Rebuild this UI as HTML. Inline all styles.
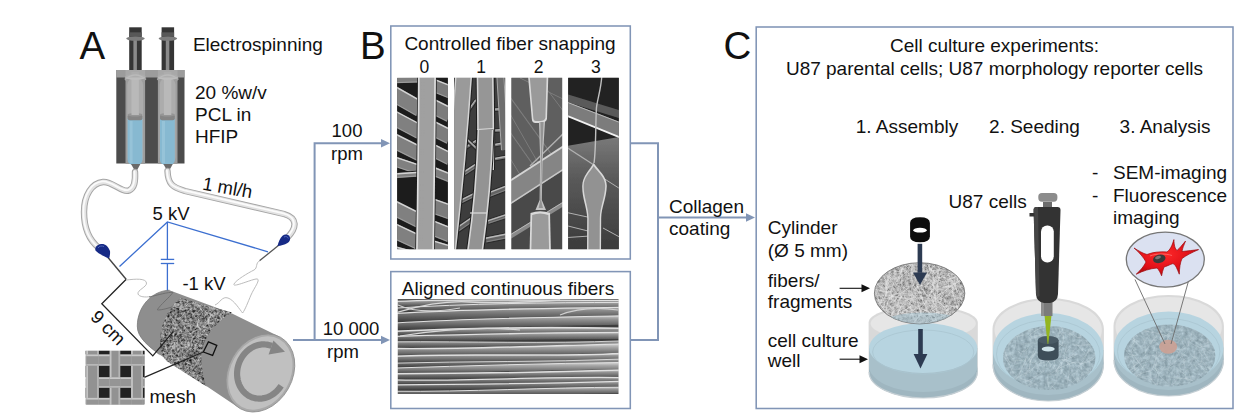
<!DOCTYPE html>
<html><head><meta charset="utf-8"><style>
html,body{margin:0;padding:0;background:#fff;overflow:hidden}
svg{display:block}
text{font-family:"Liberation Sans",sans-serif}
</style></head><body>
<svg width="1252" height="415" viewBox="0 0 1252 415">
<defs></defs>
<rect x="116.3" y="70" width="68.2" height="93.5" fill="#4c4c4c"/>
<rect x="125.5" y="70" width="19.6" height="94" fill="#9d9d9d"/>
<rect x="127.2" y="78" width="16" height="86" rx="7" fill="#acacac"/>
<path d="M127.6,118 L142.4,118 L142.4,160 Q142.4,165 135,165 Q127.6,165 127.6,160 Z" fill="#87b9d1"/>
<rect x="129.6" y="121" width="3" height="42" fill="#9cc7dc" opacity="0.7"/>
<rect x="127.6" y="114.3" width="14.8" height="6" rx="2" fill="#858585"/>
<ellipse cx="135" cy="114.8" rx="7.4" ry="1.8" fill="#959595"/>
<rect x="131.5" y="72" width="7.4" height="43" fill="#b9b9b9"/>
<path d="M131,164 L140.4,164 L135.8,172.5 Z" fill="#6a6a6a"/>
<ellipse cx="135.4" cy="77" rx="10.5" ry="3" fill="#bdbdbd"/>
<rect x="129.2" y="27.3" width="12.5" height="42.7" fill="#353535"/>
<rect x="133.4" y="40" width="3.5" height="30" fill="#8a8a8a"/>
<rect x="129.2" y="32.3" width="12.5" height="4.4" fill="#585858"/>
<ellipse cx="135.5" cy="38.6" rx="9.3" ry="2.2" fill="#7c7c7c"/>
<rect x="157.9" y="70" width="19.6" height="94" fill="#9d9d9d"/>
<rect x="159.6" y="78" width="16" height="86" rx="7" fill="#acacac"/>
<path d="M160.0,118 L174.8,118 L174.8,160 Q174.8,165 167.4,165 Q160.0,165 160.0,160 Z" fill="#87b9d1"/>
<rect x="162.0" y="121" width="3" height="42" fill="#9cc7dc" opacity="0.7"/>
<rect x="160.0" y="114.3" width="14.8" height="6" rx="2" fill="#858585"/>
<ellipse cx="167.4" cy="114.8" rx="7.4" ry="1.8" fill="#959595"/>
<rect x="163.9" y="72" width="7.4" height="43" fill="#b9b9b9"/>
<path d="M163.4,164 L172.8,164 L168.20000000000002,172.5 Z" fill="#6a6a6a"/>
<ellipse cx="167.8" cy="77" rx="10.5" ry="3" fill="#bdbdbd"/>
<rect x="161.6" y="27.3" width="12.5" height="42.7" fill="#353535"/>
<rect x="165.8" y="40" width="3.5" height="30" fill="#8a8a8a"/>
<rect x="161.6" y="32.3" width="12.5" height="4.4" fill="#585858"/>
<ellipse cx="167.9" cy="38.6" rx="9.3" ry="2.2" fill="#7c7c7c"/>
<rect x="116.3" y="70" width="68.2" height="7.5" fill="#aaaaaa" opacity="0.85"/>
<path d="M124.8,79.5 Q135.4,70.5 146,79.5" fill="none" stroke="#bababa" stroke-width="1.6"/>
<path d="M125.5,78 L128.5,81 L125.5,81 Z" fill="#a0a0a0"/>
<path d="M145.1,78 L142.1,81 L145.1,81 Z" fill="#a0a0a0"/>
<path d="M157.2,79.5 Q167.8,70.5 178.4,79.5" fill="none" stroke="#bababa" stroke-width="1.6"/>
<path d="M157.9,78 L160.9,81 L157.9,81 Z" fill="#a0a0a0"/>
<path d="M177.5,78 L174.5,81 L177.5,81 Z" fill="#a0a0a0"/>
<path d="M135,172 C135.5,182 134.5,188 129,190.5 C122,193 112,181 103,182 C92,183 84,195 84,212 C84,228 89,240 99,248" fill="none" stroke="#a5a5a5" stroke-width="6.4" stroke-linecap="round"/>
<path d="M135,172 C135.5,182 134.5,188 129,190.5 C122,193 112,181 103,182 C92,183 84,195 84,212 C84,228 89,240 99,248" fill="none" stroke="#e2e2e2" stroke-width="4.4" stroke-linecap="round"/>
<path d="M135,172 C135.5,182 134.5,188 129,190.5 C122,193 112,181 103,182 C92,183 84,195 84,212 C84,228 89,240 99,248" fill="none" stroke="#fbfbfb" stroke-width="1.8" stroke-linecap="round" transform="translate(-0.6,-0.6)"/>
<path d="M167.5,171 C168,184 172,187 185,191 L284,214 C298,218 297,228 287,238" fill="none" stroke="#a5a5a5" stroke-width="6.4" stroke-linecap="round"/>
<path d="M167.5,171 C168,184 172,187 185,191 L284,214 C298,218 297,228 287,238" fill="none" stroke="#e2e2e2" stroke-width="4.4" stroke-linecap="round"/>
<path d="M167.5,171 C168,184 172,187 185,191 L284,214 C298,218 297,228 287,238" fill="none" stroke="#fbfbfb" stroke-width="1.8" stroke-linecap="round" transform="translate(-0.6,-0.6)"/>
<line x1="108" y1="257.5" x2="126.3" y2="279.5" stroke="#444" stroke-width="1.4"/>
<line x1="279" y1="245" x2="259.5" y2="260.8" stroke="#555" stroke-width="1.3"/>
<path d="M109,258.5 C103,256 97.5,253 95.5,250.5 C94.5,247.5 97,244.5 101,244 C105,243.5 108,246 110,251 C110.3,253.5 109.8,256.5 109,258.5 Z" fill="#162a86"/>
<path d="M98,248 C99,246 102,245.5 104,246.5" fill="none" stroke="#4f66b8" stroke-width="1"/>
<path d="M277.5,246 C278.5,242 280,238 282.5,235.8 C285,233.8 288.5,234.3 289.8,237 C290.8,239.5 289.5,242 287.5,243 C284.5,244.8 281,245.8 277.5,246 Z" fill="#162a86"/>
<path d="M284,237 C286,236 288,236.8 288.3,238.5" fill="none" stroke="#4f66b8" stroke-width="1"/>
<polyline points="119.5,266.5 167.4,222 268,251.8" fill="none" stroke="#3c6fd0" stroke-width="1.3"/>
<line x1="167.4" y1="222" x2="167.4" y2="259.3" stroke="#3c6fd0" stroke-width="1.3"/>
<line x1="167.4" y1="263.6" x2="167.4" y2="291" stroke="#3c6fd0" stroke-width="1.3"/>
<line x1="160.8" y1="259.4" x2="174.2" y2="259.4" stroke="#3c6fd0" stroke-width="1.3"/>
<line x1="160.8" y1="263.5" x2="174.2" y2="263.5" stroke="#3c6fd0" stroke-width="1.3"/>
<path d="M126.5,280 C135,279 146,278 146.5,283 C147,287 137,290 138,294 C139,297 146,297.5 150,296.5" fill="none" stroke="#b4b4b4" stroke-width="0.9"/>
<path d="M260,260.5 C255,263 258,268 254,270 C248,273 236,280 234,284 C232,288 250,280 256,279 C262,278 254,288 251,295 C248,302 245,310 242.6,313 C240,310 234,300 228,298 C222,296 220,303 215,305" fill="none" stroke="#b4b4b4" stroke-width="0.9"/>
<path d="M169.4,290.2 L232,313.4 L279.2,336.6 L260.4,373 L238.7,407.7 L159.5,354.6 C150,347 137,338 137.3,326 C137.5,306 152,291 169.4,290.2 Z" fill="#8e8e8e"/>
<path d="M159.5,354.6 C150,347 137,338 137.3,326 C137.5,306 152,291 169.4,290.2" fill="none" stroke="#7a7a7a" stroke-width="0.8"/>
<clipPath id="bandclip"><path d="M180.4,298 L232,312.6 C212,325 192,345 206.5,386.5 L166.5,361 C152,345 164,310 180.4,298 Z"/></clipPath>
<filter id="bandtex" color-interpolation-filters="sRGB" x="150" y="285" width="95" height="110" filterUnits="userSpaceOnUse"><feTurbulence type="fractalNoise" baseFrequency="0.4" numOctaves="3" seed="4"/><feColorMatrix type="matrix" values="1.0 0 0 0 -0.1  1.0 0 0 0 -0.1  1.0 0 0 0 -0.1  0 0 0 0 1"/></filter>
<g clip-path="url(#bandclip)"><rect x="150" y="285" width="95" height="110" filter="url(#bandtex)"/>
<g fill="none">
<path d="M178.9,307.1 Q183.7,307.0 187.8,309.2" stroke="#d8d8d8" stroke-width="0.58" opacity="0.85"/>
<path d="M169.8,300.6 Q172.9,299.6 175.2,305.6" stroke="#d8d8d8" stroke-width="0.59" opacity="0.85"/>
<path d="M204.3,350.3 Q200.1,350.2 203.1,354.6" stroke="#c0c0c0" stroke-width="0.42" opacity="0.85"/>
<path d="M164.0,303.8 Q158.7,306.2 158.6,307.3" stroke="#c0c0c0" stroke-width="0.44" opacity="0.85"/>
<path d="M197.5,298.3 Q200.7,299.0 201.0,301.0" stroke="#e8e8e8" stroke-width="0.47" opacity="0.85"/>
<path d="M228.6,328.2 Q233.4,326.4 233.7,331.4" stroke="#e8e8e8" stroke-width="0.48" opacity="0.85"/>
<path d="M224.6,364.9 Q218.4,364.5 218.3,365.3" stroke="#e8e8e8" stroke-width="0.39" opacity="0.85"/>
<path d="M192.6,295.9 Q189.7,302.1 185.7,302.2" stroke="#e8e8e8" stroke-width="0.44" opacity="0.85"/>
<path d="M181.1,341.7 Q182.9,340.9 191.2,343.9" stroke="#d8d8d8" stroke-width="0.37" opacity="0.85"/>
<path d="M210.2,356.7 Q203.4,359.0 200.1,363.1" stroke="#e8e8e8" stroke-width="0.36" opacity="0.85"/>
<path d="M190.3,308.8 Q194.9,306.3 195.2,309.7" stroke="#c0c0c0" stroke-width="0.45" opacity="0.85"/>
<path d="M228.1,341.7 Q227.1,341.3 229.7,346.7" stroke="#b0b0b0" stroke-width="0.57" opacity="0.85"/>
<path d="M175.1,333.5 Q175.6,332.0 168.7,336.0" stroke="#c0c0c0" stroke-width="0.39" opacity="0.85"/>
<path d="M206.7,293.2 Q209.4,293.3 215.6,299.0" stroke="#e8e8e8" stroke-width="0.50" opacity="0.85"/>
<path d="M178.4,304.5 Q174.3,307.3 167.7,306.2" stroke="#b0b0b0" stroke-width="0.57" opacity="0.85"/>
<path d="M216.7,379.5 Q217.7,381.2 220.2,389.2" stroke="#b0b0b0" stroke-width="0.37" opacity="0.85"/>
<path d="M157.6,312.9 Q155.3,311.2 160.1,317.5" stroke="#c0c0c0" stroke-width="0.48" opacity="0.85"/>
<path d="M230.8,353.4 Q231.6,355.8 234.4,356.1" stroke="#e8e8e8" stroke-width="0.50" opacity="0.85"/>
<path d="M191.4,303.5 Q187.3,302.3 183.5,304.1" stroke="#c0c0c0" stroke-width="0.38" opacity="0.85"/>
<path d="M180.4,318.5 Q181.3,324.7 189.7,323.6" stroke="#e8e8e8" stroke-width="0.39" opacity="0.85"/>
<path d="M197.1,294.7 Q195.9,296.6 188.9,295.3" stroke="#e8e8e8" stroke-width="0.48" opacity="0.85"/>
<path d="M227.4,327.6 Q227.0,331.5 226.6,333.3" stroke="#c0c0c0" stroke-width="0.55" opacity="0.85"/>
<path d="M219.9,366.0 Q218.6,365.1 219.6,371.8" stroke="#d8d8d8" stroke-width="0.55" opacity="0.85"/>
<path d="M191.2,311.4 Q195.7,317.1 195.4,319.2" stroke="#e8e8e8" stroke-width="0.59" opacity="0.85"/>
<path d="M182.3,314.0 Q182.3,316.7 187.0,317.4" stroke="#d8d8d8" stroke-width="0.47" opacity="0.85"/>
<path d="M206.2,372.0 Q208.3,376.3 203.9,376.1" stroke="#c0c0c0" stroke-width="0.47" opacity="0.85"/>
<path d="M166.8,370.9 Q167.9,372.0 161.4,374.8" stroke="#b0b0b0" stroke-width="0.54" opacity="0.85"/>
<path d="M159.0,307.9 Q165.7,308.1 170.9,308.9" stroke="#c0c0c0" stroke-width="0.50" opacity="0.85"/>
<path d="M201.5,339.4 Q206.9,338.3 211.6,344.8" stroke="#d8d8d8" stroke-width="0.48" opacity="0.85"/>
<path d="M229.5,335.4 Q222.5,336.2 220.1,341.1" stroke="#e8e8e8" stroke-width="0.48" opacity="0.85"/>
<path d="M215.4,324.6 Q208.2,328.6 208.1,328.8" stroke="#b0b0b0" stroke-width="0.52" opacity="0.85"/>
<path d="M219.6,343.7 Q211.8,342.9 209.8,347.6" stroke="#d8d8d8" stroke-width="0.57" opacity="0.85"/>
<path d="M216.5,352.9 Q218.1,356.1 225.5,357.5" stroke="#d8d8d8" stroke-width="0.49" opacity="0.85"/>
<path d="M179.1,343.8 Q172.6,347.0 172.5,349.1" stroke="#c0c0c0" stroke-width="0.40" opacity="0.85"/>
<path d="M155.5,301.8 Q162.4,298.6 163.1,302.4" stroke="#e8e8e8" stroke-width="0.50" opacity="0.85"/>
<path d="M194.0,343.2 Q194.9,347.8 195.4,352.7" stroke="#c0c0c0" stroke-width="0.52" opacity="0.85"/>
<path d="M224.8,386.2 Q227.7,391.9 223.6,392.2" stroke="#c0c0c0" stroke-width="0.45" opacity="0.85"/>
<path d="M184.6,323.6 Q183.3,326.6 186.7,332.7" stroke="#d8d8d8" stroke-width="0.57" opacity="0.85"/>
<path d="M164.8,363.6 Q172.1,369.4 173.2,367.6" stroke="#c0c0c0" stroke-width="0.54" opacity="0.85"/>
<path d="M159.8,380.5 Q156.3,384.4 157.1,385.1" stroke="#b0b0b0" stroke-width="0.43" opacity="0.85"/>
<path d="M168.2,323.9 Q173.6,323.7 178.0,324.5" stroke="#d8d8d8" stroke-width="0.45" opacity="0.85"/>
<path d="M194.9,321.5 Q203.8,321.4 205.9,325.6" stroke="#d8d8d8" stroke-width="0.37" opacity="0.85"/>
<path d="M174.6,382.6 Q175.2,387.3 170.6,386.4" stroke="#e8e8e8" stroke-width="0.45" opacity="0.85"/>
<path d="M196.5,343.5 Q196.8,349.3 200.7,350.3" stroke="#c0c0c0" stroke-width="0.46" opacity="0.85"/>
<path d="M158.0,385.8 Q151.0,391.3 150.6,391.1" stroke="#d8d8d8" stroke-width="0.42" opacity="0.85"/>
<path d="M162.1,293.2 Q166.9,299.9 165.2,304.7" stroke="#d8d8d8" stroke-width="0.48" opacity="0.85"/>
<path d="M171.8,302.9 Q172.0,301.9 177.0,303.8" stroke="#e8e8e8" stroke-width="0.48" opacity="0.85"/>
<path d="M169.1,336.6 Q174.6,344.0 175.3,343.6" stroke="#d8d8d8" stroke-width="0.35" opacity="0.85"/>
<path d="M212.8,347.1 Q216.5,346.7 213.3,352.6" stroke="#b0b0b0" stroke-width="0.51" opacity="0.85"/>
<path d="M197.3,380.9 Q198.4,383.6 204.0,390.6" stroke="#c0c0c0" stroke-width="0.56" opacity="0.85"/>
<path d="M210.7,355.6 Q208.8,355.8 214.0,362.0" stroke="#d8d8d8" stroke-width="0.51" opacity="0.85"/>
<path d="M225.0,335.1 Q223.0,337.1 222.8,338.9" stroke="#e8e8e8" stroke-width="0.50" opacity="0.85"/>
<path d="M209.5,296.5 Q207.3,297.5 213.1,300.6" stroke="#e8e8e8" stroke-width="0.59" opacity="0.85"/>
<path d="M197.4,316.4 Q199.6,317.3 204.0,326.1" stroke="#b0b0b0" stroke-width="0.37" opacity="0.85"/>
<path d="M175.2,357.6 Q169.6,362.1 170.6,361.5" stroke="#c0c0c0" stroke-width="0.45" opacity="0.85"/>
<path d="M155.5,294.2 Q158.5,296.6 160.2,298.5" stroke="#c0c0c0" stroke-width="0.51" opacity="0.85"/>
<path d="M211.4,379.9 Q217.2,380.1 215.1,386.0" stroke="#c0c0c0" stroke-width="0.36" opacity="0.85"/>
<path d="M221.3,381.2 Q220.8,381.7 215.3,387.9" stroke="#d8d8d8" stroke-width="0.56" opacity="0.85"/>
<path d="M200.5,381.3 Q195.6,381.4 195.1,389.1" stroke="#c0c0c0" stroke-width="0.51" opacity="0.85"/>
<path d="M231.6,329.7 Q231.5,330.5 239.2,330.9" stroke="#c0c0c0" stroke-width="0.47" opacity="0.85"/>
<path d="M152.3,371.8 Q152.5,378.0 152.2,381.8" stroke="#d8d8d8" stroke-width="0.54" opacity="0.85"/>
<path d="M191.3,372.9 Q197.4,374.4 199.3,380.2" stroke="#b0b0b0" stroke-width="0.47" opacity="0.85"/>
<path d="M183.8,339.9 Q181.2,344.2 176.7,346.2" stroke="#d8d8d8" stroke-width="0.50" opacity="0.85"/>
<path d="M179.5,357.2 Q174.8,361.4 176.0,366.0" stroke="#b0b0b0" stroke-width="0.42" opacity="0.85"/>
<path d="M207.8,361.2 Q210.8,364.7 213.5,368.7" stroke="#b0b0b0" stroke-width="0.54" opacity="0.85"/>
<path d="M234.4,346.9 Q237.4,346.1 240.7,348.6" stroke="#d8d8d8" stroke-width="0.55" opacity="0.85"/>
<path d="M232.4,336.9 Q238.3,336.5 237.2,340.7" stroke="#d8d8d8" stroke-width="0.39" opacity="0.85"/>
<path d="M195.5,387.3 Q193.4,391.7 191.2,390.0" stroke="#e8e8e8" stroke-width="0.41" opacity="0.85"/>
<path d="M226.5,340.6 Q228.5,340.2 230.7,340.7" stroke="#e8e8e8" stroke-width="0.53" opacity="0.85"/>
<path d="M186.5,329.6 Q186.4,330.5 189.1,333.9" stroke="#b0b0b0" stroke-width="0.38" opacity="0.85"/>
<path d="M228.9,363.3 Q231.3,366.9 235.8,372.2" stroke="#d8d8d8" stroke-width="0.44" opacity="0.85"/>
<path d="M187.5,319.5 Q192.3,318.5 191.7,320.9" stroke="#c0c0c0" stroke-width="0.41" opacity="0.85"/>
<path d="M174.1,343.1 Q178.8,348.7 176.2,348.2" stroke="#b0b0b0" stroke-width="0.58" opacity="0.85"/>
<path d="M230.1,346.9 Q236.8,347.3 239.7,348.4" stroke="#c0c0c0" stroke-width="0.51" opacity="0.85"/>
<path d="M175.8,296.9 Q180.8,297.9 186.3,301.3" stroke="#e8e8e8" stroke-width="0.41" opacity="0.85"/>
<path d="M213.3,357.3 Q215.8,361.1 218.6,362.2" stroke="#d8d8d8" stroke-width="0.39" opacity="0.85"/>
<path d="M165.4,312.8 Q163.2,321.7 165.5,324.0" stroke="#b0b0b0" stroke-width="0.46" opacity="0.85"/>
<path d="M197.5,316.4 Q195.5,318.0 196.5,321.7" stroke="#c0c0c0" stroke-width="0.57" opacity="0.85"/>
<path d="M214.2,333.3 Q213.0,335.6 213.7,340.6" stroke="#d8d8d8" stroke-width="0.47" opacity="0.85"/>
<path d="M199.7,328.0 Q201.6,335.5 198.8,337.5" stroke="#d8d8d8" stroke-width="0.42" opacity="0.85"/>
<path d="M172.6,332.0 Q171.7,335.5 165.1,333.1" stroke="#d8d8d8" stroke-width="0.38" opacity="0.85"/>
<path d="M187.3,368.4 Q182.0,365.5 176.9,369.4" stroke="#b0b0b0" stroke-width="0.59" opacity="0.85"/>
<path d="M172.6,302.9 Q173.9,309.0 172.3,308.1" stroke="#b0b0b0" stroke-width="0.37" opacity="0.85"/>
<path d="M216.5,292.1 Q212.2,296.3 215.4,297.0" stroke="#c0c0c0" stroke-width="0.51" opacity="0.85"/>
<path d="M195.8,335.7 Q199.1,340.8 205.5,338.9" stroke="#c0c0c0" stroke-width="0.45" opacity="0.85"/>
<path d="M170.6,352.1 Q171.4,357.4 172.9,355.4" stroke="#c0c0c0" stroke-width="0.47" opacity="0.85"/>
<path d="M171.5,316.7 Q166.4,317.6 164.5,326.1" stroke="#b0b0b0" stroke-width="0.57" opacity="0.85"/>
<path d="M205.7,300.1 Q205.4,302.9 207.1,305.8" stroke="#e8e8e8" stroke-width="0.53" opacity="0.85"/>
<path d="M182.1,331.6 Q186.1,329.8 184.5,334.9" stroke="#b0b0b0" stroke-width="0.59" opacity="0.85"/>
<path d="M177.9,374.0 Q182.2,374.2 182.4,377.7" stroke="#b0b0b0" stroke-width="0.50" opacity="0.85"/>
<path d="M226.4,340.5 Q232.7,344.9 237.5,342.5" stroke="#d8d8d8" stroke-width="0.40" opacity="0.85"/>
<path d="M232.9,306.2 Q234.2,309.8 237.2,307.0" stroke="#e8e8e8" stroke-width="0.53" opacity="0.85"/>
<path d="M234.8,385.2 Q241.1,389.0 240.3,388.8" stroke="#d8d8d8" stroke-width="0.43" opacity="0.85"/>
<path d="M212.2,375.9 Q210.1,378.4 214.3,387.6" stroke="#d8d8d8" stroke-width="0.44" opacity="0.85"/>
<path d="M231.3,304.4 Q234.8,310.5 240.6,311.5" stroke="#b0b0b0" stroke-width="0.37" opacity="0.85"/>
<path d="M210.5,311.6 Q209.8,317.6 211.9,319.8" stroke="#b0b0b0" stroke-width="0.36" opacity="0.85"/>
<path d="M186.1,373.2 Q187.4,370.3 196.1,374.5" stroke="#d8d8d8" stroke-width="0.41" opacity="0.85"/>
<path d="M214.0,381.9 Q219.9,385.3 218.4,386.9" stroke="#e8e8e8" stroke-width="0.54" opacity="0.85"/>
<path d="M209.2,384.4 Q208.0,389.3 205.1,389.3" stroke="#d8d8d8" stroke-width="0.36" opacity="0.85"/>
<path d="M171.4,339.5 Q164.7,338.4 159.9,341.2" stroke="#b0b0b0" stroke-width="0.55" opacity="0.85"/>
<path d="M163.0,341.7 Q159.5,343.6 159.0,342.5" stroke="#c0c0c0" stroke-width="0.50" opacity="0.85"/>
<path d="M179.2,324.0 Q173.2,323.7 173.9,328.3" stroke="#c0c0c0" stroke-width="0.41" opacity="0.85"/>
<path d="M157.4,295.4 Q163.4,302.0 161.8,302.6" stroke="#d8d8d8" stroke-width="0.42" opacity="0.85"/>
<path d="M159.0,301.6 Q156.1,302.7 154.1,308.0" stroke="#b0b0b0" stroke-width="0.47" opacity="0.85"/>
<path d="M226.0,315.5 Q224.9,320.4 219.7,320.9" stroke="#e8e8e8" stroke-width="0.42" opacity="0.85"/>
<path d="M199.1,329.3 Q201.0,330.2 207.1,335.1" stroke="#c0c0c0" stroke-width="0.42" opacity="0.85"/>
<path d="M227.3,310.8 Q226.9,312.6 230.5,314.0" stroke="#d8d8d8" stroke-width="0.51" opacity="0.85"/>
<path d="M234.2,302.2 Q233.7,307.6 227.7,306.4" stroke="#d8d8d8" stroke-width="0.57" opacity="0.85"/>
<path d="M171.3,297.0 Q165.1,295.9 163.8,301.6" stroke="#c0c0c0" stroke-width="0.46" opacity="0.85"/>
<path d="M173.6,369.8 Q179.8,372.6 184.5,373.6" stroke="#c0c0c0" stroke-width="0.36" opacity="0.85"/>
<path d="M180.2,296.4 Q188.0,300.4 192.1,297.9" stroke="#d8d8d8" stroke-width="0.55" opacity="0.85"/>
<path d="M185.9,329.2 Q186.5,330.2 194.6,331.4" stroke="#b0b0b0" stroke-width="0.37" opacity="0.85"/>
<path d="M160.4,331.5 Q155.4,332.6 156.9,339.1" stroke="#e8e8e8" stroke-width="0.45" opacity="0.85"/>
<path d="M175.5,322.8 Q179.3,326.4 182.0,332.4" stroke="#b0b0b0" stroke-width="0.35" opacity="0.85"/>
<path d="M215.6,372.2 Q216.4,380.1 218.7,380.8" stroke="#b0b0b0" stroke-width="0.58" opacity="0.85"/>
<path d="M187.2,374.0 Q183.5,372.6 180.4,376.6" stroke="#d8d8d8" stroke-width="0.36" opacity="0.85"/>
<path d="M163.8,372.6 Q166.4,378.0 162.2,379.6" stroke="#c0c0c0" stroke-width="0.39" opacity="0.85"/>
<path d="M175.5,344.1 Q180.8,348.5 186.3,347.9" stroke="#c0c0c0" stroke-width="0.43" opacity="0.85"/>
<path d="M221.5,296.3 Q225.5,302.2 227.7,305.8" stroke="#d8d8d8" stroke-width="0.58" opacity="0.85"/>
<path d="M203.5,374.5 Q199.2,375.3 199.4,377.7" stroke="#c0c0c0" stroke-width="0.56" opacity="0.85"/>
<path d="M167.2,313.8 Q166.1,314.4 166.8,321.0" stroke="#c0c0c0" stroke-width="0.59" opacity="0.85"/>
<path d="M219.7,311.3 Q216.2,315.2 210.0,316.5" stroke="#e8e8e8" stroke-width="0.38" opacity="0.85"/>
<path d="M201.8,347.0 Q203.7,351.4 206.9,354.4" stroke="#b0b0b0" stroke-width="0.45" opacity="0.85"/>
<path d="M182.5,342.4 Q189.1,342.1 187.9,342.4" stroke="#b0b0b0" stroke-width="0.54" opacity="0.85"/>
<path d="M216.7,337.8 Q213.8,337.6 217.2,343.2" stroke="#b0b0b0" stroke-width="0.44" opacity="0.85"/>
<path d="M218.6,342.4 Q220.2,346.4 227.8,343.6" stroke="#e8e8e8" stroke-width="0.54" opacity="0.85"/>
<path d="M194.5,297.4 Q199.6,298.2 197.5,304.9" stroke="#d8d8d8" stroke-width="0.60" opacity="0.85"/>
<path d="M212.8,373.5 Q209.9,377.3 207.2,373.8" stroke="#c0c0c0" stroke-width="0.52" opacity="0.85"/>
<path d="M211.8,314.1 Q208.1,317.7 208.2,324.1" stroke="#e8e8e8" stroke-width="0.58" opacity="0.85"/>
<path d="M189.9,317.4 Q191.0,324.2 190.6,329.1" stroke="#c0c0c0" stroke-width="0.43" opacity="0.85"/>
<path d="M155.1,310.2 Q153.9,313.9 149.9,311.3" stroke="#c0c0c0" stroke-width="0.55" opacity="0.85"/>
<path d="M173.9,368.8 Q175.7,369.4 170.0,370.7" stroke="#d8d8d8" stroke-width="0.41" opacity="0.85"/>
<path d="M196.5,377.7 Q197.4,381.2 200.4,386.8" stroke="#c0c0c0" stroke-width="0.44" opacity="0.85"/>
<path d="M215.5,336.2 Q210.0,340.7 211.7,340.1" stroke="#e8e8e8" stroke-width="0.43" opacity="0.85"/>
<path d="M232.2,379.0 Q228.6,382.8 221.4,382.7" stroke="#c0c0c0" stroke-width="0.39" opacity="0.85"/>
<path d="M203.1,335.2 Q196.4,334.3 195.5,337.8" stroke="#d8d8d8" stroke-width="0.36" opacity="0.85"/>
<path d="M152.2,327.5 Q151.1,330.4 154.3,331.9" stroke="#c0c0c0" stroke-width="0.40" opacity="0.85"/>
<path d="M203.8,339.5 Q199.2,337.2 198.8,340.5" stroke="#d8d8d8" stroke-width="0.37" opacity="0.85"/>
<path d="M164.0,358.5 Q165.2,356.7 158.9,362.0" stroke="#e8e8e8" stroke-width="0.50" opacity="0.85"/>
<path d="M200.0,352.2 Q197.4,352.3 200.2,360.3" stroke="#d8d8d8" stroke-width="0.48" opacity="0.85"/>
<path d="M185.7,315.8 Q180.1,317.6 182.3,318.6" stroke="#c0c0c0" stroke-width="0.39" opacity="0.85"/>
<path d="M168.6,352.8 Q169.3,353.8 165.1,360.1" stroke="#e8e8e8" stroke-width="0.37" opacity="0.85"/>
<path d="M204.0,391.4 Q204.6,395.3 204.6,401.2" stroke="#b0b0b0" stroke-width="0.54" opacity="0.85"/>
<path d="M190.6,366.2 Q190.3,366.5 196.4,371.1" stroke="#d8d8d8" stroke-width="0.38" opacity="0.85"/>
<path d="M226.0,384.5 Q226.3,389.9 233.8,393.0" stroke="#b0b0b0" stroke-width="0.52" opacity="0.85"/>
<path d="M228.1,389.2 Q228.2,386.6 221.9,390.6" stroke="#d8d8d8" stroke-width="0.39" opacity="0.85"/>
<path d="M227.1,376.2 Q232.9,375.1 232.0,378.9" stroke="#b0b0b0" stroke-width="0.43" opacity="0.85"/>
<path d="M171.9,382.8 Q170.6,390.3 166.7,390.2" stroke="#b0b0b0" stroke-width="0.47" opacity="0.85"/>
<path d="M196.0,292.6 Q191.8,296.0 191.9,293.2" stroke="#c0c0c0" stroke-width="0.45" opacity="0.85"/>
<path d="M200.6,348.5 Q200.1,349.8 205.9,349.1" stroke="#c0c0c0" stroke-width="0.44" opacity="0.85"/>
<path d="M163.8,294.9 Q163.6,298.2 161.3,298.4" stroke="#d8d8d8" stroke-width="0.37" opacity="0.85"/>
<path d="M201.0,328.3 Q199.7,327.7 192.1,334.0" stroke="#b0b0b0" stroke-width="0.38" opacity="0.85"/>
<path d="M169.1,303.2 Q169.7,305.3 165.3,305.2" stroke="#e8e8e8" stroke-width="0.47" opacity="0.85"/>
<path d="M163.0,371.2 Q164.5,372.9 168.5,378.5" stroke="#e8e8e8" stroke-width="0.41" opacity="0.85"/>
<path d="M175.5,363.6 Q181.0,366.5 179.2,369.4" stroke="#e8e8e8" stroke-width="0.50" opacity="0.85"/>
<path d="M154.6,333.3 Q150.5,337.4 148.9,338.2" stroke="#c0c0c0" stroke-width="0.53" opacity="0.85"/>
<path d="M220.7,349.5 Q221.5,350.8 222.0,355.6" stroke="#d8d8d8" stroke-width="0.35" opacity="0.85"/>
<path d="M192.7,341.1 Q197.0,342.8 201.4,346.8" stroke="#e8e8e8" stroke-width="0.49" opacity="0.85"/>
<path d="M165.2,373.5 Q166.8,380.9 173.8,381.2" stroke="#d8d8d8" stroke-width="0.47" opacity="0.85"/>
<path d="M234.3,348.1 Q232.3,353.6 236.8,352.3" stroke="#d8d8d8" stroke-width="0.46" opacity="0.85"/>
<path d="M205.6,329.2 Q206.7,329.7 207.0,335.5" stroke="#c0c0c0" stroke-width="0.59" opacity="0.85"/>
<path d="M162.5,351.4 Q157.3,356.6 159.4,360.4" stroke="#c0c0c0" stroke-width="0.57" opacity="0.85"/>
<path d="M189.4,347.4 Q191.3,348.7 190.1,353.9" stroke="#c0c0c0" stroke-width="0.38" opacity="0.85"/>
<path d="M190.3,380.5 Q191.2,383.8 195.2,383.9" stroke="#c0c0c0" stroke-width="0.53" opacity="0.85"/>
<path d="M232.9,364.3 Q232.8,371.9 236.9,372.2" stroke="#e8e8e8" stroke-width="0.59" opacity="0.85"/>
<path d="M212.5,302.2 Q217.1,307.9 223.6,305.9" stroke="#e8e8e8" stroke-width="0.53" opacity="0.85"/>
<path d="M188.1,311.6 Q190.0,312.2 196.7,314.6" stroke="#d8d8d8" stroke-width="0.35" opacity="0.85"/>
<path d="M222.9,335.7 Q218.4,332.0 217.1,336.0" stroke="#e8e8e8" stroke-width="0.50" opacity="0.85"/>
<path d="M185.6,366.1 Q187.4,373.6 188.0,377.1" stroke="#b0b0b0" stroke-width="0.56" opacity="0.85"/>
<path d="M207.4,357.2 Q205.7,360.1 202.7,367.2" stroke="#c0c0c0" stroke-width="0.51" opacity="0.85"/>
<path d="M189.7,323.3 Q193.3,326.9 198.3,326.0" stroke="#c0c0c0" stroke-width="0.41" opacity="0.85"/>
<path d="M187.2,337.5 Q189.8,345.3 189.7,346.1" stroke="#c0c0c0" stroke-width="0.57" opacity="0.85"/>
<path d="M179.2,293.1 Q171.0,292.6 169.0,296.1" stroke="#c0c0c0" stroke-width="0.39" opacity="0.85"/>
<path d="M216.9,386.1 Q221.4,387.7 224.6,388.6" stroke="#b0b0b0" stroke-width="0.48" opacity="0.85"/>
<path d="M205.1,374.9 Q209.8,376.5 207.3,382.7" stroke="#c0c0c0" stroke-width="0.45" opacity="0.85"/>
<path d="M215.3,304.2 Q214.4,307.8 220.5,314.9" stroke="#b0b0b0" stroke-width="0.37" opacity="0.85"/>
<path d="M158.2,383.5 Q156.5,384.3 153.5,391.2" stroke="#e8e8e8" stroke-width="0.54" opacity="0.85"/>
<path d="M230.0,344.7 Q226.8,344.1 225.3,348.1" stroke="#c0c0c0" stroke-width="0.58" opacity="0.85"/>
<path d="M157.7,371.8 Q158.3,376.9 155.3,376.8" stroke="#c0c0c0" stroke-width="0.44" opacity="0.85"/>
<path d="M205.0,373.9 Q203.9,379.5 206.1,384.4" stroke="#c0c0c0" stroke-width="0.54" opacity="0.85"/>
<path d="M191.0,370.4 Q190.7,376.6 187.5,375.0" stroke="#c0c0c0" stroke-width="0.47" opacity="0.85"/>
<path d="M218.9,371.9 Q215.8,374.8 215.7,378.0" stroke="#d8d8d8" stroke-width="0.51" opacity="0.85"/>
<path d="M182.1,384.9 Q190.0,389.1 192.7,386.8" stroke="#c0c0c0" stroke-width="0.48" opacity="0.85"/>
<path d="M180.6,350.2 Q180.9,351.4 188.0,355.9" stroke="#d8d8d8" stroke-width="0.49" opacity="0.85"/>
<path d="M222.9,310.6 Q217.6,312.2 217.0,315.3" stroke="#c0c0c0" stroke-width="0.50" opacity="0.85"/>
<path d="M209.1,389.7 Q207.2,391.5 204.6,391.2" stroke="#e8e8e8" stroke-width="0.40" opacity="0.85"/>
<path d="M209.5,345.1 Q213.5,350.4 211.4,354.8" stroke="#e8e8e8" stroke-width="0.45" opacity="0.85"/>
<path d="M220.6,339.3 Q224.1,345.2 221.1,347.8" stroke="#c0c0c0" stroke-width="0.47" opacity="0.85"/>
<path d="M196.8,378.3 Q194.7,379.8 193.2,380.2" stroke="#e8e8e8" stroke-width="0.56" opacity="0.85"/>
<path d="M183.1,333.9 Q189.9,336.3 194.5,336.6" stroke="#d8d8d8" stroke-width="0.36" opacity="0.85"/>
<path d="M155.8,365.7 Q147.6,368.9 145.9,372.4" stroke="#c0c0c0" stroke-width="0.36" opacity="0.85"/>
<path d="M211.6,354.5 Q207.5,355.7 205.5,357.4" stroke="#c0c0c0" stroke-width="0.42" opacity="0.85"/>
<path d="M180.4,317.2 Q180.6,318.9 183.1,320.6" stroke="#e8e8e8" stroke-width="0.48" opacity="0.85"/>
<path d="M174.6,342.6 Q174.1,346.5 169.0,353.1" stroke="#e8e8e8" stroke-width="0.53" opacity="0.85"/>
<path d="M162.6,389.3 Q159.4,389.7 157.9,389.3" stroke="#b0b0b0" stroke-width="0.49" opacity="0.85"/>
<path d="M156.1,322.0 Q161.2,324.0 159.5,324.3" stroke="#d8d8d8" stroke-width="0.55" opacity="0.85"/>
<path d="M227.5,353.2 Q227.4,358.1 224.0,361.4" stroke="#d8d8d8" stroke-width="0.40" opacity="0.85"/>
<path d="M207.4,337.8 Q209.6,335.7 217.0,341.0" stroke="#d8d8d8" stroke-width="0.58" opacity="0.85"/>
<path d="M206.4,328.9 Q202.8,330.2 198.1,335.5" stroke="#e8e8e8" stroke-width="0.40" opacity="0.85"/>
<path d="M154.8,294.0 Q157.1,298.2 152.8,302.3" stroke="#d8d8d8" stroke-width="0.56" opacity="0.85"/>
<path d="M216.2,334.1 Q214.2,340.1 219.0,343.2" stroke="#c0c0c0" stroke-width="0.47" opacity="0.85"/>
<path d="M186.2,302.2 Q187.0,301.2 193.4,307.9" stroke="#d8d8d8" stroke-width="0.35" opacity="0.85"/>
<path d="M207.6,390.7 Q208.7,393.9 216.0,397.5" stroke="#e8e8e8" stroke-width="0.53" opacity="0.85"/>
<path d="M172.1,365.4 Q177.0,367.5 177.5,366.2" stroke="#c0c0c0" stroke-width="0.53" opacity="0.85"/>
<path d="M159.0,354.9 Q163.1,357.7 160.2,364.5" stroke="#d8d8d8" stroke-width="0.53" opacity="0.85"/>
<path d="M152.9,293.5 Q145.7,294.5 145.2,298.5" stroke="#c0c0c0" stroke-width="0.59" opacity="0.85"/>
<path d="M221.3,352.9 Q219.9,353.2 214.9,353.9" stroke="#c0c0c0" stroke-width="0.39" opacity="0.85"/>
<path d="M218.2,328.3 Q215.7,331.6 214.6,336.7" stroke="#b0b0b0" stroke-width="0.59" opacity="0.85"/>
<path d="M217.1,348.7 Q224.0,350.9 223.3,349.9" stroke="#e8e8e8" stroke-width="0.57" opacity="0.85"/>
<path d="M212.2,293.6 Q210.7,298.7 207.7,296.2" stroke="#c0c0c0" stroke-width="0.44" opacity="0.85"/>
<path d="M208.8,352.2 Q202.5,351.4 199.7,358.5" stroke="#e8e8e8" stroke-width="0.42" opacity="0.85"/>
<path d="M165.1,384.1 Q159.4,384.4 157.2,390.4" stroke="#c0c0c0" stroke-width="0.42" opacity="0.85"/>
<path d="M222.6,372.7 Q216.9,370.7 213.5,375.2" stroke="#b0b0b0" stroke-width="0.55" opacity="0.85"/>
<path d="M168.6,367.0 Q173.7,372.3 177.1,374.7" stroke="#b0b0b0" stroke-width="0.53" opacity="0.85"/>
<path d="M228.9,350.6 Q229.9,352.8 230.3,354.5" stroke="#e8e8e8" stroke-width="0.54" opacity="0.85"/>
<path d="M171.3,350.0 Q166.3,351.7 160.9,353.9" stroke="#c0c0c0" stroke-width="0.40" opacity="0.85"/>
<path d="M168.0,310.1 Q170.5,313.7 172.0,318.8" stroke="#c0c0c0" stroke-width="0.41" opacity="0.85"/>
<path d="M228.6,341.3 Q230.4,343.0 232.9,351.4" stroke="#e8e8e8" stroke-width="0.50" opacity="0.85"/>
<path d="M180.6,343.9 Q186.6,347.1 184.8,344.4" stroke="#b0b0b0" stroke-width="0.50" opacity="0.85"/>
<path d="M169.7,384.5 Q172.3,386.2 175.7,386.4" stroke="#c0c0c0" stroke-width="0.41" opacity="0.85"/>
<path d="M155.1,312.1 Q154.2,313.3 160.4,313.5" stroke="#b0b0b0" stroke-width="0.47" opacity="0.85"/>
<path d="M222.2,381.5 Q223.2,388.1 217.5,391.3" stroke="#d8d8d8" stroke-width="0.41" opacity="0.85"/>
<path d="M198.9,356.1 Q195.0,360.7 192.9,366.1" stroke="#c0c0c0" stroke-width="0.44" opacity="0.85"/>
<path d="M171.5,364.1 Q172.4,361.0 166.2,365.1" stroke="#d8d8d8" stroke-width="0.56" opacity="0.85"/>
<path d="M155.9,370.6 Q157.6,371.4 151.6,379.3" stroke="#c0c0c0" stroke-width="0.43" opacity="0.85"/>
<path d="M152.5,311.9 Q150.6,317.9 149.7,321.5" stroke="#b0b0b0" stroke-width="0.43" opacity="0.85"/>
<path d="M173.3,304.4 Q174.6,303.5 180.1,308.4" stroke="#d8d8d8" stroke-width="0.47" opacity="0.85"/>
<path d="M227.7,371.9 Q222.1,374.2 223.2,374.5" stroke="#e8e8e8" stroke-width="0.57" opacity="0.85"/>
<path d="M163.6,336.7 Q164.0,338.3 158.9,337.8" stroke="#b0b0b0" stroke-width="0.59" opacity="0.85"/>
<path d="M178.8,315.4 Q178.4,319.5 180.8,319.9" stroke="#c0c0c0" stroke-width="0.53" opacity="0.85"/>
<path d="M197.9,306.5 Q200.9,307.8 205.3,314.6" stroke="#e8e8e8" stroke-width="0.49" opacity="0.85"/>
<path d="M176.6,372.4 Q179.1,373.3 182.3,374.5" stroke="#c0c0c0" stroke-width="0.59" opacity="0.85"/>
<path d="M156.7,381.5 Q160.2,382.7 164.1,387.3" stroke="#e8e8e8" stroke-width="0.54" opacity="0.85"/>
<path d="M232.6,335.2 Q232.7,336.4 237.0,339.4" stroke="#b0b0b0" stroke-width="0.57" opacity="0.85"/>
<path d="M156.8,364.6 Q149.7,367.3 150.4,365.1" stroke="#e8e8e8" stroke-width="0.48" opacity="0.85"/>
<path d="M188.8,371.0 Q191.2,371.8 196.0,380.0" stroke="#b0b0b0" stroke-width="0.40" opacity="0.85"/>
<path d="M199.4,305.8 Q199.1,305.2 195.3,309.4" stroke="#d8d8d8" stroke-width="0.56" opacity="0.85"/>
<path d="M225.8,365.1 Q227.2,369.1 234.4,370.4" stroke="#c0c0c0" stroke-width="0.50" opacity="0.85"/>
<path d="M168.8,298.6 Q172.0,299.7 171.6,308.0" stroke="#e8e8e8" stroke-width="0.43" opacity="0.85"/>
<path d="M221.9,378.5 Q229.1,378.5 229.8,378.8" stroke="#e8e8e8" stroke-width="0.41" opacity="0.85"/>
<path d="M198.7,390.6 Q198.1,395.2 196.2,394.0" stroke="#e8e8e8" stroke-width="0.48" opacity="0.85"/>
<path d="M189.0,343.6 Q190.0,348.4 185.9,347.4" stroke="#e8e8e8" stroke-width="0.54" opacity="0.85"/>
<path d="M224.1,349.6 Q224.3,355.9 230.9,358.5" stroke="#b0b0b0" stroke-width="0.48" opacity="0.85"/>
<path d="M196.0,345.7 Q191.8,343.4 191.9,346.2" stroke="#d8d8d8" stroke-width="0.43" opacity="0.85"/>
<path d="M198.1,387.5 Q198.0,386.1 194.1,388.5" stroke="#b0b0b0" stroke-width="0.48" opacity="0.85"/>
<path d="M210.3,302.3 Q203.2,303.5 203.4,310.8" stroke="#b0b0b0" stroke-width="0.50" opacity="0.85"/>
<path d="M215.2,303.0 Q213.2,301.7 210.6,304.8" stroke="#c0c0c0" stroke-width="0.39" opacity="0.85"/>
<path d="M199.5,366.7 Q200.8,367.1 195.0,369.4" stroke="#b0b0b0" stroke-width="0.50" opacity="0.85"/>
<path d="M202.0,295.6 Q206.7,295.8 213.6,297.5" stroke="#e8e8e8" stroke-width="0.53" opacity="0.85"/>
<path d="M222.0,348.4 Q224.4,354.0 228.3,358.5" stroke="#e8e8e8" stroke-width="0.48" opacity="0.85"/>
<path d="M231.5,385.4 Q233.3,387.3 233.0,391.2" stroke="#c0c0c0" stroke-width="0.37" opacity="0.85"/>
<path d="M187.9,342.5 Q193.6,345.6 191.7,344.2" stroke="#b0b0b0" stroke-width="0.51" opacity="0.85"/>
<path d="M219.2,380.4 Q225.8,379.2 230.2,381.6" stroke="#e8e8e8" stroke-width="0.51" opacity="0.85"/>
<path d="M218.9,295.6 Q217.3,294.4 223.4,297.4" stroke="#d8d8d8" stroke-width="0.42" opacity="0.85"/>
<path d="M177.3,356.8 Q180.3,359.2 175.9,361.5" stroke="#e8e8e8" stroke-width="0.37" opacity="0.85"/>
<path d="M201.0,385.2 Q203.9,392.3 200.7,392.7" stroke="#e8e8e8" stroke-width="0.42" opacity="0.85"/>
<path d="M213.1,366.0 Q215.1,366.9 214.0,372.3" stroke="#b0b0b0" stroke-width="0.40" opacity="0.85"/>
<path d="M211.0,338.1 Q209.3,340.5 208.1,346.0" stroke="#c0c0c0" stroke-width="0.43" opacity="0.85"/>
<path d="M167.7,346.6 Q172.9,349.5 171.4,357.7" stroke="#c0c0c0" stroke-width="0.43" opacity="0.85"/>
<path d="M179.0,319.0 Q179.8,318.6 187.6,325.9" stroke="#d8d8d8" stroke-width="0.50" opacity="0.85"/>
<path d="M180.9,357.8 Q176.2,361.9 173.8,361.8" stroke="#c0c0c0" stroke-width="0.60" opacity="0.85"/>
<path d="M208.2,385.4 Q203.5,386.2 204.5,391.7" stroke="#e8e8e8" stroke-width="0.56" opacity="0.85"/>
<path d="M195.0,365.9 Q191.2,371.6 187.7,372.7" stroke="#c0c0c0" stroke-width="0.45" opacity="0.85"/>
<path d="M160.6,333.0 Q163.7,338.5 168.4,336.1" stroke="#c0c0c0" stroke-width="0.45" opacity="0.85"/>
<path d="M217.0,379.3 Q218.3,383.1 220.3,387.5" stroke="#e8e8e8" stroke-width="0.42" opacity="0.85"/>
<path d="M184.4,347.5 Q188.6,353.3 188.2,353.5" stroke="#b0b0b0" stroke-width="0.45" opacity="0.85"/>
<path d="M176.9,345.7 Q177.0,348.6 179.0,355.9" stroke="#e8e8e8" stroke-width="0.43" opacity="0.85"/>
<path d="M222.0,375.8 Q226.1,382.6 231.3,382.8" stroke="#d8d8d8" stroke-width="0.36" opacity="0.85"/>
<path d="M173.3,381.6 Q171.4,385.7 172.6,387.9" stroke="#b0b0b0" stroke-width="0.48" opacity="0.85"/>
<path d="M194.9,360.5 Q197.2,362.5 198.0,366.9" stroke="#d8d8d8" stroke-width="0.52" opacity="0.85"/>
<path d="M195.6,301.9 Q197.2,305.8 197.7,308.6" stroke="#c0c0c0" stroke-width="0.59" opacity="0.85"/>
<path d="M192.4,336.0 Q186.6,336.3 183.4,336.1" stroke="#d8d8d8" stroke-width="0.39" opacity="0.85"/>
<path d="M178.4,389.8 Q175.1,398.3 178.0,400.4" stroke="#e8e8e8" stroke-width="0.56" opacity="0.85"/>
<path d="M234.2,380.8 Q235.8,382.6 240.7,384.3" stroke="#c0c0c0" stroke-width="0.45" opacity="0.85"/>
<path d="M157.0,348.5 Q157.5,352.6 155.9,353.2" stroke="#b0b0b0" stroke-width="0.35" opacity="0.85"/>
<path d="M152.2,363.1 Q147.3,360.9 144.1,365.2" stroke="#d8d8d8" stroke-width="0.52" opacity="0.85"/>
<path d="M168.3,341.8 Q172.3,345.2 174.0,348.0" stroke="#c0c0c0" stroke-width="0.49" opacity="0.85"/>
<path d="M186.1,304.2 Q181.1,302.8 182.3,307.8" stroke="#c0c0c0" stroke-width="0.59" opacity="0.85"/>
<path d="M192.7,338.8 Q190.9,342.4 186.7,343.1" stroke="#e8e8e8" stroke-width="0.39" opacity="0.85"/>
<path d="M171.8,319.5 Q173.8,325.1 170.1,323.5" stroke="#d8d8d8" stroke-width="0.44" opacity="0.85"/>
<path d="M189.3,330.6 Q187.9,335.0 185.2,332.1" stroke="#b0b0b0" stroke-width="0.36" opacity="0.85"/>
<path d="M171.8,314.3 Q168.5,312.9 170.4,319.4" stroke="#b0b0b0" stroke-width="0.43" opacity="0.85"/>
<path d="M202.0,388.0 Q196.0,387.7 194.1,389.3" stroke="#c0c0c0" stroke-width="0.45" opacity="0.85"/>
<path d="M185.1,363.2 Q179.9,361.4 181.3,364.9" stroke="#b0b0b0" stroke-width="0.40" opacity="0.85"/>
<path d="M232.6,321.1 Q236.9,321.7 240.6,324.1" stroke="#b0b0b0" stroke-width="0.51" opacity="0.85"/>
<path d="M231.8,334.2 Q229.9,339.5 229.9,345.4" stroke="#e8e8e8" stroke-width="0.41" opacity="0.85"/>
<path d="M154.9,358.4 Q159.5,356.8 160.8,361.6" stroke="#e8e8e8" stroke-width="0.49" opacity="0.85"/>
<path d="M217.4,347.5 Q212.2,348.8 211.2,352.1" stroke="#c0c0c0" stroke-width="0.53" opacity="0.85"/>
<path d="M183.3,387.8 Q180.5,386.1 177.7,388.7" stroke="#b0b0b0" stroke-width="0.52" opacity="0.85"/>
<path d="M230.2,391.8 Q234.9,396.4 231.8,400.4" stroke="#b0b0b0" stroke-width="0.50" opacity="0.85"/>
<path d="M169.6,379.2 Q169.9,379.9 169.4,384.2" stroke="#b0b0b0" stroke-width="0.36" opacity="0.85"/>
<path d="M211.6,306.5 Q211.9,310.3 209.1,309.8" stroke="#c0c0c0" stroke-width="0.43" opacity="0.85"/>
<path d="M207.0,302.9 Q208.8,305.1 210.6,310.6" stroke="#d8d8d8" stroke-width="0.53" opacity="0.85"/>
<path d="M159.3,320.9 Q159.8,328.6 162.6,330.9" stroke="#b0b0b0" stroke-width="0.54" opacity="0.85"/>
<path d="M225.3,378.1 Q223.1,381.5 228.5,382.0" stroke="#e8e8e8" stroke-width="0.57" opacity="0.85"/>
<path d="M154.1,362.4 Q149.5,365.6 146.4,362.4" stroke="#d8d8d8" stroke-width="0.40" opacity="0.85"/>
<path d="M161.6,383.3 Q154.8,383.5 155.5,391.0" stroke="#c0c0c0" stroke-width="0.46" opacity="0.85"/>
<path d="M214.8,307.6 Q215.1,316.0 213.2,317.4" stroke="#c0c0c0" stroke-width="0.49" opacity="0.85"/>
<path d="M211.5,317.5 Q208.2,316.6 207.4,323.7" stroke="#e8e8e8" stroke-width="0.58" opacity="0.85"/>
<path d="M224.6,350.5 Q221.3,347.2 215.1,351.3" stroke="#e8e8e8" stroke-width="0.40" opacity="0.85"/>
<path d="M227.9,367.0 Q225.7,370.9 225.2,370.8" stroke="#c0c0c0" stroke-width="0.42" opacity="0.85"/>
<path d="M159.5,386.6 Q157.4,389.3 152.2,388.2" stroke="#b0b0b0" stroke-width="0.48" opacity="0.85"/>
<path d="M208.2,312.6 Q206.2,314.7 199.8,316.9" stroke="#c0c0c0" stroke-width="0.36" opacity="0.85"/>
<path d="M210.3,372.6 Q213.6,376.7 209.4,378.6" stroke="#e8e8e8" stroke-width="0.41" opacity="0.85"/>
<path d="M156.9,327.8 Q158.4,327.0 162.8,332.1" stroke="#b0b0b0" stroke-width="0.52" opacity="0.85"/>
<path d="M171.7,316.2 Q175.9,319.0 173.1,324.2" stroke="#e8e8e8" stroke-width="0.38" opacity="0.85"/>
<path d="M210.7,350.8 Q206.5,352.9 208.4,356.2" stroke="#c0c0c0" stroke-width="0.52" opacity="0.85"/>
<path d="M164.8,389.9 Q164.1,396.6 168.0,400.2" stroke="#d8d8d8" stroke-width="0.44" opacity="0.85"/>
<path d="M169.1,298.0 Q173.3,299.4 174.2,301.7" stroke="#d8d8d8" stroke-width="0.39" opacity="0.85"/>
<path d="M188.9,348.9 Q184.7,351.8 187.8,355.1" stroke="#b0b0b0" stroke-width="0.37" opacity="0.85"/>
<path d="M211.5,390.0 Q215.4,390.9 219.5,392.9" stroke="#c0c0c0" stroke-width="0.55" opacity="0.85"/>
<path d="M178.7,327.9 Q181.1,331.6 181.7,331.6" stroke="#e8e8e8" stroke-width="0.51" opacity="0.85"/>
<path d="M158.5,366.7 Q156.3,367.7 159.8,370.7" stroke="#c0c0c0" stroke-width="0.38" opacity="0.85"/>
<path d="M211.7,323.0 Q214.5,326.0 215.0,331.3" stroke="#c0c0c0" stroke-width="0.44" opacity="0.85"/>
<path d="M197.7,328.9 Q198.0,333.1 205.5,336.2" stroke="#b0b0b0" stroke-width="0.58" opacity="0.85"/>
<path d="M230.4,341.4 Q232.3,344.0 237.5,345.2" stroke="#d8d8d8" stroke-width="0.39" opacity="0.85"/>
<path d="M170.9,305.8 Q176.1,313.0 173.7,314.5" stroke="#b0b0b0" stroke-width="0.40" opacity="0.85"/>
<path d="M212.0,292.3 Q209.5,294.0 202.4,297.0" stroke="#e8e8e8" stroke-width="0.37" opacity="0.85"/>
<path d="M156.6,363.1 Q158.1,367.8 167.5,365.3" stroke="#c0c0c0" stroke-width="0.58" opacity="0.85"/>
<path d="M165.7,321.6 Q163.7,322.8 164.2,329.0" stroke="#d8d8d8" stroke-width="0.49" opacity="0.85"/>
<path d="M194.9,334.8 Q190.5,337.9 191.7,342.5" stroke="#d8d8d8" stroke-width="0.55" opacity="0.85"/>
<path d="M157.0,359.6 Q160.2,366.8 162.3,366.8" stroke="#b0b0b0" stroke-width="0.51" opacity="0.85"/>
<path d="M163.4,378.5 Q164.5,380.1 160.0,386.1" stroke="#b0b0b0" stroke-width="0.52" opacity="0.85"/>
<path d="M164.2,349.9 Q158.9,348.6 155.9,351.4" stroke="#b0b0b0" stroke-width="0.45" opacity="0.85"/>
<path d="M161.5,310.1 Q157.5,318.4 159.8,321.0" stroke="#e8e8e8" stroke-width="0.51" opacity="0.85"/>
<path d="M167.6,359.0 Q170.9,362.5 174.9,365.4" stroke="#d8d8d8" stroke-width="0.53" opacity="0.85"/>
<path d="M227.5,348.7 Q227.0,350.3 221.7,357.8" stroke="#d8d8d8" stroke-width="0.51" opacity="0.85"/>
<path d="M231.7,343.5 Q229.9,350.5 227.5,349.9" stroke="#c0c0c0" stroke-width="0.49" opacity="0.85"/>
<path d="M216.3,305.7 Q219.2,305.6 226.4,307.5" stroke="#d8d8d8" stroke-width="0.53" opacity="0.85"/>
<path d="M231.3,338.0 Q236.8,335.7 235.8,340.0" stroke="#c0c0c0" stroke-width="0.49" opacity="0.85"/>
<path d="M228.2,379.1 Q225.0,383.1 224.4,382.9" stroke="#d8d8d8" stroke-width="0.56" opacity="0.85"/>
<path d="M162.2,329.3 Q159.1,326.5 152.4,330.9" stroke="#e8e8e8" stroke-width="0.37" opacity="0.85"/>
<path d="M197.6,372.3 Q196.6,370.9 192.8,373.4" stroke="#c0c0c0" stroke-width="0.52" opacity="0.85"/>
<path d="M153.8,390.9 Q150.7,389.8 147.8,395.5" stroke="#e8e8e8" stroke-width="0.40" opacity="0.85"/>
<path d="M198.0,321.0 Q196.9,328.4 201.5,329.8" stroke="#e8e8e8" stroke-width="0.59" opacity="0.85"/>
<path d="M153.1,326.2 Q156.1,331.2 153.1,331.4" stroke="#d8d8d8" stroke-width="0.37" opacity="0.85"/>
<path d="M203.5,356.5 Q203.4,360.1 195.7,360.6" stroke="#b0b0b0" stroke-width="0.45" opacity="0.85"/>
<path d="M224.5,353.1 Q223.4,358.2 226.8,357.0" stroke="#d8d8d8" stroke-width="0.40" opacity="0.85"/>
<path d="M220.0,364.7 Q223.8,366.5 220.7,371.3" stroke="#e8e8e8" stroke-width="0.49" opacity="0.85"/>
<path d="M179.7,294.1 Q172.2,291.4 172.0,294.4" stroke="#c0c0c0" stroke-width="0.42" opacity="0.85"/>
<path d="M174.7,342.0 Q174.3,348.6 173.4,348.0" stroke="#d8d8d8" stroke-width="0.58" opacity="0.85"/>
<path d="M226.9,301.5 Q228.1,301.0 228.2,307.0" stroke="#e8e8e8" stroke-width="0.55" opacity="0.85"/>
<path d="M171.8,371.7 Q178.0,371.0 176.8,372.8" stroke="#e8e8e8" stroke-width="0.48" opacity="0.85"/>
<path d="M204.7,327.0 Q202.4,329.8 207.2,335.1" stroke="#e8e8e8" stroke-width="0.57" opacity="0.85"/>
<path d="M217.0,342.4 Q216.3,342.7 207.7,348.7" stroke="#c0c0c0" stroke-width="0.35" opacity="0.85"/>
<path d="M224.3,337.3 Q221.9,338.4 222.7,344.7" stroke="#d8d8d8" stroke-width="0.39" opacity="0.85"/>
<path d="M211.7,317.2 Q213.4,317.6 207.6,324.7" stroke="#c0c0c0" stroke-width="0.50" opacity="0.85"/>
<path d="M158.6,309.9 Q153.2,312.2 150.0,310.2" stroke="#b0b0b0" stroke-width="0.53" opacity="0.85"/>
<path d="M228.5,375.9 Q234.5,377.9 234.1,379.3" stroke="#c0c0c0" stroke-width="0.51" opacity="0.85"/>
<path d="M171.7,294.0 Q175.2,294.4 172.4,298.3" stroke="#d8d8d8" stroke-width="0.40" opacity="0.85"/>
<path d="M212.9,388.3 Q219.7,392.4 221.4,390.5" stroke="#e8e8e8" stroke-width="0.53" opacity="0.85"/>
<path d="M152.4,319.1 Q155.6,315.5 161.5,319.5" stroke="#e8e8e8" stroke-width="0.43" opacity="0.85"/>
<path d="M214.2,356.9 Q211.0,356.4 210.3,363.0" stroke="#b0b0b0" stroke-width="0.55" opacity="0.85"/>
<path d="M159.2,353.3 Q153.3,357.0 149.0,353.7" stroke="#d8d8d8" stroke-width="0.36" opacity="0.85"/>
<path d="M178.3,357.4 Q180.8,363.2 180.0,363.7" stroke="#c0c0c0" stroke-width="0.37" opacity="0.85"/>
<path d="M165.0,306.3 Q172.3,307.1 174.7,309.1" stroke="#c0c0c0" stroke-width="0.51" opacity="0.85"/>
<path d="M201.9,325.1 Q207.0,330.8 208.8,332.3" stroke="#e8e8e8" stroke-width="0.51" opacity="0.85"/>
<path d="M197.6,362.6 Q199.6,364.7 201.2,370.3" stroke="#e8e8e8" stroke-width="0.35" opacity="0.85"/>
<path d="M191.5,357.5 Q197.5,360.0 195.8,366.8" stroke="#d8d8d8" stroke-width="0.58" opacity="0.85"/>
<path d="M203.8,304.2 Q209.4,304.8 210.5,309.2" stroke="#e8e8e8" stroke-width="0.53" opacity="0.85"/>
<path d="M226.9,379.1 Q223.0,381.4 218.6,386.0" stroke="#c0c0c0" stroke-width="0.46" opacity="0.85"/>
<path d="M223.4,313.3 Q217.1,312.7 212.6,316.8" stroke="#d8d8d8" stroke-width="0.38" opacity="0.85"/>
<path d="M212.9,298.5 Q217.2,299.4 215.7,307.3" stroke="#b0b0b0" stroke-width="0.45" opacity="0.85"/>
<path d="M228.3,386.5 Q229.7,387.5 235.2,392.3" stroke="#b0b0b0" stroke-width="0.41" opacity="0.85"/>
<path d="M181.4,324.6 Q186.8,327.4 186.2,330.3" stroke="#c0c0c0" stroke-width="0.47" opacity="0.85"/>
<path d="M229.5,368.9 Q233.2,368.0 240.1,373.8" stroke="#d8d8d8" stroke-width="0.47" opacity="0.85"/>
<path d="M226.0,308.2 Q224.1,313.3 223.1,317.2" stroke="#c0c0c0" stroke-width="0.56" opacity="0.85"/>
<path d="M213.0,296.6 Q213.5,298.7 215.0,306.6" stroke="#e8e8e8" stroke-width="0.52" opacity="0.85"/>
<path d="M218.8,307.2 Q222.4,309.5 229.1,311.8" stroke="#e8e8e8" stroke-width="0.37" opacity="0.85"/>
<path d="M166.0,360.3 Q170.5,364.1 168.3,364.4" stroke="#e8e8e8" stroke-width="0.59" opacity="0.85"/>
<path d="M154.7,315.5 Q148.1,319.8 148.9,324.0" stroke="#c0c0c0" stroke-width="0.49" opacity="0.85"/>
<path d="M210.0,364.9 Q204.4,362.5 205.8,366.3" stroke="#b0b0b0" stroke-width="0.59" opacity="0.85"/>
<path d="M195.6,292.3 Q196.3,295.5 194.9,298.0" stroke="#d8d8d8" stroke-width="0.48" opacity="0.85"/>
<path d="M221.7,387.7 Q222.2,391.7 217.1,388.2" stroke="#c0c0c0" stroke-width="0.53" opacity="0.85"/>
<path d="M174.7,309.7 Q174.0,310.4 180.6,311.0" stroke="#b0b0b0" stroke-width="0.55" opacity="0.85"/>
<path d="M231.0,318.7 Q233.9,317.4 237.6,319.6" stroke="#e8e8e8" stroke-width="0.52" opacity="0.85"/>
<path d="M233.5,379.4 Q233.6,383.4 236.6,388.7" stroke="#c0c0c0" stroke-width="0.45" opacity="0.85"/>
<path d="M184.0,333.0 Q177.5,333.9 178.8,333.0" stroke="#e8e8e8" stroke-width="0.52" opacity="0.85"/>
<path d="M212.6,391.1 Q206.7,396.7 207.4,400.3" stroke="#d8d8d8" stroke-width="0.58" opacity="0.85"/>
<path d="M156.1,361.4 Q155.0,362.9 153.2,367.3" stroke="#d8d8d8" stroke-width="0.47" opacity="0.85"/>
<path d="M205.7,339.1 Q204.3,345.0 204.8,345.7" stroke="#b0b0b0" stroke-width="0.44" opacity="0.85"/>
<path d="M157.3,389.6 Q158.5,388.9 154.4,395.0" stroke="#c0c0c0" stroke-width="0.58" opacity="0.85"/>
<path d="M215.5,318.2 Q209.5,321.3 205.9,322.9" stroke="#c0c0c0" stroke-width="0.60" opacity="0.85"/>
<path d="M157.5,367.7 Q157.6,368.7 163.0,371.9" stroke="#c0c0c0" stroke-width="0.39" opacity="0.85"/>
<path d="M206.9,309.8 Q202.9,315.6 196.5,314.8" stroke="#e8e8e8" stroke-width="0.45" opacity="0.85"/>
<path d="M221.1,373.8 Q221.3,371.8 225.5,376.1" stroke="#e8e8e8" stroke-width="0.52" opacity="0.85"/>
<path d="M195.4,322.2 Q196.7,325.3 201.4,329.3" stroke="#d8d8d8" stroke-width="0.46" opacity="0.85"/>
<path d="M191.7,371.8 Q197.6,373.0 200.7,376.4" stroke="#c0c0c0" stroke-width="0.51" opacity="0.85"/>
<path d="M195.4,372.2 Q190.9,373.2 194.4,378.1" stroke="#c0c0c0" stroke-width="0.43" opacity="0.85"/>
<path d="M197.2,383.7 Q198.7,386.1 201.3,388.2" stroke="#b0b0b0" stroke-width="0.56" opacity="0.85"/>
<path d="M168.7,334.3 Q165.8,335.5 165.0,344.0" stroke="#b0b0b0" stroke-width="0.44" opacity="0.85"/>
<path d="M155.5,367.3 Q157.6,371.1 158.0,378.8" stroke="#c0c0c0" stroke-width="0.45" opacity="0.85"/>
<path d="M200.0,384.5 Q199.0,383.7 194.5,385.0" stroke="#c0c0c0" stroke-width="0.43" opacity="0.85"/>
<path d="M157.9,367.6 Q157.6,374.3 157.3,374.6" stroke="#d8d8d8" stroke-width="0.38" opacity="0.85"/>
<path d="M198.8,385.5 Q203.7,387.6 200.7,394.9" stroke="#d8d8d8" stroke-width="0.46" opacity="0.85"/>
<path d="M192.8,343.2 Q192.0,347.0 187.4,352.3" stroke="#d8d8d8" stroke-width="0.58" opacity="0.85"/>
<path d="M176.4,325.0 Q173.6,331.3 177.3,332.1" stroke="#d8d8d8" stroke-width="0.38" opacity="0.85"/>
<path d="M159.3,367.3 Q165.0,369.8 167.7,368.8" stroke="#b0b0b0" stroke-width="0.57" opacity="0.85"/>
<path d="M197.7,366.8 Q201.8,365.5 207.4,371.4" stroke="#c0c0c0" stroke-width="0.43" opacity="0.85"/>
<path d="M167.8,390.2 Q167.6,389.6 167.1,395.7" stroke="#b0b0b0" stroke-width="0.41" opacity="0.85"/>
<path d="M223.3,347.6 Q220.7,349.9 225.3,355.4" stroke="#b0b0b0" stroke-width="0.55" opacity="0.85"/>
<path d="M223.1,317.7 Q226.2,317.2 228.6,318.6" stroke="#b0b0b0" stroke-width="0.51" opacity="0.85"/>
<path d="M210.9,306.1 Q213.3,312.8 216.4,316.2" stroke="#d8d8d8" stroke-width="0.53" opacity="0.85"/>
<path d="M152.7,298.8 Q144.1,299.6 142.8,304.9" stroke="#b0b0b0" stroke-width="0.42" opacity="0.85"/>
<path d="M211.0,372.2 Q215.1,376.1 212.2,380.9" stroke="#c0c0c0" stroke-width="0.36" opacity="0.85"/>
<path d="M188.0,355.9 Q182.6,357.6 184.0,357.8" stroke="#c0c0c0" stroke-width="0.35" opacity="0.85"/>
<path d="M211.9,365.7 Q215.7,369.4 216.0,369.1" stroke="#c0c0c0" stroke-width="0.48" opacity="0.85"/>
<path d="M165.2,369.8 Q164.7,372.2 164.7,379.5" stroke="#d8d8d8" stroke-width="0.59" opacity="0.85"/>
<path d="M186.4,357.9 Q185.0,356.0 180.6,359.7" stroke="#d8d8d8" stroke-width="0.58" opacity="0.85"/>
<path d="M163.1,308.0 Q163.3,313.0 157.6,313.2" stroke="#c0c0c0" stroke-width="0.43" opacity="0.85"/>
<path d="M173.4,346.9 Q171.9,345.2 167.8,347.8" stroke="#d8d8d8" stroke-width="0.43" opacity="0.85"/>
<path d="M164.9,321.1 Q159.9,322.1 159.7,328.7" stroke="#c0c0c0" stroke-width="0.46" opacity="0.85"/>
<path d="M208.3,303.4 Q216.7,309.4 218.2,307.4" stroke="#d8d8d8" stroke-width="0.42" opacity="0.85"/>
<path d="M180.9,367.0 Q173.7,367.8 173.1,368.8" stroke="#e8e8e8" stroke-width="0.50" opacity="0.85"/>
<path d="M196.9,300.8 Q201.7,305.5 200.2,304.7" stroke="#c0c0c0" stroke-width="0.49" opacity="0.85"/>
<path d="M176.9,350.0 Q176.8,347.2 181.7,350.0" stroke="#e8e8e8" stroke-width="0.36" opacity="0.85"/>
<path d="M179.7,337.0 Q175.0,341.4 175.5,341.3" stroke="#e8e8e8" stroke-width="0.55" opacity="0.85"/>
<path d="M212.1,337.5 Q214.0,338.4 221.4,341.0" stroke="#d8d8d8" stroke-width="0.36" opacity="0.85"/>
<path d="M194.6,301.7 Q199.4,302.4 203.0,305.4" stroke="#e8e8e8" stroke-width="0.53" opacity="0.85"/>
<path d="M212.9,327.9 Q213.4,330.4 221.9,330.5" stroke="#b0b0b0" stroke-width="0.43" opacity="0.85"/>
<path d="M173.7,302.7 Q174.5,304.3 178.9,305.4" stroke="#e8e8e8" stroke-width="0.47" opacity="0.85"/>
<path d="M165.6,345.5 Q164.8,348.5 168.9,352.9" stroke="#c0c0c0" stroke-width="0.60" opacity="0.85"/>
<path d="M227.4,364.7 Q227.2,364.3 233.4,370.3" stroke="#d8d8d8" stroke-width="0.47" opacity="0.85"/>
<path d="M217.7,349.0 Q223.2,349.4 224.8,355.3" stroke="#e8e8e8" stroke-width="0.60" opacity="0.85"/>
<path d="M187.2,354.4 Q183.6,358.1 186.1,359.2" stroke="#c0c0c0" stroke-width="0.41" opacity="0.85"/>
<path d="M201.4,370.4 Q204.1,372.1 210.9,372.3" stroke="#d8d8d8" stroke-width="0.36" opacity="0.85"/>
<path d="M203.3,361.2 Q208.3,365.5 208.3,370.4" stroke="#c0c0c0" stroke-width="0.35" opacity="0.85"/>
<path d="M230.0,333.2 Q231.5,336.1 237.0,335.2" stroke="#c0c0c0" stroke-width="0.39" opacity="0.85"/>
<path d="M180.6,306.0 Q181.4,311.6 184.9,309.6" stroke="#d8d8d8" stroke-width="0.55" opacity="0.85"/>
<path d="M191.8,341.7 Q188.9,344.3 182.0,344.6" stroke="#c0c0c0" stroke-width="0.57" opacity="0.85"/>
<path d="M156.2,328.6 Q158.3,332.5 152.8,335.0" stroke="#b0b0b0" stroke-width="0.52" opacity="0.85"/>
<path d="M213.9,305.5 Q211.9,308.5 203.5,307.6" stroke="#c0c0c0" stroke-width="0.46" opacity="0.85"/>
<path d="M220.5,370.4 Q227.4,375.1 227.0,379.3" stroke="#d8d8d8" stroke-width="0.37" opacity="0.85"/>
<path d="M217.0,372.2 Q210.5,375.2 208.1,376.8" stroke="#c0c0c0" stroke-width="0.57" opacity="0.85"/>
<path d="M199.7,385.3 Q206.5,385.4 210.7,387.1" stroke="#e8e8e8" stroke-width="0.56" opacity="0.85"/>
<path d="M185.7,300.7 Q180.4,303.7 177.7,305.2" stroke="#b0b0b0" stroke-width="0.55" opacity="0.85"/>
<path d="M152.4,340.9 Q156.8,341.0 156.3,342.3" stroke="#e8e8e8" stroke-width="0.46" opacity="0.85"/>
<path d="M179.8,313.4 Q177.8,313.3 173.8,316.6" stroke="#d8d8d8" stroke-width="0.60" opacity="0.85"/>
<path d="M167.5,381.0 Q165.0,382.3 166.7,388.2" stroke="#d8d8d8" stroke-width="0.44" opacity="0.85"/>
<path d="M226.4,331.0 Q226.7,331.3 232.3,334.0" stroke="#b0b0b0" stroke-width="0.43" opacity="0.85"/>
<path d="M178.4,379.6 Q179.6,388.2 175.0,389.4" stroke="#b0b0b0" stroke-width="0.48" opacity="0.85"/>
<path d="M152.0,309.5 Q155.3,313.3 153.7,321.0" stroke="#e8e8e8" stroke-width="0.52" opacity="0.85"/>
<path d="M233.7,365.5 Q228.3,371.8 228.7,374.1" stroke="#e8e8e8" stroke-width="0.52" opacity="0.85"/>
<path d="M158.3,354.4 Q153.5,356.2 150.8,355.4" stroke="#b0b0b0" stroke-width="0.58" opacity="0.85"/>
<path d="M219.1,298.0 Q220.7,298.7 219.3,307.2" stroke="#d8d8d8" stroke-width="0.49" opacity="0.85"/>
<path d="M189.2,367.1 Q187.5,367.6 181.8,375.5" stroke="#e8e8e8" stroke-width="0.47" opacity="0.85"/>
<path d="M152.6,385.7 Q158.5,387.4 157.7,389.1" stroke="#b0b0b0" stroke-width="0.39" opacity="0.85"/>
<path d="M200.9,390.2 Q206.4,389.5 207.5,396.4" stroke="#b0b0b0" stroke-width="0.51" opacity="0.85"/>
<path d="M218.8,359.6 Q217.0,361.6 211.8,360.5" stroke="#e8e8e8" stroke-width="0.43" opacity="0.85"/>
<path d="M221.2,341.6 Q224.1,341.4 220.7,345.9" stroke="#d8d8d8" stroke-width="0.39" opacity="0.85"/>
<path d="M213.3,309.1 Q214.9,308.7 219.7,310.2" stroke="#e8e8e8" stroke-width="0.59" opacity="0.85"/>
<path d="M167.5,322.9 Q170.8,325.8 176.9,329.7" stroke="#d8d8d8" stroke-width="0.52" opacity="0.85"/>
<path d="M182.0,324.0 Q179.4,332.5 182.9,334.3" stroke="#b0b0b0" stroke-width="0.48" opacity="0.85"/>
<path d="M185.9,308.0 Q189.6,309.0 196.9,309.5" stroke="#b0b0b0" stroke-width="0.54" opacity="0.85"/>
<path d="M174.9,328.3 Q172.6,335.0 173.8,339.6" stroke="#e8e8e8" stroke-width="0.46" opacity="0.85"/>
<path d="M153.0,345.2 Q156.5,348.0 158.5,353.1" stroke="#c0c0c0" stroke-width="0.57" opacity="0.85"/>
<path d="M224.7,301.6 Q223.6,305.6 217.1,306.2" stroke="#e8e8e8" stroke-width="0.39" opacity="0.85"/>
<path d="M166.6,364.3 Q170.5,368.8 175.9,367.9" stroke="#e8e8e8" stroke-width="0.45" opacity="0.85"/>
<path d="M193.5,325.7 Q187.3,331.9 186.7,334.3" stroke="#b0b0b0" stroke-width="0.52" opacity="0.85"/>
<path d="M226.8,305.4 Q229.4,306.1 233.4,306.7" stroke="#c0c0c0" stroke-width="0.49" opacity="0.85"/>
<path d="M185.5,349.4 Q185.1,353.5 180.0,352.3" stroke="#c0c0c0" stroke-width="0.41" opacity="0.85"/>
<path d="M222.5,315.9 Q220.4,321.6 225.7,319.7" stroke="#b0b0b0" stroke-width="0.57" opacity="0.85"/>
<path d="M162.9,362.4 Q159.4,363.5 159.6,371.4" stroke="#e8e8e8" stroke-width="0.50" opacity="0.85"/>
<path d="M227.0,322.9 Q229.4,322.9 225.5,329.6" stroke="#d8d8d8" stroke-width="0.52" opacity="0.85"/>
<path d="M158.0,375.9 Q162.3,373.0 164.6,375.9" stroke="#e8e8e8" stroke-width="0.48" opacity="0.85"/>
<path d="M233.1,351.0 Q237.8,351.2 241.8,351.9" stroke="#b0b0b0" stroke-width="0.41" opacity="0.85"/>
<path d="M204.2,326.0 Q201.3,331.6 202.8,332.5" stroke="#c0c0c0" stroke-width="0.42" opacity="0.85"/>
<path d="M232.8,349.8 Q233.9,355.4 240.3,356.0" stroke="#e8e8e8" stroke-width="0.46" opacity="0.85"/>
<path d="M157.2,355.0 Q155.1,359.8 154.7,364.5" stroke="#b0b0b0" stroke-width="0.41" opacity="0.85"/>
<path d="M224.0,391.6 Q217.5,396.1 213.7,392.8" stroke="#d8d8d8" stroke-width="0.51" opacity="0.85"/>
<path d="M199.8,335.1 Q195.2,334.8 188.8,339.4" stroke="#c0c0c0" stroke-width="0.38" opacity="0.85"/>
<path d="M165.7,368.0 Q159.7,370.9 161.4,369.4" stroke="#c0c0c0" stroke-width="0.54" opacity="0.85"/>
<path d="M168.7,367.6 Q174.2,368.0 175.1,376.1" stroke="#d8d8d8" stroke-width="0.37" opacity="0.85"/>
<path d="M169.1,293.3 Q166.6,295.6 162.1,301.7" stroke="#e8e8e8" stroke-width="0.51" opacity="0.85"/>
<path d="M198.9,323.6 Q204.1,326.2 205.4,325.8" stroke="#b0b0b0" stroke-width="0.57" opacity="0.85"/>
<path d="M218.8,337.5 Q218.3,340.5 223.3,339.1" stroke="#b0b0b0" stroke-width="0.47" opacity="0.85"/>
<path d="M158.9,325.8 Q159.6,329.6 152.7,327.8" stroke="#e8e8e8" stroke-width="0.48" opacity="0.85"/>
<path d="M169.4,317.2 Q169.1,321.3 165.4,318.4" stroke="#b0b0b0" stroke-width="0.54" opacity="0.85"/>
<path d="M212.2,308.1 Q210.4,310.5 214.4,319.0" stroke="#b0b0b0" stroke-width="0.36" opacity="0.85"/>
<path d="M219.5,389.3 Q215.3,391.4 215.9,392.3" stroke="#d8d8d8" stroke-width="0.56" opacity="0.85"/>
<path d="M180.1,348.0 Q180.4,346.6 174.3,353.1" stroke="#c0c0c0" stroke-width="0.58" opacity="0.85"/>
<path d="M183.8,302.4 Q185.4,303.7 191.8,305.8" stroke="#b0b0b0" stroke-width="0.54" opacity="0.85"/>
<path d="M199.3,363.9 Q205.2,369.6 208.7,369.4" stroke="#c0c0c0" stroke-width="0.53" opacity="0.85"/>
<path d="M191.0,380.1 Q195.1,380.7 199.2,383.3" stroke="#c0c0c0" stroke-width="0.55" opacity="0.85"/>
<path d="M225.8,292.5 Q220.6,297.5 219.9,298.6" stroke="#d8d8d8" stroke-width="0.41" opacity="0.85"/>
<path d="M227.4,312.0 Q226.8,317.5 227.8,316.0" stroke="#c0c0c0" stroke-width="0.54" opacity="0.85"/>
<path d="M155.7,347.6 Q153.2,351.5 158.0,355.9" stroke="#b0b0b0" stroke-width="0.54" opacity="0.85"/>
<path d="M160.6,389.3 Q167.1,389.3 168.7,394.7" stroke="#e8e8e8" stroke-width="0.38" opacity="0.85"/>
<path d="M217.3,381.0 Q225.8,381.5 228.6,381.0" stroke="#d8d8d8" stroke-width="0.48" opacity="0.85"/>
<path d="M203.4,351.5 Q204.9,353.1 213.5,354.0" stroke="#e8e8e8" stroke-width="0.46" opacity="0.85"/>
<path d="M207.7,348.0 Q210.1,352.3 212.4,351.1" stroke="#c0c0c0" stroke-width="0.38" opacity="0.85"/>
<path d="M206.0,312.7 Q213.3,314.3 212.9,315.2" stroke="#e8e8e8" stroke-width="0.52" opacity="0.85"/>
<path d="M159.3,315.9 Q150.5,314.4 148.3,316.5" stroke="#e8e8e8" stroke-width="0.54" opacity="0.85"/>
<path d="M164.3,352.6 Q155.9,353.2 155.4,360.5" stroke="#d8d8d8" stroke-width="0.52" opacity="0.85"/>
<path d="M215.7,313.4 Q215.5,314.2 208.6,313.8" stroke="#c0c0c0" stroke-width="0.58" opacity="0.85"/>
<path d="M212.8,371.7 Q209.6,370.7 203.0,377.2" stroke="#c0c0c0" stroke-width="0.56" opacity="0.85"/>
<path d="M187.8,379.8 Q184.6,382.0 182.4,380.8" stroke="#e8e8e8" stroke-width="0.55" opacity="0.85"/>
<path d="M222.2,294.8 Q222.6,300.1 228.4,298.3" stroke="#b0b0b0" stroke-width="0.54" opacity="0.85"/>
<path d="M221.5,391.4 Q222.7,394.5 228.0,399.0" stroke="#d8d8d8" stroke-width="0.44" opacity="0.85"/>
<path d="M197.1,327.7 Q204.6,325.6 207.7,327.7" stroke="#e8e8e8" stroke-width="0.55" opacity="0.85"/>
<path d="M196.2,302.5 Q200.1,305.8 202.0,311.3" stroke="#d8d8d8" stroke-width="0.59" opacity="0.85"/>
<path d="M165.4,345.1 Q168.3,348.9 164.3,354.2" stroke="#d8d8d8" stroke-width="0.51" opacity="0.85"/>
<path d="M170.1,367.5 Q166.1,368.8 163.2,376.2" stroke="#c0c0c0" stroke-width="0.50" opacity="0.85"/>
<path d="M203.0,308.6 Q205.7,311.9 210.2,317.7" stroke="#d8d8d8" stroke-width="0.37" opacity="0.85"/>
<path d="M223.9,356.1 Q223.7,357.2 219.7,364.0" stroke="#d8d8d8" stroke-width="0.50" opacity="0.85"/>
<path d="M209.7,322.4 Q208.0,321.8 214.1,323.3" stroke="#c0c0c0" stroke-width="0.49" opacity="0.85"/>
<path d="M212.0,356.8 Q211.6,358.0 204.5,359.9" stroke="#d8d8d8" stroke-width="0.41" opacity="0.85"/>
<path d="M184.8,361.7 Q185.1,364.7 179.4,361.9" stroke="#b0b0b0" stroke-width="0.44" opacity="0.85"/>
<path d="M221.1,295.1 Q227.9,301.0 229.1,302.0" stroke="#e8e8e8" stroke-width="0.42" opacity="0.85"/>
<path d="M152.8,311.0 Q159.0,314.4 162.7,316.3" stroke="#e8e8e8" stroke-width="0.40" opacity="0.85"/>
<path d="M163.9,301.7 Q167.3,307.8 168.2,312.8" stroke="#c0c0c0" stroke-width="0.37" opacity="0.85"/>
<path d="M176.6,318.8 Q169.8,320.3 165.3,321.1" stroke="#c0c0c0" stroke-width="0.38" opacity="0.85"/>
<path d="M217.4,317.2 Q214.0,318.6 216.9,324.1" stroke="#c0c0c0" stroke-width="0.42" opacity="0.85"/>
<path d="M183.6,368.5 Q183.7,369.2 188.4,371.8" stroke="#e8e8e8" stroke-width="0.41" opacity="0.85"/>
<path d="M226.1,318.3 Q227.1,317.9 230.0,319.5" stroke="#e8e8e8" stroke-width="0.36" opacity="0.85"/>
<path d="M188.4,303.6 Q182.8,303.5 183.6,309.6" stroke="#b0b0b0" stroke-width="0.58" opacity="0.85"/>
<path d="M227.5,334.6 Q227.5,335.4 231.2,337.1" stroke="#c0c0c0" stroke-width="0.58" opacity="0.85"/>
<path d="M198.0,299.2 Q196.5,304.2 194.0,303.3" stroke="#b0b0b0" stroke-width="0.38" opacity="0.85"/>
<path d="M230.3,344.5 Q235.8,343.7 235.4,347.5" stroke="#d8d8d8" stroke-width="0.47" opacity="0.85"/>
<path d="M190.9,386.6 Q198.0,389.7 200.3,390.8" stroke="#d8d8d8" stroke-width="0.40" opacity="0.85"/>
<path d="M207.0,328.1 Q204.4,325.7 202.1,328.4" stroke="#d8d8d8" stroke-width="0.51" opacity="0.85"/>
<path d="M219.4,382.3 Q213.1,387.3 214.3,389.9" stroke="#b0b0b0" stroke-width="0.52" opacity="0.85"/>
<path d="M163.6,328.4 Q158.8,326.0 156.9,330.9" stroke="#e8e8e8" stroke-width="0.51" opacity="0.85"/>
<path d="M206.0,362.0 Q208.1,363.6 206.6,366.1" stroke="#d8d8d8" stroke-width="0.42" opacity="0.85"/>
<path d="M233.0,375.9 Q232.3,375.1 236.5,381.3" stroke="#d8d8d8" stroke-width="0.52" opacity="0.85"/>
<path d="M153.0,386.8 Q153.4,393.4 153.5,392.7" stroke="#b0b0b0" stroke-width="0.52" opacity="0.85"/>
<path d="M169.6,382.6 Q168.4,387.6 170.1,388.1" stroke="#e8e8e8" stroke-width="0.41" opacity="0.85"/>
<path d="M231.8,324.2 Q234.8,323.6 235.2,330.6" stroke="#e8e8e8" stroke-width="0.54" opacity="0.85"/>
<path d="M171.8,375.7 Q170.5,377.0 167.4,378.6" stroke="#b0b0b0" stroke-width="0.38" opacity="0.85"/>
<path d="M172.0,304.1 Q174.3,306.9 182.4,309.3" stroke="#e8e8e8" stroke-width="0.57" opacity="0.85"/>
<path d="M156.7,315.4 Q155.6,317.3 155.3,320.6" stroke="#c0c0c0" stroke-width="0.57" opacity="0.85"/>
<path d="M231.4,318.9 Q229.5,327.7 234.7,329.9" stroke="#d8d8d8" stroke-width="0.59" opacity="0.85"/>
<path d="M227.0,299.1 Q228.4,298.3 235.6,304.3" stroke="#b0b0b0" stroke-width="0.56" opacity="0.85"/>
<path d="M219.0,357.3 Q220.7,360.1 226.5,360.2" stroke="#e8e8e8" stroke-width="0.57" opacity="0.85"/>
<path d="M231.9,311.3 Q230.3,309.4 227.5,312.7" stroke="#e8e8e8" stroke-width="0.51" opacity="0.85"/>
<path d="M186.2,387.6 Q185.2,385.7 181.1,390.8" stroke="#b0b0b0" stroke-width="0.40" opacity="0.85"/>
<path d="M179.2,384.0 Q183.1,391.0 182.9,390.6" stroke="#c0c0c0" stroke-width="0.47" opacity="0.85"/>
<path d="M178.9,389.1 Q188.4,391.1 190.3,392.4" stroke="#b0b0b0" stroke-width="0.59" opacity="0.85"/>
<path d="M226.7,315.2 Q230.1,321.9 230.9,324.2" stroke="#c0c0c0" stroke-width="0.60" opacity="0.85"/>
<path d="M205.1,379.9 Q208.1,383.3 205.0,384.8" stroke="#d8d8d8" stroke-width="0.47" opacity="0.85"/>
<path d="M189.7,325.2 Q193.7,327.4 193.6,332.6" stroke="#b0b0b0" stroke-width="0.52" opacity="0.85"/>
<path d="M208.1,370.1 Q212.5,369.7 214.8,372.7" stroke="#c0c0c0" stroke-width="0.51" opacity="0.85"/>
<path d="M210.5,388.6 Q206.8,388.5 206.4,392.4" stroke="#d8d8d8" stroke-width="0.50" opacity="0.85"/>
<path d="M222.5,379.5 Q222.2,382.3 229.6,384.6" stroke="#e8e8e8" stroke-width="0.36" opacity="0.85"/>
<path d="M218.3,375.7 Q217.3,374.8 221.6,379.0" stroke="#c0c0c0" stroke-width="0.35" opacity="0.85"/>
<path d="M161.5,385.5 Q165.4,388.3 172.0,390.8" stroke="#e8e8e8" stroke-width="0.42" opacity="0.85"/>
<path d="M214.0,379.5 Q208.9,378.4 207.6,381.0" stroke="#d8d8d8" stroke-width="0.51" opacity="0.85"/>
<path d="M209.8,318.3 Q205.2,322.1 203.0,326.1" stroke="#c0c0c0" stroke-width="0.50" opacity="0.85"/>
<path d="M234.1,372.5 Q229.1,373.3 225.4,377.4" stroke="#d8d8d8" stroke-width="0.41" opacity="0.85"/>
<path d="M218.2,372.2 Q215.1,376.2 216.9,376.8" stroke="#b0b0b0" stroke-width="0.55" opacity="0.85"/>
<path d="M171.2,301.3 Q167.4,303.4 169.3,310.4" stroke="#c0c0c0" stroke-width="0.38" opacity="0.85"/>
<path d="M204.6,316.1 Q205.6,320.8 206.1,322.0" stroke="#d8d8d8" stroke-width="0.41" opacity="0.85"/>
<path d="M154.0,343.3 Q151.8,343.0 150.4,347.7" stroke="#c0c0c0" stroke-width="0.40" opacity="0.85"/>
<path d="M177.8,358.3 Q178.3,361.9 183.2,361.1" stroke="#e8e8e8" stroke-width="0.45" opacity="0.85"/>
<path d="M195.4,322.6 Q196.5,325.5 201.0,331.2" stroke="#c0c0c0" stroke-width="0.39" opacity="0.85"/>
<path d="M229.3,379.7 Q229.4,382.0 235.6,384.2" stroke="#e8e8e8" stroke-width="0.52" opacity="0.85"/>
<path d="M191.5,323.1 Q191.4,324.6 189.3,327.1" stroke="#d8d8d8" stroke-width="0.41" opacity="0.85"/>
<path d="M207.5,314.2 Q209.4,319.6 208.0,320.7" stroke="#e8e8e8" stroke-width="0.48" opacity="0.85"/>
<path d="M216.7,364.5 Q222.1,361.7 223.2,365.5" stroke="#e8e8e8" stroke-width="0.38" opacity="0.85"/>
<path d="M223.2,386.3 Q228.9,383.5 231.5,388.0" stroke="#d8d8d8" stroke-width="0.56" opacity="0.85"/>
<path d="M206.8,326.1 Q212.1,329.6 214.2,329.7" stroke="#d8d8d8" stroke-width="0.36" opacity="0.85"/>
<path d="M227.5,359.0 Q223.6,364.9 222.7,365.7" stroke="#b0b0b0" stroke-width="0.39" opacity="0.85"/>
<path d="M166.4,368.5 Q165.2,369.7 170.0,375.0" stroke="#d8d8d8" stroke-width="0.37" opacity="0.85"/>
<path d="M230.3,386.0 Q229.8,388.0 233.7,395.1" stroke="#e8e8e8" stroke-width="0.54" opacity="0.85"/>
<path d="M184.6,312.2 Q184.3,315.8 177.4,319.5" stroke="#e8e8e8" stroke-width="0.55" opacity="0.85"/>
<path d="M154.3,343.3 Q155.1,348.5 148.2,351.9" stroke="#e8e8e8" stroke-width="0.39" opacity="0.85"/>
<path d="M213.8,326.2 Q217.1,331.7 215.2,331.5" stroke="#e8e8e8" stroke-width="0.35" opacity="0.85"/>
<path d="M215.4,352.7 Q208.4,356.3 204.3,354.3" stroke="#e8e8e8" stroke-width="0.59" opacity="0.85"/>
<path d="M177.0,353.8 Q182.8,352.7 181.5,359.4" stroke="#b0b0b0" stroke-width="0.54" opacity="0.85"/>
<path d="M215.9,348.7 Q212.3,348.2 206.4,354.8" stroke="#c0c0c0" stroke-width="0.54" opacity="0.85"/>
<path d="M219.5,317.3 Q223.9,318.7 222.9,325.9" stroke="#e8e8e8" stroke-width="0.52" opacity="0.85"/>
<path d="M156.6,381.6 Q160.2,386.7 159.4,386.1" stroke="#d8d8d8" stroke-width="0.55" opacity="0.85"/>
<path d="M221.9,389.9 Q222.2,397.7 223.0,401.4" stroke="#c0c0c0" stroke-width="0.53" opacity="0.85"/>
<path d="M182.0,298.4 Q182.9,295.5 177.3,300.1" stroke="#e8e8e8" stroke-width="0.37" opacity="0.85"/>
<path d="M157.6,366.1 Q157.2,371.3 158.3,371.7" stroke="#b0b0b0" stroke-width="0.43" opacity="0.85"/>
<path d="M204.5,381.5 Q202.7,381.2 197.1,383.9" stroke="#e8e8e8" stroke-width="0.49" opacity="0.85"/>
<path d="M160.8,350.7 Q160.4,355.4 160.2,361.4" stroke="#c0c0c0" stroke-width="0.40" opacity="0.85"/>
<path d="M182.1,328.3 Q175.7,336.4 175.3,337.9" stroke="#d8d8d8" stroke-width="0.47" opacity="0.85"/>
<path d="M199.2,294.4 Q194.2,292.7 194.2,294.4" stroke="#e8e8e8" stroke-width="0.38" opacity="0.85"/>
<path d="M217.9,352.4 Q222.3,356.3 219.7,356.5" stroke="#c0c0c0" stroke-width="0.45" opacity="0.85"/>
<path d="M210.9,385.0 Q211.2,389.1 214.2,389.5" stroke="#c0c0c0" stroke-width="0.47" opacity="0.85"/>
<path d="M214.4,293.1 Q211.7,300.9 210.9,303.5" stroke="#c0c0c0" stroke-width="0.40" opacity="0.85"/>
<path d="M227.5,347.1 Q221.8,352.6 218.3,351.2" stroke="#c0c0c0" stroke-width="0.48" opacity="0.85"/>
<path d="M226.8,377.1 Q221.5,380.6 220.8,384.7" stroke="#c0c0c0" stroke-width="0.49" opacity="0.85"/>
<path d="M163.9,355.1 Q166.0,358.2 166.4,365.2" stroke="#e8e8e8" stroke-width="0.41" opacity="0.85"/>
<path d="M170.0,354.8 Q170.7,359.5 166.6,357.7" stroke="#c0c0c0" stroke-width="0.54" opacity="0.85"/>
<path d="M171.7,317.6 Q176.0,322.9 178.6,321.8" stroke="#c0c0c0" stroke-width="0.59" opacity="0.85"/>
<path d="M211.9,303.0 Q208.5,309.4 209.6,310.3" stroke="#b0b0b0" stroke-width="0.58" opacity="0.85"/>
<path d="M156.4,386.4 Q156.6,389.8 163.6,388.4" stroke="#b0b0b0" stroke-width="0.39" opacity="0.85"/>
<path d="M190.2,355.9 Q195.3,359.0 196.1,366.3" stroke="#c0c0c0" stroke-width="0.41" opacity="0.85"/>
<path d="M224.2,327.7 Q227.3,330.3 228.4,333.8" stroke="#c0c0c0" stroke-width="0.40" opacity="0.85"/>
<path d="M178.2,342.5 Q177.9,349.0 178.6,347.9" stroke="#b0b0b0" stroke-width="0.47" opacity="0.85"/>
<path d="M175.0,343.9 Q174.9,345.6 174.8,351.6" stroke="#e8e8e8" stroke-width="0.53" opacity="0.85"/>
<path d="M232.3,332.3 Q231.9,337.2 233.9,339.0" stroke="#b0b0b0" stroke-width="0.51" opacity="0.85"/>
<path d="M190.6,375.5 Q197.1,375.8 198.9,376.6" stroke="#b0b0b0" stroke-width="0.59" opacity="0.85"/>
<path d="M203.4,307.6 Q196.2,312.4 197.0,314.2" stroke="#e8e8e8" stroke-width="0.52" opacity="0.85"/>
<path d="M185.1,324.7 Q190.8,324.6 191.7,330.1" stroke="#b0b0b0" stroke-width="0.51" opacity="0.85"/>
<path d="M175.7,305.6 Q171.0,308.5 164.5,306.5" stroke="#b0b0b0" stroke-width="0.47" opacity="0.85"/>
<path d="M182.2,381.5 Q185.3,386.0 181.5,388.3" stroke="#b0b0b0" stroke-width="0.38" opacity="0.85"/>
<path d="M173.1,353.0 Q165.4,357.2 165.4,356.7" stroke="#d8d8d8" stroke-width="0.44" opacity="0.85"/>
<path d="M227.8,345.9 Q231.9,345.9 230.9,351.3" stroke="#b0b0b0" stroke-width="0.36" opacity="0.85"/>
<path d="M168.0,297.9 Q170.5,296.7 177.4,302.6" stroke="#e8e8e8" stroke-width="0.38" opacity="0.85"/>
<path d="M232.6,382.7 Q235.2,387.5 237.0,384.8" stroke="#c0c0c0" stroke-width="0.46" opacity="0.85"/>
<path d="M168.0,366.8 Q166.7,374.9 171.8,377.0" stroke="#c0c0c0" stroke-width="0.50" opacity="0.85"/>
<path d="M233.1,295.8 Q231.3,298.3 237.2,297.5" stroke="#c0c0c0" stroke-width="0.38" opacity="0.85"/>
<path d="M165.4,310.1 Q166.9,312.8 160.9,317.7" stroke="#b0b0b0" stroke-width="0.43" opacity="0.85"/>
<path d="M185.9,336.6 Q191.3,340.1 193.8,337.2" stroke="#c0c0c0" stroke-width="0.39" opacity="0.85"/>
<path d="M164.6,327.1 Q169.7,329.5 174.4,328.9" stroke="#d8d8d8" stroke-width="0.55" opacity="0.85"/>
<path d="M197.4,380.4 Q194.0,383.5 198.2,384.5" stroke="#b0b0b0" stroke-width="0.48" opacity="0.85"/>
<path d="M164.2,296.8 Q163.9,303.5 163.7,307.1" stroke="#c0c0c0" stroke-width="0.52" opacity="0.85"/>
<path d="M152.4,372.2 Q148.2,379.7 151.9,382.5" stroke="#b0b0b0" stroke-width="0.53" opacity="0.85"/>
<path d="M167.7,330.1 Q169.8,334.7 172.3,338.1" stroke="#c0c0c0" stroke-width="0.43" opacity="0.85"/>
<path d="M183.3,318.9 Q181.1,324.9 174.3,325.7" stroke="#e8e8e8" stroke-width="0.43" opacity="0.85"/>
<path d="M214.9,318.2 Q221.6,320.3 222.7,322.5" stroke="#e8e8e8" stroke-width="0.56" opacity="0.85"/>
<path d="M234.1,341.2 Q238.8,338.6 244.6,342.7" stroke="#b0b0b0" stroke-width="0.58" opacity="0.85"/>
<path d="M200.7,334.7 Q208.4,333.1 211.7,337.8" stroke="#e8e8e8" stroke-width="0.57" opacity="0.85"/>
<path d="M202.3,335.5 Q194.4,338.2 193.2,341.8" stroke="#e8e8e8" stroke-width="0.37" opacity="0.85"/>
<path d="M193.0,364.2 Q189.9,365.7 190.3,369.2" stroke="#b0b0b0" stroke-width="0.54" opacity="0.85"/>
<path d="M209.5,356.7 Q206.7,361.0 206.8,362.4" stroke="#b0b0b0" stroke-width="0.59" opacity="0.85"/>
<path d="M155.8,375.6 Q159.8,382.7 162.1,384.0" stroke="#c0c0c0" stroke-width="0.44" opacity="0.85"/>
<path d="M222.7,377.8 Q222.2,377.0 222.5,383.9" stroke="#d8d8d8" stroke-width="0.56" opacity="0.85"/>
<path d="M226.1,295.4 Q228.3,301.1 226.9,303.1" stroke="#e8e8e8" stroke-width="0.56" opacity="0.85"/>
<path d="M202.5,387.7 Q200.4,393.5 195.9,394.0" stroke="#e8e8e8" stroke-width="0.43" opacity="0.85"/>
<path d="M165.6,385.0 Q160.5,390.7 159.5,389.8" stroke="#c0c0c0" stroke-width="0.39" opacity="0.85"/>
<path d="M234.7,322.2 Q239.6,324.4 246.4,324.5" stroke="#b0b0b0" stroke-width="0.40" opacity="0.85"/>
<path d="M186.6,339.0 Q188.8,340.8 192.9,340.2" stroke="#b0b0b0" stroke-width="0.56" opacity="0.85"/>
<path d="M231.8,384.3 Q230.8,385.8 229.0,388.7" stroke="#c0c0c0" stroke-width="0.58" opacity="0.85"/>
<path d="M226.6,339.0 Q222.3,344.6 224.3,350.2" stroke="#e8e8e8" stroke-width="0.39" opacity="0.85"/>
<path d="M225.5,328.8 Q216.8,329.8 213.9,329.4" stroke="#e8e8e8" stroke-width="0.45" opacity="0.85"/>
<path d="M197.4,323.4 Q196.1,322.9 200.8,325.9" stroke="#e8e8e8" stroke-width="0.49" opacity="0.85"/>
<path d="M230.7,360.5 Q228.4,361.4 223.9,361.6" stroke="#c0c0c0" stroke-width="0.44" opacity="0.85"/>
<path d="M202.2,322.0 Q210.2,322.6 210.7,330.2" stroke="#d8d8d8" stroke-width="0.40" opacity="0.85"/>
<path d="M157.9,343.5 Q152.5,343.6 151.2,350.0" stroke="#e8e8e8" stroke-width="0.58" opacity="0.85"/>
<path d="M234.3,359.8 Q235.6,359.3 244.1,359.9" stroke="#e8e8e8" stroke-width="0.43" opacity="0.85"/>
<path d="M199.2,292.9 Q196.4,296.6 192.2,295.1" stroke="#d8d8d8" stroke-width="0.49" opacity="0.85"/>
<path d="M234.0,382.6 Q233.3,385.1 238.6,386.2" stroke="#e8e8e8" stroke-width="0.52" opacity="0.85"/>
<path d="M183.9,391.3 Q184.8,392.7 182.6,395.3" stroke="#e8e8e8" stroke-width="0.48" opacity="0.85"/>
<path d="M187.5,379.1 Q186.0,378.7 191.7,379.4" stroke="#b0b0b0" stroke-width="0.39" opacity="0.85"/>
<path d="M212.3,347.1 Q207.0,345.3 205.7,349.2" stroke="#c0c0c0" stroke-width="0.39" opacity="0.85"/>
<path d="M161.2,371.7 Q163.1,370.5 164.0,375.8" stroke="#b0b0b0" stroke-width="0.45" opacity="0.85"/>
<path d="M197.1,293.5 Q195.5,297.7 198.2,297.8" stroke="#c0c0c0" stroke-width="0.57" opacity="0.85"/>
<path d="M181.7,369.4 Q179.6,374.3 178.7,379.6" stroke="#d8d8d8" stroke-width="0.41" opacity="0.85"/>
<path d="M207.6,375.5 Q211.0,380.1 207.5,383.1" stroke="#c0c0c0" stroke-width="0.40" opacity="0.85"/>
<path d="M173.6,369.4 Q172.6,375.8 178.4,378.2" stroke="#d8d8d8" stroke-width="0.48" opacity="0.85"/>
<path d="M229.7,316.4 Q229.8,321.9 232.7,320.7" stroke="#b0b0b0" stroke-width="0.58" opacity="0.85"/>
<path d="M200.7,341.8 Q198.7,348.7 192.7,350.6" stroke="#d8d8d8" stroke-width="0.42" opacity="0.85"/>
<path d="M155.3,296.8 Q149.9,298.9 149.5,302.6" stroke="#c0c0c0" stroke-width="0.52" opacity="0.85"/>
<path d="M188.0,358.1 Q181.7,356.6 183.5,359.5" stroke="#b0b0b0" stroke-width="0.38" opacity="0.85"/>
<path d="M185.9,345.6 Q185.1,349.8 188.5,351.4" stroke="#e8e8e8" stroke-width="0.41" opacity="0.85"/>
<path d="M185.3,360.8 Q185.1,362.9 191.8,364.3" stroke="#e8e8e8" stroke-width="0.58" opacity="0.85"/>
<path d="M160.3,342.2 Q164.9,344.5 166.8,346.8" stroke="#b0b0b0" stroke-width="0.42" opacity="0.85"/>
<path d="M229.5,373.5 Q232.9,372.1 236.5,376.8" stroke="#d8d8d8" stroke-width="0.52" opacity="0.85"/>
<path d="M200.0,389.6 Q201.0,388.2 197.3,393.0" stroke="#e8e8e8" stroke-width="0.41" opacity="0.85"/>
<path d="M170.3,386.8 Q175.6,387.7 175.6,390.0" stroke="#e8e8e8" stroke-width="0.39" opacity="0.85"/>
<path d="M188.3,310.0 Q187.4,310.4 187.6,315.0" stroke="#c0c0c0" stroke-width="0.51" opacity="0.85"/>
<path d="M173.6,303.7 Q176.4,302.4 183.7,306.7" stroke="#e8e8e8" stroke-width="0.37" opacity="0.85"/>
<path d="M177.4,351.0 Q174.1,358.3 169.8,358.7" stroke="#b0b0b0" stroke-width="0.59" opacity="0.85"/>
<path d="M205.5,386.8 Q209.1,389.1 212.4,391.7" stroke="#e8e8e8" stroke-width="0.38" opacity="0.85"/>
<path d="M181.4,347.9 Q180.5,350.5 177.1,359.0" stroke="#d8d8d8" stroke-width="0.45" opacity="0.85"/>
<path d="M207.1,310.5 Q212.0,315.3 212.5,316.8" stroke="#e8e8e8" stroke-width="0.48" opacity="0.85"/>
<path d="M172.7,384.6 Q172.5,387.5 175.8,392.0" stroke="#d8d8d8" stroke-width="0.55" opacity="0.85"/>
<path d="M192.1,365.1 Q191.3,366.4 192.9,370.8" stroke="#e8e8e8" stroke-width="0.37" opacity="0.85"/>
<path d="M181.9,357.4 Q176.1,359.6 171.3,358.0" stroke="#e8e8e8" stroke-width="0.51" opacity="0.85"/>
<path d="M209.6,319.3 Q206.8,325.0 211.5,323.3" stroke="#e8e8e8" stroke-width="0.55" opacity="0.85"/>
<path d="M171.0,325.7 Q171.0,327.1 167.1,328.6" stroke="#e8e8e8" stroke-width="0.40" opacity="0.85"/>
<path d="M226.4,296.3 Q227.0,302.2 228.8,300.7" stroke="#e8e8e8" stroke-width="0.46" opacity="0.85"/>
<path d="M178.1,389.4 Q178.7,394.1 182.9,392.0" stroke="#c0c0c0" stroke-width="0.43" opacity="0.85"/>
<path d="M222.7,381.1 Q227.9,382.2 228.8,385.3" stroke="#d8d8d8" stroke-width="0.38" opacity="0.85"/>
<path d="M174.5,343.1 Q172.5,342.4 162.6,343.5" stroke="#c0c0c0" stroke-width="0.44" opacity="0.85"/>
<path d="M152.9,329.2 Q156.9,334.5 158.0,337.9" stroke="#c0c0c0" stroke-width="0.40" opacity="0.85"/>
<path d="M200.1,349.3 Q204.5,353.0 205.7,351.1" stroke="#c0c0c0" stroke-width="0.41" opacity="0.85"/>
<path d="M200.6,349.5 Q202.5,351.0 207.2,350.2" stroke="#d8d8d8" stroke-width="0.48" opacity="0.85"/>
<path d="M162.2,313.3 Q161.9,319.6 163.8,319.5" stroke="#d8d8d8" stroke-width="0.43" opacity="0.85"/>
<path d="M185.2,357.4 Q184.9,361.7 188.8,363.8" stroke="#e8e8e8" stroke-width="0.42" opacity="0.85"/>
<path d="M216.4,339.9 Q221.3,338.7 228.1,341.9" stroke="#c0c0c0" stroke-width="0.54" opacity="0.85"/>
<path d="M221.9,346.8 Q215.9,347.0 216.2,351.0" stroke="#b0b0b0" stroke-width="0.58" opacity="0.85"/>
<path d="M224.9,323.1 Q218.3,330.8 218.6,332.1" stroke="#c0c0c0" stroke-width="0.44" opacity="0.85"/>
<path d="M187.9,342.8 Q186.2,349.2 184.2,347.9" stroke="#c0c0c0" stroke-width="0.38" opacity="0.85"/>
<path d="M195.8,303.4 Q193.2,305.6 195.0,309.7" stroke="#e8e8e8" stroke-width="0.50" opacity="0.85"/>
<path d="M198.4,319.4 Q198.3,326.8 194.8,328.8" stroke="#e8e8e8" stroke-width="0.51" opacity="0.85"/>
<path d="M196.2,324.8 Q191.9,325.6 190.3,327.9" stroke="#e8e8e8" stroke-width="0.41" opacity="0.85"/>
<path d="M152.3,391.8 Q150.9,392.7 151.8,397.4" stroke="#c0c0c0" stroke-width="0.55" opacity="0.85"/>
<path d="M190.0,375.2 Q183.8,375.5 185.3,380.4" stroke="#e8e8e8" stroke-width="0.52" opacity="0.85"/>
<path d="M208.1,341.7 Q208.6,345.1 214.4,346.2" stroke="#c0c0c0" stroke-width="0.41" opacity="0.85"/>
<path d="M205.5,305.6 Q209.4,306.4 213.1,310.2" stroke="#c0c0c0" stroke-width="0.53" opacity="0.85"/>
<path d="M212.8,303.1 Q212.2,309.4 216.4,308.1" stroke="#c0c0c0" stroke-width="0.52" opacity="0.85"/>
<path d="M213.7,324.0 Q211.4,325.5 209.2,326.2" stroke="#c0c0c0" stroke-width="0.56" opacity="0.85"/>
<path d="M206.2,302.6 Q214.1,306.9 215.0,303.6" stroke="#c0c0c0" stroke-width="0.42" opacity="0.85"/>
<path d="M222.2,309.7 Q218.0,318.1 221.5,320.3" stroke="#b0b0b0" stroke-width="0.37" opacity="0.85"/>
<path d="M220.6,337.4 Q221.6,340.1 225.5,340.6" stroke="#d8d8d8" stroke-width="0.38" opacity="0.85"/>
<path d="M182.9,383.0 Q178.0,386.2 180.3,386.2" stroke="#e8e8e8" stroke-width="0.43" opacity="0.85"/>
<path d="M213.0,300.7 Q211.0,304.8 207.4,301.4" stroke="#d8d8d8" stroke-width="0.55" opacity="0.85"/>
<path d="M212.8,314.8 Q210.9,316.2 208.2,315.9" stroke="#c0c0c0" stroke-width="0.45" opacity="0.85"/>
<path d="M197.1,329.7 Q196.1,330.1 188.1,335.0" stroke="#e8e8e8" stroke-width="0.54" opacity="0.85"/>
<path d="M221.0,316.8 Q220.3,319.0 224.1,325.8" stroke="#e8e8e8" stroke-width="0.47" opacity="0.85"/>
<path d="M180.9,340.5 Q179.9,345.2 174.2,346.5" stroke="#b0b0b0" stroke-width="0.40" opacity="0.85"/>
<path d="M180.8,365.2 Q182.4,366.9 183.5,374.1" stroke="#c0c0c0" stroke-width="0.47" opacity="0.85"/>
<path d="M194.1,370.7 Q191.1,375.3 190.5,375.0" stroke="#d8d8d8" stroke-width="0.42" opacity="0.85"/>
<path d="M180.9,304.1 Q182.8,305.6 179.1,310.1" stroke="#d8d8d8" stroke-width="0.57" opacity="0.85"/>
<path d="M177.1,371.3 Q177.2,377.0 176.3,376.3" stroke="#c0c0c0" stroke-width="0.42" opacity="0.85"/>
<path d="M223.6,370.6 Q219.2,374.6 215.7,375.8" stroke="#b0b0b0" stroke-width="0.40" opacity="0.85"/>
<path d="M160.4,333.2 Q161.7,338.0 167.6,336.8" stroke="#b0b0b0" stroke-width="0.42" opacity="0.85"/>
<path d="M160.3,364.2 Q165.7,364.3 169.7,369.4" stroke="#b0b0b0" stroke-width="0.56" opacity="0.85"/>
<path d="M153.4,385.0 Q158.3,385.9 158.9,385.7" stroke="#b0b0b0" stroke-width="0.40" opacity="0.85"/>
<path d="M216.8,322.6 Q221.1,327.1 224.2,329.1" stroke="#e8e8e8" stroke-width="0.38" opacity="0.85"/>
<path d="M219.0,390.1 Q218.5,394.8 222.0,394.4" stroke="#d8d8d8" stroke-width="0.36" opacity="0.85"/>
<path d="M199.5,381.8 Q199.8,386.1 204.0,385.1" stroke="#e8e8e8" stroke-width="0.47" opacity="0.85"/>
<path d="M172.8,322.0 Q176.6,327.3 175.8,329.1" stroke="#d8d8d8" stroke-width="0.54" opacity="0.85"/>
<path d="M223.7,303.4 Q224.3,304.6 225.2,313.3" stroke="#c0c0c0" stroke-width="0.40" opacity="0.85"/>
<path d="M155.0,367.7 Q150.6,367.0 147.9,369.3" stroke="#d8d8d8" stroke-width="0.50" opacity="0.85"/>
<path d="M219.1,366.8 Q218.1,373.4 216.6,375.9" stroke="#e8e8e8" stroke-width="0.39" opacity="0.85"/>
<path d="M185.7,381.1 Q184.4,384.0 182.2,387.5" stroke="#c0c0c0" stroke-width="0.60" opacity="0.85"/>
<path d="M194.2,303.8 Q189.2,301.4 185.2,306.8" stroke="#e8e8e8" stroke-width="0.51" opacity="0.85"/>
<path d="M204.5,376.3 Q206.4,379.6 211.6,379.4" stroke="#c0c0c0" stroke-width="0.39" opacity="0.85"/>
<path d="M184.6,292.3 Q187.5,295.4 186.9,298.2" stroke="#c0c0c0" stroke-width="0.43" opacity="0.85"/>
<path d="M162.6,359.0 Q158.6,361.3 157.7,362.9" stroke="#c0c0c0" stroke-width="0.38" opacity="0.85"/>
<path d="M212.7,298.8 Q220.2,298.2 224.1,299.7" stroke="#c0c0c0" stroke-width="0.50" opacity="0.85"/>
<path d="M204.8,366.0 Q209.8,367.9 215.3,370.0" stroke="#b0b0b0" stroke-width="0.45" opacity="0.85"/>
<path d="M188.1,314.8 Q192.4,322.4 194.4,324.8" stroke="#b0b0b0" stroke-width="0.48" opacity="0.85"/>
<path d="M198.2,375.4 Q194.3,382.7 194.2,383.1" stroke="#c0c0c0" stroke-width="0.46" opacity="0.85"/>
<path d="M215.3,319.6 Q214.6,325.7 215.0,324.8" stroke="#c0c0c0" stroke-width="0.38" opacity="0.85"/>
<path d="M153.4,300.2 Q153.5,307.3 149.0,307.9" stroke="#b0b0b0" stroke-width="0.53" opacity="0.85"/>
<path d="M157.2,384.4 Q160.4,382.5 160.1,388.4" stroke="#b0b0b0" stroke-width="0.44" opacity="0.85"/>
<path d="M218.3,300.9 Q219.4,305.5 218.2,305.1" stroke="#c0c0c0" stroke-width="0.50" opacity="0.85"/>
<path d="M157.8,321.0 Q159.6,325.2 160.0,332.5" stroke="#d8d8d8" stroke-width="0.49" opacity="0.85"/>
<path d="M233.0,346.3 Q232.2,347.0 238.4,353.9" stroke="#b0b0b0" stroke-width="0.37" opacity="0.85"/>
<path d="M209.6,350.8 Q212.7,352.0 215.8,358.2" stroke="#b0b0b0" stroke-width="0.36" opacity="0.85"/>
<path d="M189.9,324.5 Q188.2,325.1 186.3,332.2" stroke="#b0b0b0" stroke-width="0.44" opacity="0.85"/>
<path d="M182.6,323.7 Q184.3,325.9 189.1,332.1" stroke="#e8e8e8" stroke-width="0.50" opacity="0.85"/>
<path d="M201.7,316.1 Q205.6,322.7 202.5,323.5" stroke="#c0c0c0" stroke-width="0.38" opacity="0.85"/>
<path d="M197.5,304.8 Q200.7,306.7 207.9,305.3" stroke="#e8e8e8" stroke-width="0.41" opacity="0.85"/>
<path d="M203.1,311.4 Q197.5,315.7 198.4,317.4" stroke="#d8d8d8" stroke-width="0.40" opacity="0.85"/>
<path d="M205.3,344.9 Q205.5,345.2 198.3,347.2" stroke="#b0b0b0" stroke-width="0.40" opacity="0.85"/>
<path d="M207.3,348.2 Q212.3,352.0 214.7,357.4" stroke="#b0b0b0" stroke-width="0.40" opacity="0.85"/>
<path d="M230.8,388.5 Q225.4,391.3 220.6,388.7" stroke="#c0c0c0" stroke-width="0.52" opacity="0.85"/>
<path d="M158.3,347.8 Q161.7,353.4 160.6,352.7" stroke="#b0b0b0" stroke-width="0.47" opacity="0.85"/>
<path d="M177.9,328.8 Q176.1,332.7 168.8,333.8" stroke="#c0c0c0" stroke-width="0.37" opacity="0.85"/>
<path d="M226.0,345.0 Q222.7,343.8 218.9,348.2" stroke="#c0c0c0" stroke-width="0.59" opacity="0.85"/>
<path d="M219.4,389.0 Q220.1,393.2 225.5,390.6" stroke="#b0b0b0" stroke-width="0.40" opacity="0.85"/>
<path d="M190.7,336.1 Q183.9,342.4 183.6,341.7" stroke="#b0b0b0" stroke-width="0.41" opacity="0.85"/>
<path d="M154.0,302.0 Q152.8,304.6 151.6,311.3" stroke="#e8e8e8" stroke-width="0.40" opacity="0.85"/>
<path d="M156.9,349.4 Q157.1,351.1 153.1,351.4" stroke="#b0b0b0" stroke-width="0.49" opacity="0.85"/>
<path d="M219.5,307.4 Q221.5,308.1 225.0,313.6" stroke="#e8e8e8" stroke-width="0.50" opacity="0.85"/>
<path d="M228.5,373.2 Q234.2,375.9 233.0,380.5" stroke="#d8d8d8" stroke-width="0.36" opacity="0.85"/>
<path d="M173.1,366.4 Q175.2,370.0 181.0,374.8" stroke="#b0b0b0" stroke-width="0.46" opacity="0.85"/>
<path d="M190.8,348.7 Q185.0,350.3 184.4,358.1" stroke="#c0c0c0" stroke-width="0.40" opacity="0.85"/>
<path d="M169.4,358.7 Q172.6,361.0 172.1,363.5" stroke="#d8d8d8" stroke-width="0.51" opacity="0.85"/>
<path d="M166.4,389.2 Q168.6,386.0 171.6,390.5" stroke="#b0b0b0" stroke-width="0.54" opacity="0.85"/>
<path d="M193.8,300.6 Q192.9,301.1 199.2,303.1" stroke="#e8e8e8" stroke-width="0.43" opacity="0.85"/>
<path d="M192.8,331.5 Q191.3,336.9 192.6,340.7" stroke="#b0b0b0" stroke-width="0.40" opacity="0.85"/>
<path d="M179.9,293.2 Q181.6,296.3 184.5,294.0" stroke="#b0b0b0" stroke-width="0.59" opacity="0.85"/>
<path d="M221.5,350.6 Q224.9,348.9 230.1,350.9" stroke="#d8d8d8" stroke-width="0.47" opacity="0.85"/>
<path d="M195.7,302.4 Q194.6,303.9 193.5,306.6" stroke="#d8d8d8" stroke-width="0.38" opacity="0.85"/>
<path d="M201.7,379.1 Q193.8,386.2 193.1,387.3" stroke="#e8e8e8" stroke-width="0.52" opacity="0.85"/>
<path d="M152.2,339.5 Q154.5,341.3 157.3,349.4" stroke="#d8d8d8" stroke-width="0.43" opacity="0.85"/>
<path d="M197.1,384.8 Q193.5,389.9 188.9,387.1" stroke="#d8d8d8" stroke-width="0.46" opacity="0.85"/>
<path d="M225.3,355.4 Q231.0,355.8 233.0,359.3" stroke="#d8d8d8" stroke-width="0.53" opacity="0.85"/>
<path d="M230.6,293.4 Q224.0,297.0 224.5,295.9" stroke="#d8d8d8" stroke-width="0.58" opacity="0.85"/>
<path d="M165.7,318.3 Q163.3,322.4 157.1,323.1" stroke="#e8e8e8" stroke-width="0.50" opacity="0.85"/>
<path d="M163.8,372.5 Q168.3,377.3 173.8,375.8" stroke="#e8e8e8" stroke-width="0.39" opacity="0.85"/>
<path d="M189.2,376.4 Q191.8,381.3 196.4,385.6" stroke="#b0b0b0" stroke-width="0.36" opacity="0.85"/>
<path d="M162.1,375.8 Q161.9,378.8 158.7,377.8" stroke="#e8e8e8" stroke-width="0.43" opacity="0.85"/>
<path d="M164.9,305.4 Q163.7,304.9 161.1,310.6" stroke="#b0b0b0" stroke-width="0.48" opacity="0.85"/>
<path d="M163.9,374.0 Q171.5,379.9 172.1,380.7" stroke="#c0c0c0" stroke-width="0.58" opacity="0.85"/>
<path d="M156.5,383.3 Q151.1,383.7 150.7,385.2" stroke="#e8e8e8" stroke-width="0.59" opacity="0.85"/>
<path d="M162.7,310.5 Q161.5,316.5 165.9,319.6" stroke="#b0b0b0" stroke-width="0.42" opacity="0.85"/>
<path d="M172.9,346.3 Q173.7,345.3 168.3,348.4" stroke="#d8d8d8" stroke-width="0.52" opacity="0.85"/>
<path d="M162.1,369.8 Q161.8,372.3 167.9,378.2" stroke="#b0b0b0" stroke-width="0.55" opacity="0.85"/>
<path d="M196.9,336.3 Q195.0,336.2 198.3,340.8" stroke="#d8d8d8" stroke-width="0.37" opacity="0.85"/>
<path d="M207.4,300.3 Q208.9,302.2 204.5,305.5" stroke="#b0b0b0" stroke-width="0.38" opacity="0.85"/>
<path d="M184.9,312.1 Q184.6,316.0 186.7,320.6" stroke="#e8e8e8" stroke-width="0.52" opacity="0.85"/>
<path d="M162.6,330.5 Q166.5,330.7 166.6,335.4" stroke="#e8e8e8" stroke-width="0.46" opacity="0.85"/>
<path d="M167.6,379.6 Q171.5,380.5 173.6,388.0" stroke="#d8d8d8" stroke-width="0.46" opacity="0.85"/>
<path d="M199.0,378.3 Q198.0,380.5 203.2,382.6" stroke="#c0c0c0" stroke-width="0.48" opacity="0.85"/>
<path d="M167.8,292.6 Q166.7,294.1 158.2,298.1" stroke="#d8d8d8" stroke-width="0.49" opacity="0.85"/>
<path d="M212.0,300.4 Q214.5,299.1 218.3,303.8" stroke="#e8e8e8" stroke-width="0.46" opacity="0.85"/>
<path d="M190.9,383.2 Q185.2,388.2 179.9,385.8" stroke="#c0c0c0" stroke-width="0.39" opacity="0.85"/>
<path d="M173.1,342.0 Q174.2,341.9 170.6,345.3" stroke="#b0b0b0" stroke-width="0.44" opacity="0.85"/>
<path d="M220.8,313.4 Q220.6,315.9 221.8,323.3" stroke="#d8d8d8" stroke-width="0.37" opacity="0.85"/>
<path d="M233.2,314.1 Q234.7,320.6 235.0,320.9" stroke="#b0b0b0" stroke-width="0.51" opacity="0.85"/>
<path d="M182.3,302.7 Q182.9,304.6 182.1,307.3" stroke="#b0b0b0" stroke-width="0.52" opacity="0.85"/>
<path d="M199.3,355.3 Q198.3,361.9 197.0,360.7" stroke="#e8e8e8" stroke-width="0.41" opacity="0.85"/>
<path d="M178.2,341.4 Q174.9,339.3 170.6,341.8" stroke="#d8d8d8" stroke-width="0.55" opacity="0.85"/>
<path d="M156.7,321.8 Q158.5,321.6 160.3,324.7" stroke="#b0b0b0" stroke-width="0.48" opacity="0.85"/>
<path d="M155.5,298.6 Q152.0,305.8 150.3,306.4" stroke="#e8e8e8" stroke-width="0.44" opacity="0.85"/>
<path d="M163.8,324.5 Q163.8,324.5 170.6,327.3" stroke="#b0b0b0" stroke-width="0.51" opacity="0.85"/>
<path d="M175.2,336.6 Q175.1,340.7 180.1,339.8" stroke="#b0b0b0" stroke-width="0.59" opacity="0.85"/>
<path d="M226.8,367.9 Q227.7,372.0 223.6,371.9" stroke="#d8d8d8" stroke-width="0.40" opacity="0.85"/>
<path d="M232.8,359.2 Q227.9,361.6 229.3,366.7" stroke="#c0c0c0" stroke-width="0.50" opacity="0.85"/>
<path d="M178.5,293.0 Q180.6,296.6 180.5,302.3" stroke="#b0b0b0" stroke-width="0.41" opacity="0.85"/>
<path d="M210.5,321.9 Q214.8,326.8 214.9,330.6" stroke="#b0b0b0" stroke-width="0.37" opacity="0.85"/>
<path d="M223.8,349.5 Q224.0,355.4 221.1,359.2" stroke="#e8e8e8" stroke-width="0.47" opacity="0.85"/>
<path d="M188.1,356.9 Q195.5,359.3 195.1,362.2" stroke="#c0c0c0" stroke-width="0.43" opacity="0.85"/>
<path d="M216.5,361.5 Q211.9,366.2 213.0,366.8" stroke="#c0c0c0" stroke-width="0.42" opacity="0.85"/>
<path d="M192.8,310.4 Q186.4,306.8 181.6,310.8" stroke="#e8e8e8" stroke-width="0.44" opacity="0.85"/>
<path d="M212.6,349.8 Q207.7,353.8 209.0,353.8" stroke="#c0c0c0" stroke-width="0.59" opacity="0.85"/>
<path d="M177.2,368.0 Q175.2,374.4 174.0,374.6" stroke="#e8e8e8" stroke-width="0.41" opacity="0.85"/>
<path d="M230.8,387.6 Q230.4,387.0 232.9,391.2" stroke="#b0b0b0" stroke-width="0.42" opacity="0.85"/>
<path d="M180.4,365.0 Q183.4,372.1 186.2,372.1" stroke="#c0c0c0" stroke-width="0.40" opacity="0.85"/>
<path d="M161.7,328.7 Q161.8,330.7 165.9,331.4" stroke="#b0b0b0" stroke-width="0.47" opacity="0.85"/>
<path d="M182.4,343.7 Q187.0,345.4 192.9,345.1" stroke="#e8e8e8" stroke-width="0.49" opacity="0.85"/>
<path d="M191.5,325.0 Q190.0,322.6 186.7,326.7" stroke="#c0c0c0" stroke-width="0.57" opacity="0.85"/>
<path d="M154.8,362.1 Q157.1,363.8 154.1,367.9" stroke="#b0b0b0" stroke-width="0.44" opacity="0.85"/>
<path d="M156.8,358.5 Q156.4,357.8 156.5,364.3" stroke="#e8e8e8" stroke-width="0.36" opacity="0.85"/>
<path d="M174.8,303.8 Q171.9,308.7 174.3,308.9" stroke="#d8d8d8" stroke-width="0.48" opacity="0.85"/>
<path d="M164.3,329.6 Q162.2,329.3 162.7,335.8" stroke="#b0b0b0" stroke-width="0.43" opacity="0.85"/>
<path d="M185.0,387.8 Q184.8,385.7 178.3,388.5" stroke="#d8d8d8" stroke-width="0.52" opacity="0.85"/>
<path d="M190.2,388.6 Q186.8,387.8 185.9,392.5" stroke="#c0c0c0" stroke-width="0.55" opacity="0.85"/>
<path d="M212.0,323.7 Q215.3,324.6 214.7,332.8" stroke="#b0b0b0" stroke-width="0.55" opacity="0.85"/>
<path d="M190.4,319.0 Q190.2,318.4 184.8,322.7" stroke="#c0c0c0" stroke-width="0.37" opacity="0.85"/>
<path d="M223.3,359.7 Q223.2,363.7 215.9,360.3" stroke="#d8d8d8" stroke-width="0.48" opacity="0.85"/>
<path d="M222.2,296.4 Q221.9,302.4 221.8,301.4" stroke="#e8e8e8" stroke-width="0.42" opacity="0.85"/>
<path d="M154.4,384.3 Q154.6,388.7 160.5,385.1" stroke="#c0c0c0" stroke-width="0.41" opacity="0.85"/>
<path d="M154.3,355.6 Q157.3,358.0 160.5,362.6" stroke="#d8d8d8" stroke-width="0.46" opacity="0.85"/>
<path d="M209.9,342.6 Q210.6,351.3 209.9,354.5" stroke="#d8d8d8" stroke-width="0.45" opacity="0.85"/>
<path d="M163.3,369.1 Q160.5,373.9 159.2,372.6" stroke="#b0b0b0" stroke-width="0.42" opacity="0.85"/>
<path d="M159.1,303.5 Q158.2,311.5 163.8,313.9" stroke="#c0c0c0" stroke-width="0.60" opacity="0.85"/>
<path d="M169.9,293.7 Q168.7,295.8 173.5,299.2" stroke="#d8d8d8" stroke-width="0.37" opacity="0.85"/>
<path d="M191.6,379.0 Q185.0,380.0 183.1,382.5" stroke="#c0c0c0" stroke-width="0.39" opacity="0.85"/>
<path d="M208.6,338.4 Q212.8,336.6 216.2,339.4" stroke="#e8e8e8" stroke-width="0.59" opacity="0.85"/>
<path d="M161.8,313.0 Q162.2,316.1 158.7,316.7" stroke="#c0c0c0" stroke-width="0.58" opacity="0.85"/>
<path d="M205.8,357.6 Q207.9,362.5 206.0,366.3" stroke="#c0c0c0" stroke-width="0.43" opacity="0.85"/>
<path d="M204.1,298.7 Q204.1,298.8 203.8,304.6" stroke="#e8e8e8" stroke-width="0.44" opacity="0.85"/>
<path d="M232.7,301.0 Q230.5,302.2 230.0,304.2" stroke="#d8d8d8" stroke-width="0.44" opacity="0.85"/>
<path d="M171.9,293.5 Q164.7,294.3 161.1,295.6" stroke="#e8e8e8" stroke-width="0.58" opacity="0.85"/>
<path d="M227.4,315.5 Q230.8,323.1 228.9,324.8" stroke="#b0b0b0" stroke-width="0.46" opacity="0.85"/>
<path d="M161.7,310.6 Q156.5,312.6 153.4,317.0" stroke="#b0b0b0" stroke-width="0.58" opacity="0.85"/>
<path d="M232.4,334.5 Q230.1,337.3 228.6,338.8" stroke="#c0c0c0" stroke-width="0.37" opacity="0.85"/>
<path d="M200.9,334.1 Q199.8,331.7 195.0,335.4" stroke="#c0c0c0" stroke-width="0.46" opacity="0.85"/>
<path d="M170.0,381.3 Q172.0,385.4 168.4,385.8" stroke="#e8e8e8" stroke-width="0.59" opacity="0.85"/>
<path d="M212.3,298.5 Q215.8,302.3 223.3,299.2" stroke="#c0c0c0" stroke-width="0.51" opacity="0.85"/>
<path d="M180.4,295.4 Q177.3,296.3 179.5,300.3" stroke="#c0c0c0" stroke-width="0.58" opacity="0.85"/>
<path d="M194.8,317.5 Q199.8,318.0 200.4,324.1" stroke="#e8e8e8" stroke-width="0.53" opacity="0.85"/>
<path d="M169.7,352.8 Q173.4,358.9 171.2,361.4" stroke="#c0c0c0" stroke-width="0.45" opacity="0.85"/>
<path d="M215.1,332.4 Q218.5,339.3 217.5,339.8" stroke="#b0b0b0" stroke-width="0.56" opacity="0.85"/>
<path d="M205.5,309.6 Q206.0,318.4 211.2,319.4" stroke="#c0c0c0" stroke-width="0.38" opacity="0.85"/>
<path d="M227.8,391.9 Q228.4,394.2 227.4,402.4" stroke="#e8e8e8" stroke-width="0.60" opacity="0.85"/>
<path d="M215.9,318.5 Q210.1,325.6 209.3,325.2" stroke="#d8d8d8" stroke-width="0.40" opacity="0.85"/>
<path d="M220.3,347.0 Q221.0,347.6 225.0,351.7" stroke="#e8e8e8" stroke-width="0.52" opacity="0.85"/>
<path d="M209.8,297.4 Q210.1,302.9 207.8,307.2" stroke="#d8d8d8" stroke-width="0.39" opacity="0.85"/>
<path d="M173.4,344.8 Q171.5,347.9 170.6,355.0" stroke="#e8e8e8" stroke-width="0.46" opacity="0.85"/>
<path d="M222.4,322.5 Q217.2,328.8 213.6,330.5" stroke="#e8e8e8" stroke-width="0.53" opacity="0.85"/>
<path d="M214.0,387.2 Q213.9,390.9 210.4,397.4" stroke="#e8e8e8" stroke-width="0.42" opacity="0.85"/>
<path d="M159.2,390.5 Q157.2,390.0 157.7,394.6" stroke="#b0b0b0" stroke-width="0.43" opacity="0.85"/>
<path d="M174.3,354.5 Q169.0,353.6 163.5,355.9" stroke="#d8d8d8" stroke-width="0.49" opacity="0.85"/>
<path d="M154.5,328.8 Q161.8,329.8 161.9,332.1" stroke="#b0b0b0" stroke-width="0.39" opacity="0.85"/>
<path d="M182.9,300.6 Q175.1,299.4 174.9,305.1" stroke="#c0c0c0" stroke-width="0.38" opacity="0.85"/>
<path d="M176.4,377.1 Q182.4,381.1 185.4,380.3" stroke="#b0b0b0" stroke-width="0.51" opacity="0.85"/>
<path d="M197.0,321.5 Q197.0,321.6 197.9,326.9" stroke="#e8e8e8" stroke-width="0.45" opacity="0.85"/>
<path d="M197.8,347.2 Q191.5,348.0 191.9,351.5" stroke="#b0b0b0" stroke-width="0.57" opacity="0.85"/>
<path d="M228.4,368.5 Q225.8,368.0 221.9,373.7" stroke="#e8e8e8" stroke-width="0.50" opacity="0.85"/>
<path d="M164.6,324.8 Q166.8,322.6 175.5,325.5" stroke="#b0b0b0" stroke-width="0.55" opacity="0.85"/>
<path d="M225.1,323.7 Q224.8,324.5 221.3,327.2" stroke="#e8e8e8" stroke-width="0.51" opacity="0.85"/>
<path d="M228.7,337.7 Q231.7,340.0 237.8,338.9" stroke="#d8d8d8" stroke-width="0.54" opacity="0.85"/>
<path d="M225.3,327.3 Q229.6,334.0 228.1,336.4" stroke="#e8e8e8" stroke-width="0.46" opacity="0.85"/>
<path d="M163.5,299.0 Q162.9,305.3 159.2,309.1" stroke="#b0b0b0" stroke-width="0.36" opacity="0.85"/>
<path d="M219.2,344.9 Q218.0,349.5 218.2,353.3" stroke="#d8d8d8" stroke-width="0.38" opacity="0.85"/>
<path d="M172.7,360.0 Q174.7,368.4 174.8,371.4" stroke="#d8d8d8" stroke-width="0.58" opacity="0.85"/>
<path d="M156.3,293.1 Q151.2,295.2 151.8,296.8" stroke="#c0c0c0" stroke-width="0.39" opacity="0.85"/>
<path d="M195.8,382.1 Q197.2,385.0 198.9,391.5" stroke="#c0c0c0" stroke-width="0.52" opacity="0.85"/>
<path d="M177.2,365.2 Q173.0,370.6 170.9,369.9" stroke="#b0b0b0" stroke-width="0.38" opacity="0.85"/>
<path d="M201.8,358.1 Q201.9,364.8 198.7,364.0" stroke="#b0b0b0" stroke-width="0.49" opacity="0.85"/>
<path d="M197.7,292.9 Q193.5,295.4 191.0,296.9" stroke="#d8d8d8" stroke-width="0.51" opacity="0.85"/>
<path d="M155.8,304.3 Q153.8,304.7 154.8,308.8" stroke="#b0b0b0" stroke-width="0.51" opacity="0.85"/>
<path d="M188.9,345.9 Q184.3,347.3 178.4,348.2" stroke="#e8e8e8" stroke-width="0.47" opacity="0.85"/>
<path d="M222.4,390.6 Q222.3,393.5 223.7,396.2" stroke="#c0c0c0" stroke-width="0.49" opacity="0.85"/>
<path d="M228.3,358.6 Q228.3,359.3 232.5,362.5" stroke="#b0b0b0" stroke-width="0.42" opacity="0.85"/>
<path d="M156.7,344.8 Q155.5,348.3 153.4,350.3" stroke="#e8e8e8" stroke-width="0.54" opacity="0.85"/>
<path d="M199.6,355.1 Q202.9,357.0 200.4,360.4" stroke="#d8d8d8" stroke-width="0.47" opacity="0.85"/>
<path d="M203.1,310.6 Q200.9,315.2 193.0,314.6" stroke="#b0b0b0" stroke-width="0.57" opacity="0.85"/>
<path d="M171.2,328.9 Q168.4,333.8 168.4,337.4" stroke="#e8e8e8" stroke-width="0.45" opacity="0.85"/>
<path d="M214.4,386.6 Q218.9,393.9 220.0,396.1" stroke="#c0c0c0" stroke-width="0.39" opacity="0.85"/>
<path d="M232.2,350.9 Q237.7,353.9 242.6,353.0" stroke="#c0c0c0" stroke-width="0.58" opacity="0.85"/>
<path d="M160.6,329.3 Q163.6,333.3 159.3,341.2" stroke="#d8d8d8" stroke-width="0.37" opacity="0.85"/>
<path d="M196.3,361.6 Q201.2,364.3 205.2,363.7" stroke="#b0b0b0" stroke-width="0.57" opacity="0.85"/>
<path d="M173.3,374.1 Q177.4,374.1 174.4,378.1" stroke="#e8e8e8" stroke-width="0.36" opacity="0.85"/>
<path d="M156.9,347.2 Q158.2,350.0 157.9,355.3" stroke="#e8e8e8" stroke-width="0.44" opacity="0.85"/>
<path d="M163.9,299.8 Q158.7,305.7 154.2,306.9" stroke="#c0c0c0" stroke-width="0.58" opacity="0.85"/>
<path d="M196.2,319.5 Q194.0,321.1 188.1,320.0" stroke="#e8e8e8" stroke-width="0.45" opacity="0.85"/>
<path d="M198.4,376.9 Q192.1,378.4 193.3,379.3" stroke="#d8d8d8" stroke-width="0.39" opacity="0.85"/>
<path d="M228.5,335.9 Q230.0,338.0 230.0,341.2" stroke="#d8d8d8" stroke-width="0.52" opacity="0.85"/>
<path d="M220.4,346.5 Q221.6,350.4 221.3,351.4" stroke="#c0c0c0" stroke-width="0.53" opacity="0.85"/>
<path d="M233.7,294.7 Q233.1,297.4 239.5,303.8" stroke="#c0c0c0" stroke-width="0.50" opacity="0.85"/>
<path d="M233.4,312.9 Q228.9,312.6 230.8,316.7" stroke="#b0b0b0" stroke-width="0.50" opacity="0.85"/>
<path d="M161.4,335.5 Q157.9,336.5 149.7,337.9" stroke="#c0c0c0" stroke-width="0.43" opacity="0.85"/>
<path d="M218.1,310.4 Q216.8,316.0 216.2,314.9" stroke="#d8d8d8" stroke-width="0.37" opacity="0.85"/>
<path d="M172.0,371.6 Q178.6,372.3 182.4,374.4" stroke="#b0b0b0" stroke-width="0.44" opacity="0.85"/>
<path d="M163.4,378.5 Q157.8,376.1 155.6,380.2" stroke="#c0c0c0" stroke-width="0.43" opacity="0.85"/>
<path d="M170.5,355.0 Q175.5,362.5 177.5,362.0" stroke="#b0b0b0" stroke-width="0.48" opacity="0.85"/>
<path d="M193.0,345.9 Q195.5,350.8 202.3,350.4" stroke="#e8e8e8" stroke-width="0.37" opacity="0.85"/>
<path d="M177.4,339.6 Q178.9,345.6 173.4,348.8" stroke="#d8d8d8" stroke-width="0.45" opacity="0.85"/>
<path d="M200.1,344.1 Q200.9,341.3 194.6,344.4" stroke="#e8e8e8" stroke-width="0.45" opacity="0.85"/>
<path d="M231.7,327.8 Q229.2,334.5 230.5,336.7" stroke="#d8d8d8" stroke-width="0.59" opacity="0.85"/>
<path d="M231.3,366.4 Q238.0,363.5 241.9,368.4" stroke="#d8d8d8" stroke-width="0.36" opacity="0.85"/>
<path d="M231.8,389.4 Q226.9,395.9 224.3,397.0" stroke="#d8d8d8" stroke-width="0.58" opacity="0.85"/>
<path d="M213.1,362.0 Q218.3,363.7 218.2,362.6" stroke="#b0b0b0" stroke-width="0.43" opacity="0.85"/>
<path d="M174.2,384.1 Q177.0,383.1 182.4,384.6" stroke="#d8d8d8" stroke-width="0.54" opacity="0.85"/>
<path d="M158.0,336.2 Q160.5,343.6 157.2,346.4" stroke="#b0b0b0" stroke-width="0.55" opacity="0.85"/>
<path d="M217.5,371.2 Q216.7,374.0 222.5,371.4" stroke="#c0c0c0" stroke-width="0.45" opacity="0.85"/>
<path d="M170.4,360.6 Q168.1,365.9 165.5,368.0" stroke="#c0c0c0" stroke-width="0.60" opacity="0.85"/>
</g></g>
<g transform="translate(260.4,373) rotate(29.4)">
<ellipse cx="0" cy="0" rx="32" ry="41" fill="#a9a9a9" stroke="#8f8f8f" stroke-width="0.8"/>
<ellipse cx="0" cy="0" rx="29.8" ry="38.6" fill="#c0c0c0"/>
</g>
<g transform="translate(261.5,371.5) rotate(20)">
<path d="M0.84,-27.48 L-0.42,-27.50 L-1.67,-27.43 L-2.92,-27.30 L-4.17,-27.08 L-5.40,-26.80 L-6.62,-26.43 L-7.81,-26.00 L-8.99,-25.50 L-10.14,-24.92 L-11.27,-24.28 L-12.36,-23.57 L-13.42,-22.80 L-14.44,-21.96 L-15.43,-21.07 L-16.37,-20.11 L-17.26,-19.10 L-18.11,-18.04 L-18.91,-16.93 L-19.66,-15.77 L-20.35,-14.57 L-20.99,-13.33 L-21.57,-12.06 L-22.09,-10.75 L-22.55,-9.41 L-22.95,-8.04 L-23.29,-6.65 L-23.56,-5.25 L-23.77,-3.83 L-23.91,-2.40 L-23.99,-0.96 L-24.00,0.48 L-23.94,1.92 L-23.82,3.35 L-23.64,4.78 L-23.38,6.19 L-23.07,7.58 L-22.69,8.95 L-22.25,10.30 L-21.75,11.62 L-21.19,12.91 L-20.57,14.16 L-19.90,15.38 L-19.17,16.55 L-18.39,17.68 L-17.55,18.75 L-16.67,19.78 L-15.75,20.75 L-14.78,21.67 L-13.77,22.53 L-12.72,23.32 L-11.64,24.05 L-10.52,24.72 L-9.38,25.31 L-8.21,25.84 L-7.02,26.30 L-5.81,26.68 L-4.58,26.99 L-3.34,27.23 L-2.09,27.40 L-0.84,27.48 L0.42,27.50 L1.67,27.43 L2.92,27.30 L4.17,27.08 L5.40,26.80 L6.62,26.43 L7.81,26.00 L8.99,25.50 L10.14,24.92 L11.27,24.28 L12.36,23.57 L13.42,22.80 L14.44,21.96 L15.43,21.07 L16.37,20.11 L17.26,19.10 L18.11,18.04 L18.91,16.93 L19.66,15.77 L20.35,14.57 L20.99,13.33 L21.57,12.06 L22.09,10.75 L22.55,9.41 L22.95,8.04 L23.29,6.65" fill="none" stroke="#858585" stroke-width="6.2"/>
</g>
<path d="M285,351.8 L273.4,340.6 L268.6,354.4 Z" fill="#858585"/>
<path d="M149,297 C158,295 168,292 173,292.3 C170,297 160,305 157.3,309.8 C160,310.5 167,308.5 172,307" fill="none" stroke="#6c6c6c" stroke-width="0.9"/>
<path d="M203.3,352 L208.4,341.9 L216.8,345.3 L212.6,355.4 Z" fill="none" stroke="#111" stroke-width="1.3"/>
<polyline points="126,279.5 101.8,303.7 152.8,355.9 173,331.8" fill="none" stroke="#222" stroke-width="1.3"/>
<line x1="144.3" y1="377.3" x2="203.3" y2="352" stroke="#222" stroke-width="1.3"/>
<clipPath id="cm"><rect x="85.7" y="350.8" width="58.8" height="53.69999999999999"/></clipPath><filter id="fcm" x="-10%" y="-10%" width="120%" height="120%"><feGaussianBlur stdDeviation="0.6"/></filter><g clip-path="url(#cm)"><rect x="85.7" y="350.8" width="58.8" height="53.69999999999999" fill="#222222"/><g filter="url(#fcm)"><rect x="80.7" y="345.8" width="68.8" height="63.69999999999999" fill="#222222"/><rect x="83.7" y="354.5" width="62.8" height="11.2" fill="#959595"/><rect x="83.7" y="354.5" width="62.8" height="1.7" fill="#c8c8c8"/><rect x="83.7" y="364.0" width="62.8" height="1.7" fill="#b8b8b8"/><rect x="83.7" y="377.29999999999995" width="62.8" height="10.400000000000045" fill="#959595"/><rect x="83.7" y="377.29999999999995" width="62.8" height="1.7" fill="#c8c8c8"/><rect x="83.7" y="386.0" width="62.8" height="1.7" fill="#b8b8b8"/><rect x="83.7" y="397.9" width="62.8" height="10.7" fill="#959595"/><rect x="83.7" y="397.9" width="62.8" height="1.7" fill="#c8c8c8"/><rect x="83.7" y="406.9" width="62.8" height="1.7" fill="#b8b8b8"/><rect x="86.2" y="348.8" width="12.600000000000005" height="57.69999999999999" fill="#929292"/><rect x="86.2" y="348.8" width="1.8" height="57.69999999999999" fill="#c4c4c4"/><rect x="97.0" y="348.8" width="1.8" height="57.69999999999999" fill="#b4b4b4"/><rect x="109.7" y="348.8" width="10.499999999999996" height="57.69999999999999" fill="#929292"/><rect x="109.7" y="348.8" width="1.8" height="57.69999999999999" fill="#c4c4c4"/><rect x="118.39999999999999" y="348.8" width="1.8" height="57.69999999999999" fill="#b4b4b4"/><rect x="131.1" y="348.8" width="11.800000000000022" height="57.69999999999999" fill="#929292"/><rect x="131.1" y="348.8" width="1.8" height="57.69999999999999" fill="#c4c4c4"/><rect x="141.10000000000002" y="348.8" width="1.8" height="57.69999999999999" fill="#b4b4b4"/><rect x="86.3" y="354.5" width="12.400000000000006" height="11.2" fill="#959595"/><rect x="86.3" y="354.5" width="12.400000000000006" height="1.7" fill="#c8c8c8"/><rect x="86.3" y="364.0" width="12.400000000000006" height="1.7" fill="#b8b8b8"/><rect x="131.2" y="354.5" width="11.600000000000023" height="11.2" fill="#959595"/><rect x="131.2" y="354.5" width="11.600000000000023" height="1.7" fill="#c8c8c8"/><rect x="131.2" y="364.0" width="11.600000000000023" height="1.7" fill="#b8b8b8"/><rect x="109.8" y="377.29999999999995" width="10.299999999999997" height="10.400000000000045" fill="#959595"/><rect x="109.8" y="377.29999999999995" width="10.299999999999997" height="1.7" fill="#c8c8c8"/><rect x="109.8" y="386.0" width="10.299999999999997" height="1.7" fill="#b8b8b8"/><rect x="86.3" y="397.9" width="12.400000000000006" height="10.7" fill="#959595"/><rect x="86.3" y="397.9" width="12.400000000000006" height="1.7" fill="#c8c8c8"/><rect x="86.3" y="406.9" width="12.400000000000006" height="1.7" fill="#b8b8b8"/><rect x="131.2" y="397.9" width="11.600000000000023" height="10.7" fill="#959595"/><rect x="131.2" y="397.9" width="11.600000000000023" height="1.7" fill="#c8c8c8"/><rect x="131.2" y="406.9" width="11.600000000000023" height="1.7" fill="#b8b8b8"/></g></g>
<clipPath id="c0"><rect x="397.2" y="77.8" width="50.6" height="171.5"/></clipPath><filter id="fc0" x="-10%" y="-10%" width="120%" height="120%"><feGaussianBlur stdDeviation="0.7"/></filter><g clip-path="url(#c0)"><rect x="397.2" y="77.8" width="50.6" height="171.5" fill="#1c1c1c"/><g filter="url(#fc0)"><rect x="392.2" y="72.8" width="60.6" height="181.5" fill="#1c1c1c"/><line x1="390" y1="80" x2="420" y2="79" stroke="#202020" stroke-width="9"/><line x1="390" y1="80" x2="420" y2="79" stroke="#808080" stroke-width="7"/><line x1="389.9" y1="77.2" x2="419.9" y2="76.2" stroke="#d4d4d4" stroke-width="1.4"/><line x1="390.1" y1="82.8" x2="420.1" y2="81.8" stroke="#a8a8a8" stroke-width="0.8"/><line x1="390" y1="92" x2="420" y2="109" stroke="#202020" stroke-width="18"/><line x1="390" y1="92" x2="420" y2="109" stroke="#808080" stroke-width="16"/><line x1="393.6" y1="85.6" x2="423.6" y2="102.6" stroke="#d4d4d4" stroke-width="1.4"/><line x1="386.4" y1="98.4" x2="416.4" y2="115.4" stroke="#a8a8a8" stroke-width="0.8"/><line x1="390" y1="116" x2="420" y2="132" stroke="#202020" stroke-width="17"/><line x1="390" y1="116" x2="420" y2="132" stroke="#808080" stroke-width="15"/><line x1="393.2" y1="110.0" x2="423.2" y2="126.0" stroke="#d4d4d4" stroke-width="1.4"/><line x1="386.8" y1="122.0" x2="416.8" y2="138.0" stroke="#a8a8a8" stroke-width="0.8"/><line x1="390" y1="139" x2="420" y2="154" stroke="#202020" stroke-width="17"/><line x1="390" y1="139" x2="420" y2="154" stroke="#808080" stroke-width="15"/><line x1="393.0" y1="132.9" x2="423.0" y2="147.9" stroke="#d4d4d4" stroke-width="1.4"/><line x1="387.0" y1="145.1" x2="417.0" y2="160.1" stroke="#a8a8a8" stroke-width="0.8"/><line x1="390" y1="160" x2="420" y2="170" stroke="#202020" stroke-width="12"/><line x1="390" y1="160" x2="420" y2="170" stroke="#808080" stroke-width="10"/><line x1="391.4" y1="155.9" x2="421.4" y2="165.9" stroke="#d4d4d4" stroke-width="1.4"/><line x1="388.6" y1="164.1" x2="418.6" y2="174.1" stroke="#a8a8a8" stroke-width="0.8"/><line x1="390" y1="176" x2="420" y2="174" stroke="#202020" stroke-width="7"/><line x1="390" y1="176" x2="420" y2="174" stroke="#808080" stroke-width="5"/><line x1="389.9" y1="174.2" x2="419.9" y2="172.2" stroke="#d4d4d4" stroke-width="1.4"/><line x1="390.1" y1="177.8" x2="420.1" y2="175.8" stroke="#a8a8a8" stroke-width="0.8"/><line x1="390" y1="206" x2="420" y2="221" stroke="#202020" stroke-width="17"/><line x1="390" y1="206" x2="420" y2="221" stroke="#808080" stroke-width="15"/><line x1="393.0" y1="199.9" x2="423.0" y2="214.9" stroke="#d4d4d4" stroke-width="1.4"/><line x1="387.0" y1="212.1" x2="417.0" y2="227.1" stroke="#a8a8a8" stroke-width="0.8"/><line x1="390" y1="229" x2="420" y2="243" stroke="#202020" stroke-width="17"/><line x1="390" y1="229" x2="420" y2="243" stroke="#808080" stroke-width="15"/><line x1="392.9" y1="222.8" x2="422.9" y2="236.8" stroke="#d4d4d4" stroke-width="1.4"/><line x1="387.1" y1="235.2" x2="417.1" y2="249.2" stroke="#a8a8a8" stroke-width="0.8"/><line x1="390" y1="251" x2="420" y2="259" stroke="#202020" stroke-width="14"/><line x1="390" y1="251" x2="420" y2="259" stroke="#808080" stroke-width="12"/><line x1="391.4" y1="245.9" x2="421.4" y2="253.9" stroke="#d4d4d4" stroke-width="1.4"/><line x1="388.6" y1="256.1" x2="418.6" y2="264.1" stroke="#a8a8a8" stroke-width="0.8"/><line x1="430" y1="84" x2="450" y2="92" stroke="#202020" stroke-width="15"/><line x1="430" y1="84" x2="450" y2="92" stroke="#7c7c7c" stroke-width="13"/><line x1="432.2" y1="78.6" x2="452.2" y2="86.6" stroke="#d4d4d4" stroke-width="1.4"/><line x1="427.8" y1="89.4" x2="447.8" y2="97.4" stroke="#a8a8a8" stroke-width="0.8"/><line x1="430" y1="105" x2="450" y2="115" stroke="#202020" stroke-width="17"/><line x1="430" y1="105" x2="450" y2="115" stroke="#7c7c7c" stroke-width="15"/><line x1="433.0" y1="98.9" x2="453.0" y2="108.9" stroke="#d4d4d4" stroke-width="1.4"/><line x1="427.0" y1="111.1" x2="447.0" y2="121.1" stroke="#a8a8a8" stroke-width="0.8"/><line x1="430" y1="127" x2="450" y2="137" stroke="#202020" stroke-width="17"/><line x1="430" y1="127" x2="450" y2="137" stroke="#7c7c7c" stroke-width="15"/><line x1="433.0" y1="120.9" x2="453.0" y2="130.9" stroke="#d4d4d4" stroke-width="1.4"/><line x1="427.0" y1="133.1" x2="447.0" y2="143.1" stroke="#a8a8a8" stroke-width="0.8"/><line x1="430" y1="149" x2="450" y2="159" stroke="#202020" stroke-width="15"/><line x1="430" y1="149" x2="450" y2="159" stroke="#7c7c7c" stroke-width="13"/><line x1="432.6" y1="143.8" x2="452.6" y2="153.8" stroke="#d4d4d4" stroke-width="1.4"/><line x1="427.4" y1="154.2" x2="447.4" y2="164.2" stroke="#a8a8a8" stroke-width="0.8"/><line x1="430" y1="170" x2="450" y2="178" stroke="#202020" stroke-width="11"/><line x1="430" y1="170" x2="450" y2="178" stroke="#7c7c7c" stroke-width="9"/><line x1="431.4" y1="166.5" x2="451.4" y2="174.5" stroke="#d4d4d4" stroke-width="1.4"/><line x1="428.6" y1="173.5" x2="448.6" y2="181.5" stroke="#a8a8a8" stroke-width="0.8"/><line x1="430" y1="205" x2="450" y2="212" stroke="#202020" stroke-width="17"/><line x1="430" y1="205" x2="450" y2="212" stroke="#7c7c7c" stroke-width="15"/><line x1="432.2" y1="198.6" x2="452.2" y2="205.6" stroke="#d4d4d4" stroke-width="1.4"/><line x1="427.8" y1="211.4" x2="447.8" y2="218.4" stroke="#a8a8a8" stroke-width="0.8"/><line x1="430" y1="227" x2="450" y2="235" stroke="#202020" stroke-width="17"/><line x1="430" y1="227" x2="450" y2="235" stroke="#7c7c7c" stroke-width="15"/><line x1="432.5" y1="220.7" x2="452.5" y2="228.7" stroke="#d4d4d4" stroke-width="1.4"/><line x1="427.5" y1="233.3" x2="447.5" y2="241.3" stroke="#a8a8a8" stroke-width="0.8"/><line x1="430" y1="245" x2="450" y2="251" stroke="#202020" stroke-width="13"/><line x1="430" y1="245" x2="450" y2="251" stroke="#7c7c7c" stroke-width="11"/><line x1="431.4" y1="240.4" x2="451.4" y2="246.4" stroke="#d4d4d4" stroke-width="1.4"/><line x1="428.6" y1="249.6" x2="448.6" y2="255.6" stroke="#a8a8a8" stroke-width="0.8"/><path d="M427,70 Q426.5,160 425,255" fill="none" stroke="#1a1a1a" stroke-width="19.5" stroke-linecap="butt" stroke-linejoin="round"/><path d="M427,70 Q426.5,160 425,255" fill="none" stroke="#1a1a1a" stroke-width="17.5" stroke-linecap="butt" stroke-linejoin="round"/><path d="M427,70 Q426.5,160 425,255" fill="none" stroke="#dedede" stroke-width="18" stroke-linecap="butt" stroke-linejoin="round"/><path d="M427,70 Q426.5,160 425,255" fill="none" stroke="#a0a0a0" stroke-width="14.6" stroke-linecap="butt" stroke-linejoin="round"/><path d="M423,70 Q422.5,160 421,255" fill="none" stroke="#a0a0a0" stroke-width="3" stroke-linecap="butt" stroke-linejoin="round"/><path d="M423,70 Q422.5,160 421,255" fill="none" stroke="#a0a0a0" stroke-width="2.0" stroke-linecap="butt" stroke-linejoin="round"/></g></g>
<clipPath id="c1"><rect x="454.2" y="77.8" width="51" height="171.5"/></clipPath><filter id="fc1" x="-10%" y="-10%" width="120%" height="120%"><feGaussianBlur stdDeviation="0.7"/></filter><g clip-path="url(#c1)"><rect x="454.2" y="77.8" width="51" height="171.5" fill="#3c3c3c"/><g filter="url(#fc1)"><rect x="449.2" y="72.8" width="61" height="181.5" fill="#3c3c3c"/><line x1="454" y1="180" x2="480" y2="163" stroke="#2a2a2a" stroke-width="6"/><line x1="454" y1="180" x2="480" y2="163" stroke="#646464" stroke-width="4"/><line x1="453.3" y1="178.9" x2="479.3" y2="161.9" stroke="#b8b8b8" stroke-width="1.4"/><line x1="454.7" y1="181.1" x2="480.7" y2="164.1" stroke="#8a8a8a" stroke-width="0.8"/><line x1="454" y1="205" x2="480" y2="192" stroke="#2a2a2a" stroke-width="6"/><line x1="454" y1="205" x2="480" y2="192" stroke="#646464" stroke-width="4"/><line x1="453.4" y1="203.8" x2="479.4" y2="190.8" stroke="#b8b8b8" stroke-width="1.4"/><line x1="454.6" y1="206.2" x2="480.6" y2="193.2" stroke="#8a8a8a" stroke-width="0.8"/><line x1="454" y1="232" x2="480" y2="214" stroke="#2a2a2a" stroke-width="7"/><line x1="454" y1="232" x2="480" y2="214" stroke="#646464" stroke-width="5"/><line x1="453.0" y1="230.5" x2="479.0" y2="212.5" stroke="#b8b8b8" stroke-width="1.4"/><line x1="455.0" y1="233.5" x2="481.0" y2="215.5" stroke="#8a8a8a" stroke-width="0.8"/><line x1="462" y1="150" x2="478" y2="140" stroke="#2a2a2a" stroke-width="4.5"/><line x1="462" y1="150" x2="478" y2="140" stroke="#646464" stroke-width="2.5"/><line x1="461.7" y1="149.5" x2="477.7" y2="139.5" stroke="#b8b8b8" stroke-width="1.4"/><line x1="462.3" y1="150.5" x2="478.3" y2="140.5" stroke="#8a8a8a" stroke-width="0.8"/><line x1="490" y1="110" x2="506" y2="109" stroke="#2a2a2a" stroke-width="4.5"/><line x1="490" y1="110" x2="506" y2="109" stroke="#646464" stroke-width="2.5"/><line x1="490.0" y1="109.5" x2="506.0" y2="108.5" stroke="#b8b8b8" stroke-width="1.4"/><line x1="490.0" y1="110.5" x2="506.0" y2="109.5" stroke="#8a8a8a" stroke-width="0.8"/><line x1="490" y1="131" x2="506" y2="130" stroke="#2a2a2a" stroke-width="4.5"/><line x1="490" y1="131" x2="506" y2="130" stroke="#646464" stroke-width="2.5"/><line x1="490.0" y1="130.5" x2="506.0" y2="129.5" stroke="#b8b8b8" stroke-width="1.4"/><line x1="490.0" y1="131.5" x2="506.0" y2="130.5" stroke="#8a8a8a" stroke-width="0.8"/><line x1="490" y1="146" x2="506" y2="143" stroke="#2a2a2a" stroke-width="4.5"/><line x1="490" y1="146" x2="506" y2="143" stroke="#646464" stroke-width="2.5"/><line x1="489.9" y1="145.5" x2="505.9" y2="142.5" stroke="#b8b8b8" stroke-width="1.4"/><line x1="490.1" y1="146.5" x2="506.1" y2="143.5" stroke="#8a8a8a" stroke-width="0.8"/><line x1="490" y1="160" x2="506" y2="157" stroke="#2a2a2a" stroke-width="4.5"/><line x1="490" y1="160" x2="506" y2="157" stroke="#646464" stroke-width="2.5"/><line x1="489.9" y1="159.5" x2="505.9" y2="156.5" stroke="#b8b8b8" stroke-width="1.4"/><line x1="490.1" y1="160.5" x2="506.1" y2="157.5" stroke="#8a8a8a" stroke-width="0.8"/><line x1="488" y1="195" x2="506" y2="188" stroke="#2a2a2a" stroke-width="7"/><line x1="488" y1="195" x2="506" y2="188" stroke="#646464" stroke-width="5"/><line x1="487.3" y1="193.3" x2="505.3" y2="186.3" stroke="#b8b8b8" stroke-width="1.4"/><line x1="488.7" y1="196.7" x2="506.7" y2="189.7" stroke="#8a8a8a" stroke-width="0.8"/><line x1="488" y1="222" x2="506" y2="216" stroke="#2a2a2a" stroke-width="6"/><line x1="488" y1="222" x2="506" y2="216" stroke="#646464" stroke-width="4"/><line x1="487.6" y1="220.8" x2="505.6" y2="214.8" stroke="#b8b8b8" stroke-width="1.4"/><line x1="488.4" y1="223.2" x2="506.4" y2="217.2" stroke="#8a8a8a" stroke-width="0.8"/><line x1="486" y1="240" x2="506" y2="236" stroke="#2a2a2a" stroke-width="7"/><line x1="486" y1="240" x2="506" y2="236" stroke="#646464" stroke-width="5"/><line x1="485.6" y1="238.2" x2="505.6" y2="234.2" stroke="#b8b8b8" stroke-width="1.4"/><line x1="486.4" y1="241.8" x2="506.4" y2="237.8" stroke="#8a8a8a" stroke-width="0.8"/><line x1="462" y1="120" x2="476" y2="100" stroke="#2a2a2a" stroke-width="4"/><line x1="462" y1="120" x2="476" y2="100" stroke="#646464" stroke-width="2"/><line x1="461.8" y1="119.8" x2="475.8" y2="99.8" stroke="#b8b8b8" stroke-width="1.4"/><line x1="462.2" y1="120.2" x2="476.2" y2="100.2" stroke="#8a8a8a" stroke-width="0.8"/><line x1="462" y1="135" x2="478" y2="150" stroke="#2a2a2a" stroke-width="4"/><line x1="462" y1="135" x2="478" y2="150" stroke="#646464" stroke-width="2"/><line x1="462.2" y1="134.8" x2="478.2" y2="149.8" stroke="#b8b8b8" stroke-width="1.4"/><line x1="461.8" y1="135.2" x2="477.8" y2="150.2" stroke="#8a8a8a" stroke-width="0.8"/><path d="M500,70 Q502,105 505,150" fill="none" stroke="#a8a8a8" stroke-width="8" stroke-linecap="butt" stroke-linejoin="round"/><path d="M500,70 Q502,105 505,150" fill="none" stroke="#6e6e6e" stroke-width="6" stroke-linecap="butt" stroke-linejoin="round"/><path d="M464,70 Q458,160 447,255" fill="none" stroke="#1e1e1e" stroke-width="19" stroke-linecap="butt" stroke-linejoin="round"/><path d="M464,70 Q458,160 447,255" fill="none" stroke="#1e1e1e" stroke-width="17" stroke-linecap="butt" stroke-linejoin="round"/><path d="M464,70 Q458,160 447,255" fill="none" stroke="#d4d4d4" stroke-width="17" stroke-linecap="butt" stroke-linejoin="round"/><path d="M464,70 Q458,160 447,255" fill="none" stroke="#9a9a9a" stroke-width="14.0" stroke-linecap="butt" stroke-linejoin="round"/><path d="M485,70 Q486,129 485.5,170" fill="none" stroke="#1e1e1e" stroke-width="19" stroke-linecap="butt" stroke-linejoin="round"/><path d="M485,70 Q486,129 485.5,170" fill="none" stroke="#1e1e1e" stroke-width="17" stroke-linecap="butt" stroke-linejoin="round"/><path d="M485,70 Q486,129 485.5,170" fill="none" stroke="#d6d6d6" stroke-width="17" stroke-linecap="butt" stroke-linejoin="round"/><path d="M485,70 Q486,129 485.5,170" fill="none" stroke="#969696" stroke-width="13.8" stroke-linecap="butt" stroke-linejoin="round"/><path d="M485.5,129.5 Q484,190 474.5,255" fill="none" stroke="#1e1e1e" stroke-width="18" stroke-linecap="butt" stroke-linejoin="round"/><path d="M485.5,129.5 Q484,190 474.5,255" fill="none" stroke="#1e1e1e" stroke-width="16" stroke-linecap="butt" stroke-linejoin="round"/><path d="M485.5,129.5 Q484,190 474.5,255" fill="none" stroke="#d6d6d6" stroke-width="16" stroke-linecap="butt" stroke-linejoin="round"/><path d="M485.5,129.5 Q484,190 474.5,255" fill="none" stroke="#939393" stroke-width="12.8" stroke-linecap="butt" stroke-linejoin="round"/><line x1="477" y1="129.5" x2="493.5" y2="128.5" stroke="#dcdcdc" stroke-width="1.2"/><line x1="470" y1="213" x2="487" y2="213" stroke="#dcdcdc" stroke-width="1.2"/></g></g>
<clipPath id="c2"><rect x="511.4" y="77.8" width="50.8" height="171.5"/></clipPath><filter id="fc2" x="-10%" y="-10%" width="120%" height="120%"><feGaussianBlur stdDeviation="0.7"/></filter><g clip-path="url(#c2)"><rect x="511.4" y="77.8" width="50.8" height="171.5" fill="#5e5e5e"/><g filter="url(#fc2)"><rect x="506.4" y="72.8" width="60.8" height="181.5" fill="#5e5e5e"/><line x1="505" y1="90" x2="570" y2="180" stroke="#7c7c7c" stroke-width="1.2"/><line x1="505" y1="125" x2="565" y2="210" stroke="#7c7c7c" stroke-width="1.2"/><line x1="505" y1="150" x2="560" y2="240" stroke="#7c7c7c" stroke-width="1"/><line x1="520" y1="78" x2="565" y2="100" stroke="#7c7c7c" stroke-width="1"/><line x1="505" y1="105" x2="545" y2="175" stroke="#7c7c7c" stroke-width="1"/><line x1="540" y1="80" x2="570" y2="120" stroke="#7c7c7c" stroke-width="1"/><path d="M505,208 L570,166 L570,260 L505,260 Z" fill="#4a4a4a"/><path d="M505,184 L570,142 L570,166 L505,208 Z" fill="#858585"/><path d="M505,184 L570,142" stroke="#d4d4d4" stroke-width="1.8"/><path d="M505,207 L570,165" stroke="#c8c8c8" stroke-width="1.5"/><path d="M505,240 L570,200" stroke="#8a8a8a" stroke-width="4"/><path d="M505,238 L570,198" stroke="#b8b8b8" stroke-width="1"/><path d="M530,166 L565,132" stroke="#b0b0b0" stroke-width="1.5"/><path d="M527.5,70 L548.5,70 L547,119 Q546,123 540,123 L535.5,123 Q532,123 531.8,119 Z" fill="#dadada"/><path d="M529.2,70 L546.8,70 L545.4,118 Q544.5,121 540,121 L535.8,121 Q533.5,121 533.3,118 Z" fill="#9a9a9a"/><path d="M539,122 L545,122 L542.6,160 L541.8,200 L546,210 L535.5,210 L539.6,200 L540.2,160 Z" fill="#c4c4c4"/><path d="M540.4,122 L543.6,122 L541.8,160 L541.1,200 L543,208 L538.6,208 L540.3,200 L541,160 Z" fill="#939393"/><path d="M530.5,213 Q540,209.5 550,213 L551,255 L529.5,255 Z" fill="#dadada"/><path d="M532.2,215 Q540,212 548.3,215 L549.2,255 L531.2,255 Z" fill="#9a9a9a"/></g></g>
<clipPath id="c3"><rect x="568.2" y="77.8" width="50.6" height="171.5"/></clipPath><filter id="fc3" x="-10%" y="-10%" width="120%" height="120%"><feGaussianBlur stdDeviation="0.7"/></filter><g clip-path="url(#c3)"><rect x="568.2" y="77.8" width="50.6" height="171.5" fill="#222222"/><g filter="url(#fc3)"><rect x="563.2" y="72.8" width="60.6" height="181.5" fill="#222222"/><linearGradient id="g3" x1="0" y1="0" x2="0" y2="1"><stop offset="0" stop-color="#7a7a7a"/><stop offset="0.35" stop-color="#5a5a5a"/><stop offset="1" stop-color="#383838"/></linearGradient><path d="M560,147 L625,136 L625,255 L560,255 Z" fill="url(#g3)"/><line x1="560" y1="211" x2="592" y2="218" stroke="#b0b0b0" stroke-width="1"/><line x1="560" y1="224" x2="592" y2="232" stroke="#b0b0b0" stroke-width="1"/><line x1="560" y1="238" x2="590" y2="236" stroke="#b0b0b0" stroke-width="1"/><line x1="600" y1="176" x2="625" y2="192" stroke="#b0b0b0" stroke-width="1"/><line x1="603" y1="228" x2="625" y2="240" stroke="#b0b0b0" stroke-width="1"/><line x1="560" y1="143" x2="594" y2="165" stroke="#b0b0b0" stroke-width="1.3"/><path d="M560,99 L625,124 L625,140 L560,113 Z" fill="#7c7c7c"/><path d="M560,92 L625,112 L625,120 L560,100 Z" fill="#5a5a5a"/><path d="M560,113 L625,139.5" stroke="#f2f2f2" stroke-width="2"/><path d="M560,99.5 L625,124.5" stroke="#b8b8b8" stroke-width="1"/><path d="M601.8,76 C601,90 597,100 596.4,108.6 C595.5,125 596,150 594,163" fill="none" stroke="#c0c0c0" stroke-width="1.4"/><path d="M593.7,163 C598,170 607,176 606.8,186 C606.5,198 601.5,207 601.2,218 L601,255 L587,255 L587.2,218 C586.8,207 582,198 582.2,186 C582.5,176 589.5,170 593.7,163 Z" fill="#d8d8d8"/><path d="M593.7,166 C597.5,172 605.3,177 605.2,186 C605,197 600,207 599.8,218 L599.6,255 L588.4,255 L588.6,218 C588.4,207 583.6,197 583.6,186 C583.8,177 590,172 593.7,166 Z" fill="#929292"/></g></g>
<clipPath id="ca"><rect x="397.8" y="299" width="220.6" height="95"/></clipPath><filter id="fca" x="-10%" y="-10%" width="120%" height="120%"><feGaussianBlur stdDeviation="0.6"/></filter><g clip-path="url(#ca)"><rect x="397.8" y="299" width="220.6" height="95" fill="#3c3c3c"/><g filter="url(#fca)"><rect x="392.8" y="294" width="230.6" height="105" fill="#3c3c3c"/><linearGradient id="agr" x1="0" y1="0" x2="0" y2="1"><stop offset="0" stop-color="#c8c8c8"/><stop offset="0.2" stop-color="#959595"/><stop offset="0.6" stop-color="#5e5e5e"/><stop offset="1" stop-color="#262626"/></linearGradient><linearGradient id="agr2" x1="0" y1="0" x2="0" y2="1"><stop offset="0" stop-color="#d8d8d8"/><stop offset="0.25" stop-color="#a8a8a8"/><stop offset="0.7" stop-color="#6a6a6a"/><stop offset="1" stop-color="#303030"/></linearGradient><linearGradient id="agr3" x1="0" y1="0" x2="0" y2="1"><stop offset="0" stop-color="#a8a8a8"/><stop offset="0.3" stop-color="#7a7a7a"/><stop offset="0.7" stop-color="#4a4a4a"/><stop offset="1" stop-color="#202020"/></linearGradient><path d="M392,293.0 C468.6,295.3 545.1,289.5 624,291.5 L624,301.9 C545.1,299.9 468.6,305.7 392,303.4 Z" fill="url(#agr)"/><path d="M392,293.0 C468.6,295.3 545.1,289.5 624,291.5" fill="none" stroke="#e0e0e0" stroke-width="1.1"/><path d="M392,301.5 C468.6,298.5 545.1,300.4 624,300.4 L624,307.8 C545.1,307.8 468.6,305.9 392,308.9 Z" fill="url(#agr)"/><path d="M392,301.5 C468.6,298.5 545.1,300.4 624,300.4" fill="none" stroke="#e0e0e0" stroke-width="1.3"/><path d="M392,308.3 C468.6,303.4 545.1,302.6 624,302.4 L624,308.8 C545.1,309.0 468.6,309.8 392,314.6 Z" fill="url(#agr3)"/><path d="M392,308.3 C468.6,303.4 545.1,302.6 624,302.4" fill="none" stroke="#e0e0e0" stroke-width="1.0"/><path d="M392,313.6 C468.6,308.8 545.1,308.5 624,307.3 L624,318.8 C545.1,320.0 468.6,320.3 392,325.2 Z" fill="url(#agr3)"/><path d="M392,313.6 C468.6,308.8 545.1,308.5 624,307.3" fill="none" stroke="#e0e0e0" stroke-width="1.3"/><path d="M392,323.2 C468.6,318.4 545.1,317.2 624,315.8 L624,324.7 C545.1,326.1 468.6,327.3 392,332.2 Z" fill="url(#agr)"/><path d="M392,323.2 C468.6,318.4 545.1,317.2 624,315.8" fill="none" stroke="#e0e0e0" stroke-width="1.2"/><path d="M392,331.5 C468.6,327.7 545.1,326.7 624,328.4 L624,334.0 C545.1,332.3 468.6,333.3 392,337.1 Z" fill="url(#agr)"/><path d="M392,331.5 C468.6,327.7 545.1,326.7 624,328.4" fill="none" stroke="#e0e0e0" stroke-width="1.5"/><path d="M392,336.4 C468.6,334.4 545.1,332.4 624,332.4 L624,339.0 C545.1,339.0 468.6,341.0 392,343.0 Z" fill="url(#agr)"/><path d="M392,336.4 C468.6,334.4 545.1,332.4 624,332.4" fill="none" stroke="#e0e0e0" stroke-width="1.3"/><path d="M392,341.8 C468.6,341.2 545.1,343.9 624,340.8 L624,349.0 C545.1,352.1 468.6,349.4 392,350.0 Z" fill="url(#agr3)"/><path d="M392,341.8 C468.6,341.2 545.1,343.9 624,340.8" fill="none" stroke="#e0e0e0" stroke-width="0.9"/><path d="M392,348.5 C468.6,349.4 545.1,345.9 624,343.8 L624,352.6 C545.1,354.6 468.6,358.2 392,357.2 Z" fill="url(#agr2)"/><path d="M392,348.5 C468.6,349.4 545.1,345.9 624,343.8" fill="none" stroke="#e0e0e0" stroke-width="1.4"/><path d="M392,356.3 C468.6,352.8 545.1,357.4 624,353.4 L624,362.2 C545.1,366.2 468.6,361.6 392,365.1 Z" fill="url(#agr)"/><path d="M392,356.3 C468.6,352.8 545.1,357.4 624,353.4" fill="none" stroke="#e0e0e0" stroke-width="1.5"/><path d="M392,363.2 C468.6,361.0 545.1,362.3 624,359.0 L624,365.1 C545.1,368.5 468.6,367.1 392,369.3 Z" fill="url(#agr3)"/><path d="M392,363.2 C468.6,361.0 545.1,362.3 624,359.0" fill="none" stroke="#e0e0e0" stroke-width="0.9"/><path d="M392,368.1 C468.6,365.7 545.1,363.5 624,362.4 L624,369.1 C545.1,370.2 468.6,372.4 392,374.8 Z" fill="url(#agr2)"/><path d="M392,368.1 C468.6,365.7 545.1,363.5 624,362.4" fill="none" stroke="#e0e0e0" stroke-width="1.0"/><path d="M392,373.8 C468.6,373.5 545.1,372.2 624,370.0 L624,377.1 C545.1,379.4 468.6,380.7 392,381.0 Z" fill="url(#agr)"/><path d="M392,373.8 C468.6,373.5 545.1,372.2 624,370.0" fill="none" stroke="#e0e0e0" stroke-width="1.5"/><path d="M392,379.9 C468.6,381.5 545.1,376.1 624,377.6 L624,384.0 C545.1,382.5 468.6,387.9 392,386.3 Z" fill="url(#agr3)"/><path d="M392,379.9 C468.6,381.5 545.1,376.1 624,377.6" fill="none" stroke="#e0e0e0" stroke-width="1.3"/><path d="M392,384.8 C468.6,384.7 545.1,383.2 624,381.2 L624,388.4 C545.1,390.4 468.6,391.9 392,392.1 Z" fill="url(#agr3)"/><path d="M392,384.8 C468.6,384.7 545.1,383.2 624,381.2" fill="none" stroke="#e0e0e0" stroke-width="1.3"/><path d="M392,391.2 C468.6,392.0 545.1,387.4 624,387.2 L624,393.6 C545.1,393.7 468.6,398.3 392,397.6 Z" fill="url(#agr)"/><path d="M392,391.2 C468.6,392.0 545.1,387.4 624,387.2" fill="none" stroke="#e0e0e0" stroke-width="1.0"/><path d="M392,396.4 C468.6,397.7 545.1,397.1 624,394.4 L624,400.8 C545.1,403.5 468.6,404.1 392,402.8 Z" fill="url(#agr3)"/><path d="M392,396.4 C468.6,397.7 545.1,397.1 624,394.4" fill="none" stroke="#e0e0e0" stroke-width="1.1"/><path d="M398,312 Q440,300 470,302 T560,300" fill="none" stroke="#d8d8d8" stroke-width="1.3"/><path d="M398,305 Q420,315 460,308" fill="none" stroke="#d0d0d0" stroke-width="1.1"/><path d="M560,315 Q585,305 618,310" fill="none" stroke="#d0d0d0" stroke-width="1.1"/><path d="M400,336 Q470,325 520,330" fill="none" stroke="#d8d8d8" stroke-width="1.2"/></g></g>
<path d="M868.6,322.5 A54.6,16.5 0 0 1 977.8000000000001,322.5 L977.8000000000001,372 A54.6,26 0 0 1 868.6,372 Z" fill="#d9d9d9"/>
<ellipse cx="923.2" cy="323.5" rx="52.6" ry="15.5" fill="#e6e6e6"/>
<path d="M869.1,348 L869.1,372 A54.1,26 0 0 0 977.3000000000001,372 L977.3000000000001,348 Z" fill="#a8c0ca"/>
<path d="M869.1,366 A54.1,26 0 0 0 977.3000000000001,366 L977.3000000000001,372 A54.1,26 0 0 1 869.1,372 Z" fill="#9fb6c0"/>
<path d="M869.1,372 A54.1,26 0 0 0 977.3000000000001,372" fill="none" stroke="#c5cfd4" stroke-width="1.2"/>
<ellipse cx="923.2" cy="348" rx="54.1" ry="25" fill="#b7d4e0"/>
<ellipse cx="923.2" cy="352" rx="50.6" ry="22" fill="none" stroke="#a9c5d1" stroke-width="0.8"/>
<clipPath id="disct"><ellipse cx="919.6" cy="293.3" rx="45.2" ry="30.6"/></clipPath>
<g clip-path="url(#disct)"><filter id="tfdisc" color-interpolation-filters="sRGB" x="874" y="262" width="91" height="63" filterUnits="userSpaceOnUse"><feTurbulence type="fractalNoise" baseFrequency="0.35" numOctaves="3" seed="5"/><feColorMatrix type="matrix" values="0.8 0 0 0 0.212  0.8 0 0 0 0.212  0.8 0 0 0 0.212  0 0 0 0 1"/></filter><rect x="874" y="262" width="91" height="63" filter="url(#tfdisc)"/></g>
<clipPath id="discclip"><ellipse cx="919.6" cy="293.3" rx="45.2" ry="30.6"/></clipPath><g clip-path="url(#discclip)" fill="none"><path d="M911.0,269.8 Q910.0,275.4 910.8,282.5" stroke="#c8c8c8" stroke-width="0.34"/><path d="M952.5,271.9 Q960.5,280.3 962.9,284.8" stroke="#c8c8c8" stroke-width="0.42"/><path d="M960.5,275.4 Q956.8,280.1 953.6,281.0" stroke="#ececec" stroke-width="0.46"/><path d="M882.3,276.1 Q870.0,270.6 867.1,273.2" stroke="#dcdcdc" stroke-width="0.33"/><path d="M907.8,319.9 Q912.8,320.8 920.2,317.0" stroke="#b8b8b8" stroke-width="0.44"/><path d="M964.6,305.1 Q966.9,304.2 961.0,297.3" stroke="#dcdcdc" stroke-width="0.54"/><path d="M943.1,275.9 Q933.4,281.6 929.1,281.5" stroke="#c8c8c8" stroke-width="0.48"/><path d="M880.9,310.8 Q878.2,321.8 879.5,323.3" stroke="#b8b8b8" stroke-width="0.50"/><path d="M898.3,303.7 Q904.2,299.7 911.2,298.6" stroke="#dcdcdc" stroke-width="0.46"/><path d="M889.2,313.7 Q879.6,317.9 878.5,314.5" stroke="#b8b8b8" stroke-width="0.41"/><path d="M905.9,293.3 Q896.7,293.2 894.8,302.6" stroke="#dcdcdc" stroke-width="0.54"/><path d="M899.8,284.2 Q899.5,281.6 899.3,273.1" stroke="#dcdcdc" stroke-width="0.34"/><path d="M961.7,318.1 Q955.7,323.0 957.1,326.5" stroke="#dcdcdc" stroke-width="0.46"/><path d="M928.2,313.4 Q938.3,315.0 939.2,315.9" stroke="#dcdcdc" stroke-width="0.53"/><path d="M902.3,288.2 Q897.4,290.1 892.4,297.9" stroke="#c8c8c8" stroke-width="0.36"/><path d="M898.9,292.5 Q904.1,302.7 915.1,306.9" stroke="#dcdcdc" stroke-width="0.55"/><path d="M920.1,304.9 Q927.3,303.1 929.2,309.3" stroke="#b8b8b8" stroke-width="0.50"/><path d="M917.0,317.3 Q913.2,324.0 916.4,330.9" stroke="#dcdcdc" stroke-width="0.51"/><path d="M937.5,275.0 Q929.2,268.5 926.3,266.7" stroke="#dcdcdc" stroke-width="0.33"/><path d="M898.2,319.1 Q890.5,322.2 880.7,318.1" stroke="#ececec" stroke-width="0.45"/><path d="M879.0,316.1 Q875.6,320.5 879.5,324.7" stroke="#b8b8b8" stroke-width="0.33"/><path d="M875.3,275.5 Q867.9,287.5 864.8,290.9" stroke="#dcdcdc" stroke-width="0.53"/><path d="M963.4,266.9 Q955.2,271.2 951.8,270.7" stroke="#dcdcdc" stroke-width="0.33"/><path d="M920.2,321.9 Q906.6,324.5 900.9,328.1" stroke="#b8b8b8" stroke-width="0.50"/><path d="M891.2,279.8 Q903.2,276.6 912.9,281.4" stroke="#dcdcdc" stroke-width="0.41"/><path d="M958.1,276.4 Q954.9,282.2 960.9,296.2" stroke="#dcdcdc" stroke-width="0.49"/><path d="M961.6,294.6 Q963.6,287.2 959.2,287.4" stroke="#dcdcdc" stroke-width="0.42"/><path d="M941.9,313.9 Q936.0,316.2 938.4,320.5" stroke="#ececec" stroke-width="0.31"/><path d="M898.2,301.7 Q912.4,295.8 919.3,297.5" stroke="#b8b8b8" stroke-width="0.54"/><path d="M896.4,292.6 Q889.8,284.6 893.1,283.8" stroke="#dcdcdc" stroke-width="0.54"/><path d="M881.4,273.4 Q887.5,276.7 885.2,288.1" stroke="#ececec" stroke-width="0.52"/><path d="M925.2,299.9 Q924.0,300.8 920.5,296.2" stroke="#dcdcdc" stroke-width="0.33"/><path d="M894.5,302.7 Q894.9,307.9 900.2,307.2" stroke="#b8b8b8" stroke-width="0.39"/><path d="M961.5,298.3 Q960.6,295.0 952.5,294.3" stroke="#b8b8b8" stroke-width="0.42"/><path d="M908.8,299.6 Q918.3,302.5 920.9,303.7" stroke="#dcdcdc" stroke-width="0.48"/><path d="M876.2,293.8 Q875.0,290.2 867.3,287.3" stroke="#dcdcdc" stroke-width="0.37"/><path d="M897.5,293.9 Q901.4,301.1 900.0,308.2" stroke="#ececec" stroke-width="0.38"/><path d="M886.7,281.1 Q879.0,288.1 875.1,293.3" stroke="#dcdcdc" stroke-width="0.31"/><path d="M954.3,281.1 Q951.6,287.7 953.0,296.9" stroke="#c8c8c8" stroke-width="0.50"/><path d="M935.9,298.5 Q934.3,297.6 937.5,306.0" stroke="#b8b8b8" stroke-width="0.53"/><path d="M924.5,318.9 Q915.6,317.8 911.1,317.4" stroke="#b8b8b8" stroke-width="0.40"/><path d="M903.5,321.5 Q907.6,320.5 910.8,322.4" stroke="#c8c8c8" stroke-width="0.49"/><path d="M882.3,264.6 Q876.8,259.7 868.2,254.7" stroke="#dcdcdc" stroke-width="0.40"/><path d="M921.5,263.8 Q920.9,263.1 916.8,270.7" stroke="#c8c8c8" stroke-width="0.35"/><path d="M950.3,323.9 Q965.1,319.1 970.4,319.0" stroke="#b8b8b8" stroke-width="0.39"/><path d="M887.4,315.7 Q891.7,316.7 904.7,316.5" stroke="#b8b8b8" stroke-width="0.52"/><path d="M883.9,297.9 Q878.2,301.5 879.5,305.7" stroke="#dcdcdc" stroke-width="0.52"/><path d="M951.2,275.9 Q957.4,279.3 957.8,281.0" stroke="#b8b8b8" stroke-width="0.53"/><path d="M918.9,267.7 Q927.7,275.7 926.9,283.0" stroke="#c8c8c8" stroke-width="0.42"/><path d="M903.9,303.2 Q893.3,304.6 887.1,307.5" stroke="#c8c8c8" stroke-width="0.34"/><path d="M901.2,284.9 Q901.5,274.5 902.1,272.9" stroke="#ececec" stroke-width="0.33"/><path d="M883.0,271.8 Q883.3,286.2 873.5,291.6" stroke="#b8b8b8" stroke-width="0.42"/><path d="M934.5,294.6 Q929.3,288.5 931.5,286.2" stroke="#dcdcdc" stroke-width="0.44"/><path d="M920.6,306.1 Q916.0,306.0 910.3,315.4" stroke="#ececec" stroke-width="0.40"/><path d="M897.6,293.8 Q895.0,293.9 892.7,299.1" stroke="#b8b8b8" stroke-width="0.50"/><path d="M933.3,299.7 Q935.6,309.0 931.3,317.5" stroke="#c8c8c8" stroke-width="0.36"/><path d="M911.5,284.8 Q915.9,282.2 916.7,279.7" stroke="#b8b8b8" stroke-width="0.32"/><path d="M906.7,304.7 Q897.1,302.1 892.2,304.9" stroke="#dcdcdc" stroke-width="0.39"/><path d="M959.1,317.9 Q957.5,324.6 955.6,339.1" stroke="#ececec" stroke-width="0.37"/><path d="M923.3,270.2 Q928.1,280.4 923.9,283.6" stroke="#dcdcdc" stroke-width="0.48"/><path d="M928.7,277.7 Q922.9,274.6 922.8,261.9" stroke="#ececec" stroke-width="0.45"/><path d="M922.0,315.8 Q912.4,327.6 912.6,333.8" stroke="#dcdcdc" stroke-width="0.42"/><path d="M891.4,306.8 Q893.6,307.4 905.4,306.5" stroke="#c8c8c8" stroke-width="0.32"/><path d="M925.1,307.9 Q930.1,306.9 925.7,299.4" stroke="#c8c8c8" stroke-width="0.54"/><path d="M939.2,296.2 Q943.8,288.9 945.8,278.2" stroke="#c8c8c8" stroke-width="0.52"/><path d="M880.6,292.2 Q883.2,301.0 886.2,309.2" stroke="#dcdcdc" stroke-width="0.32"/><path d="M904.0,267.4 Q896.2,279.2 890.6,283.9" stroke="#c8c8c8" stroke-width="0.46"/><path d="M914.2,290.9 Q912.6,301.1 910.5,311.9" stroke="#c8c8c8" stroke-width="0.35"/><path d="M922.3,267.9 Q927.4,273.7 934.3,271.3" stroke="#dcdcdc" stroke-width="0.54"/><path d="M924.1,315.0 Q929.2,321.6 935.0,323.9" stroke="#ececec" stroke-width="0.40"/><path d="M921.5,279.9 Q921.7,290.3 929.2,299.7" stroke="#ececec" stroke-width="0.35"/><path d="M905.8,283.9 Q914.2,296.9 913.8,301.4" stroke="#c8c8c8" stroke-width="0.38"/><path d="M922.6,279.9 Q917.6,282.2 908.4,288.7" stroke="#b8b8b8" stroke-width="0.45"/><path d="M906.4,300.4 Q894.8,305.3 887.4,310.6" stroke="#ececec" stroke-width="0.35"/><path d="M891.0,303.2 Q893.1,297.5 900.6,297.0" stroke="#c8c8c8" stroke-width="0.42"/><path d="M937.7,308.4 Q941.3,312.8 953.4,317.5" stroke="#b8b8b8" stroke-width="0.48"/><path d="M951.1,291.8 Q954.6,297.8 966.7,305.8" stroke="#dcdcdc" stroke-width="0.52"/><path d="M908.1,285.5 Q905.1,288.9 907.9,299.7" stroke="#c8c8c8" stroke-width="0.54"/><path d="M961.4,316.2 Q962.2,303.5 972.5,298.2" stroke="#ececec" stroke-width="0.52"/><path d="M930.1,300.6 Q920.7,304.1 918.5,306.5" stroke="#ececec" stroke-width="0.35"/><path d="M899.8,288.9 Q903.9,282.8 901.5,273.7" stroke="#dcdcdc" stroke-width="0.51"/><path d="M893.3,302.3 Q885.7,308.8 886.5,315.6" stroke="#c8c8c8" stroke-width="0.39"/><path d="M920.7,274.6 Q917.8,278.0 922.1,281.2" stroke="#b8b8b8" stroke-width="0.39"/><path d="M920.9,282.3 Q913.2,273.8 914.7,261.5" stroke="#dcdcdc" stroke-width="0.40"/><path d="M938.5,316.3 Q944.4,316.7 944.8,313.8" stroke="#b8b8b8" stroke-width="0.53"/><path d="M879.3,303.5 Q887.7,313.9 889.0,314.5" stroke="#dcdcdc" stroke-width="0.40"/><path d="M949.7,276.3 Q958.5,282.7 966.0,290.3" stroke="#c8c8c8" stroke-width="0.30"/><path d="M961.0,292.6 Q973.9,294.9 980.1,297.8" stroke="#c8c8c8" stroke-width="0.33"/><path d="M946.1,298.6 Q952.1,299.3 959.1,302.1" stroke="#b8b8b8" stroke-width="0.45"/><path d="M938.7,320.9 Q935.5,319.9 934.4,311.1" stroke="#c8c8c8" stroke-width="0.37"/><path d="M956.5,322.0 Q954.1,332.8 945.3,340.0" stroke="#b8b8b8" stroke-width="0.53"/><path d="M900.8,289.2 Q890.9,287.2 886.7,275.8" stroke="#c8c8c8" stroke-width="0.42"/><path d="M883.2,314.2 Q883.2,308.1 888.7,309.2" stroke="#b8b8b8" stroke-width="0.50"/><path d="M876.7,284.7 Q882.7,287.3 890.3,296.1" stroke="#c8c8c8" stroke-width="0.47"/><path d="M884.5,305.1 Q885.6,293.2 885.9,284.3" stroke="#dcdcdc" stroke-width="0.45"/><path d="M922.0,308.9 Q913.8,303.5 908.3,298.7" stroke="#c8c8c8" stroke-width="0.42"/><path d="M952.0,274.1 Q948.6,273.1 940.7,273.1" stroke="#ececec" stroke-width="0.51"/><path d="M919.4,263.5 Q923.2,258.9 928.3,254.9" stroke="#b8b8b8" stroke-width="0.49"/><path d="M893.7,284.0 Q888.1,297.3 889.2,302.1" stroke="#dcdcdc" stroke-width="0.35"/><path d="M888.2,314.8 Q892.8,316.8 902.0,318.5" stroke="#c8c8c8" stroke-width="0.47"/><path d="M891.4,323.8 Q891.3,319.0 899.0,310.9" stroke="#dcdcdc" stroke-width="0.46"/><path d="M882.4,296.3 Q883.4,294.9 882.1,285.3" stroke="#c8c8c8" stroke-width="0.40"/><path d="M882.1,308.2 Q873.3,312.2 873.8,306.6" stroke="#dcdcdc" stroke-width="0.49"/><path d="M899.5,300.6 Q893.9,303.2 887.7,302.5" stroke="#c8c8c8" stroke-width="0.42"/><path d="M946.8,263.4 Q946.6,258.8 943.7,246.0" stroke="#dcdcdc" stroke-width="0.50"/><path d="M886.1,267.2 Q891.0,267.8 902.1,273.2" stroke="#dcdcdc" stroke-width="0.35"/><path d="M902.8,293.6 Q895.1,297.8 895.2,296.4" stroke="#dcdcdc" stroke-width="0.34"/><path d="M957.3,317.5 Q946.6,314.4 942.5,314.9" stroke="#c8c8c8" stroke-width="0.48"/><path d="M904.6,264.2 Q906.5,265.4 899.8,269.4" stroke="#ececec" stroke-width="0.51"/><path d="M920.3,301.4 Q917.7,299.0 917.0,292.1" stroke="#ececec" stroke-width="0.34"/><path d="M901.6,308.7 Q899.9,308.6 897.4,304.1" stroke="#ececec" stroke-width="0.30"/><path d="M920.9,296.9 Q926.6,300.7 939.3,296.3" stroke="#ececec" stroke-width="0.42"/><path d="M889.0,291.2 Q883.9,288.0 888.7,275.3" stroke="#ececec" stroke-width="0.44"/><path d="M875.2,319.8 Q881.5,325.0 887.4,330.2" stroke="#ececec" stroke-width="0.43"/><path d="M924.6,290.0 Q916.6,287.7 915.9,290.1" stroke="#dcdcdc" stroke-width="0.52"/><path d="M954.1,267.0 Q957.2,278.6 954.3,286.4" stroke="#b8b8b8" stroke-width="0.40"/><path d="M959.8,318.9 Q951.7,328.7 950.3,338.0" stroke="#b8b8b8" stroke-width="0.45"/><path d="M921.2,295.7 Q907.2,294.3 900.0,296.3" stroke="#ececec" stroke-width="0.47"/><path d="M920.5,297.8 Q928.3,302.9 937.2,298.5" stroke="#c8c8c8" stroke-width="0.39"/><path d="M879.9,280.2 Q881.8,286.5 887.7,290.9" stroke="#b8b8b8" stroke-width="0.52"/><path d="M897.6,319.7 Q896.5,322.0 886.3,323.4" stroke="#dcdcdc" stroke-width="0.33"/><path d="M874.8,278.9 Q874.1,280.0 878.3,272.0" stroke="#c8c8c8" stroke-width="0.49"/><path d="M938.7,313.8 Q932.6,299.5 935.7,293.6" stroke="#c8c8c8" stroke-width="0.47"/><path d="M905.1,270.5 Q905.4,261.3 904.4,259.3" stroke="#c8c8c8" stroke-width="0.53"/><path d="M881.6,296.8 Q877.3,295.9 877.7,290.0" stroke="#ececec" stroke-width="0.49"/><path d="M946.2,282.0 Q954.7,280.5 960.9,281.3" stroke="#ececec" stroke-width="0.37"/><path d="M964.7,302.9 Q978.3,303.8 984.1,299.5" stroke="#dcdcdc" stroke-width="0.35"/><path d="M963.9,306.9 Q964.1,302.2 972.2,295.5" stroke="#ececec" stroke-width="0.47"/><path d="M880.1,292.0 Q875.0,288.3 872.0,285.5" stroke="#b8b8b8" stroke-width="0.37"/><path d="M899.2,274.0 Q905.7,267.1 903.8,267.7" stroke="#ececec" stroke-width="0.30"/><path d="M951.3,295.5 Q949.9,304.3 948.6,306.3" stroke="#c8c8c8" stroke-width="0.43"/><path d="M875.8,278.2 Q869.5,268.3 870.1,265.9" stroke="#ececec" stroke-width="0.53"/><path d="M886.8,305.5 Q895.4,300.1 902.2,292.7" stroke="#b8b8b8" stroke-width="0.51"/><path d="M933.2,281.1 Q937.0,290.3 949.9,290.4" stroke="#c8c8c8" stroke-width="0.33"/><path d="M947.7,305.7 Q943.8,311.8 934.0,312.8" stroke="#ececec" stroke-width="0.47"/><path d="M895.3,291.9 Q899.9,290.4 901.8,285.1" stroke="#c8c8c8" stroke-width="0.32"/><path d="M954.5,310.4 Q948.4,309.1 942.5,302.7" stroke="#ececec" stroke-width="0.37"/><path d="M921.1,275.8 Q921.8,277.6 915.0,275.0" stroke="#c8c8c8" stroke-width="0.43"/><path d="M938.0,306.1 Q945.5,303.7 943.8,302.2" stroke="#dcdcdc" stroke-width="0.43"/><path d="M945.3,304.3 Q943.2,306.8 944.8,312.2" stroke="#b8b8b8" stroke-width="0.54"/><path d="M916.3,277.7 Q911.0,274.7 905.6,275.3" stroke="#ececec" stroke-width="0.54"/><path d="M908.3,316.4 Q900.8,328.0 900.3,333.5" stroke="#b8b8b8" stroke-width="0.41"/><path d="M907.1,309.3 Q902.3,311.9 897.4,317.3" stroke="#ececec" stroke-width="0.34"/><path d="M879.5,282.1 Q874.2,275.3 869.0,264.3" stroke="#b8b8b8" stroke-width="0.36"/><path d="M903.2,263.1 Q902.8,260.8 908.3,254.1" stroke="#ececec" stroke-width="0.52"/><path d="M897.0,287.5 Q894.5,282.8 901.6,283.6" stroke="#dcdcdc" stroke-width="0.37"/><path d="M912.7,322.7 Q905.0,325.2 905.7,318.2" stroke="#c8c8c8" stroke-width="0.34"/><path d="M896.2,265.1 Q899.6,265.5 909.1,272.3" stroke="#dcdcdc" stroke-width="0.37"/><path d="M962.2,272.5 Q962.2,271.2 956.1,278.1" stroke="#dcdcdc" stroke-width="0.44"/><path d="M946.6,283.3 Q951.5,285.3 952.0,287.2" stroke="#c8c8c8" stroke-width="0.39"/><path d="M936.7,311.8 Q939.4,320.2 949.7,323.2" stroke="#b8b8b8" stroke-width="0.48"/><path d="M888.7,295.7 Q896.6,297.0 909.3,298.8" stroke="#ececec" stroke-width="0.47"/><path d="M875.2,314.0 Q868.9,323.3 862.1,329.6" stroke="#b8b8b8" stroke-width="0.49"/><path d="M918.7,264.7 Q910.7,267.5 906.0,272.3" stroke="#c8c8c8" stroke-width="0.51"/><path d="M946.5,275.9 Q948.0,280.1 949.2,292.5" stroke="#c8c8c8" stroke-width="0.49"/><path d="M945.0,286.4 Q950.3,286.9 953.4,284.3" stroke="#ececec" stroke-width="0.51"/><path d="M877.1,273.9 Q870.3,283.6 870.6,292.3" stroke="#c8c8c8" stroke-width="0.50"/><path d="M887.5,297.7 Q888.8,298.8 894.9,294.3" stroke="#ececec" stroke-width="0.53"/><path d="M964.8,281.3 Q968.8,275.5 976.9,278.6" stroke="#ececec" stroke-width="0.43"/><path d="M881.1,288.3 Q882.5,282.3 892.3,276.0" stroke="#dcdcdc" stroke-width="0.46"/><path d="M942.7,296.1 Q941.9,293.0 947.6,282.5" stroke="#c8c8c8" stroke-width="0.48"/><path d="M959.1,296.9 Q951.1,296.6 940.0,306.3" stroke="#b8b8b8" stroke-width="0.32"/><path d="M884.9,319.8 Q890.1,317.8 893.8,319.3" stroke="#c8c8c8" stroke-width="0.31"/><path d="M884.4,304.1 Q889.4,306.3 894.8,310.9" stroke="#dcdcdc" stroke-width="0.45"/><path d="M881.5,298.8 Q887.7,297.4 896.1,301.3" stroke="#ececec" stroke-width="0.53"/><path d="M897.2,264.2 Q893.4,258.2 893.5,251.2" stroke="#dcdcdc" stroke-width="0.44"/><path d="M882.5,288.4 Q873.8,297.4 865.0,301.3" stroke="#b8b8b8" stroke-width="0.48"/><path d="M908.9,306.3 Q900.6,300.1 902.0,300.1" stroke="#c8c8c8" stroke-width="0.38"/><path d="M958.4,270.0 Q964.3,266.9 978.2,266.9" stroke="#dcdcdc" stroke-width="0.54"/><path d="M914.9,315.1 Q917.0,314.6 916.2,308.6" stroke="#c8c8c8" stroke-width="0.30"/><path d="M875.5,287.0 Q874.1,289.0 863.0,294.1" stroke="#c8c8c8" stroke-width="0.36"/><path d="M948.5,321.5 Q939.9,324.2 932.9,327.6" stroke="#dcdcdc" stroke-width="0.36"/><path d="M925.9,310.5 Q916.1,311.8 905.3,313.4" stroke="#b8b8b8" stroke-width="0.42"/><path d="M874.9,317.4 Q876.7,318.3 880.6,310.1" stroke="#ececec" stroke-width="0.41"/><path d="M923.4,322.8 Q921.2,335.9 909.8,339.9" stroke="#ececec" stroke-width="0.35"/><path d="M945.7,292.4 Q955.0,290.1 961.8,283.8" stroke="#c8c8c8" stroke-width="0.33"/><path d="M915.9,266.5 Q919.1,262.3 924.7,265.4" stroke="#b8b8b8" stroke-width="0.39"/><path d="M948.6,278.5 Q947.6,289.1 950.1,293.8" stroke="#dcdcdc" stroke-width="0.42"/><path d="M912.5,263.4 Q905.1,267.5 901.0,261.7" stroke="#ececec" stroke-width="0.47"/><path d="M890.8,276.7 Q892.0,284.9 883.6,285.2" stroke="#b8b8b8" stroke-width="0.36"/><path d="M875.6,292.8 Q886.3,290.0 888.3,289.1" stroke="#b8b8b8" stroke-width="0.32"/><path d="M937.4,284.6 Q935.8,278.7 925.6,274.1" stroke="#ececec" stroke-width="0.42"/><path d="M964.5,271.2 Q964.2,270.5 967.2,261.3" stroke="#dcdcdc" stroke-width="0.55"/><path d="M882.3,304.2 Q885.0,312.2 886.1,314.8" stroke="#c8c8c8" stroke-width="0.50"/><path d="M879.0,292.3 Q879.8,297.9 885.8,298.8" stroke="#c8c8c8" stroke-width="0.32"/><path d="M886.5,306.9 Q885.6,293.5 894.1,287.0" stroke="#b8b8b8" stroke-width="0.35"/><path d="M897.4,274.4 Q890.9,272.6 884.1,265.4" stroke="#dcdcdc" stroke-width="0.38"/><path d="M934.8,320.8 Q927.8,323.6 928.1,321.4" stroke="#b8b8b8" stroke-width="0.31"/><path d="M879.8,278.1 Q884.0,281.3 888.2,274.5" stroke="#ececec" stroke-width="0.39"/><path d="M899.2,283.6 Q892.9,278.6 895.5,269.5" stroke="#c8c8c8" stroke-width="0.49"/><path d="M928.3,276.3 Q927.6,268.9 928.0,269.1" stroke="#dcdcdc" stroke-width="0.37"/><path d="M898.1,316.3 Q901.2,307.7 897.9,300.4" stroke="#b8b8b8" stroke-width="0.48"/><path d="M895.2,283.3 Q895.2,287.2 889.9,287.8" stroke="#c8c8c8" stroke-width="0.30"/><path d="M936.3,310.2 Q944.2,308.2 947.6,309.9" stroke="#c8c8c8" stroke-width="0.42"/><path d="M886.2,322.6 Q878.2,315.9 877.1,308.9" stroke="#dcdcdc" stroke-width="0.32"/><path d="M931.4,306.6 Q928.2,307.0 917.8,317.0" stroke="#c8c8c8" stroke-width="0.54"/><path d="M897.0,279.3 Q901.0,278.3 905.5,277.6" stroke="#b8b8b8" stroke-width="0.54"/><path d="M954.5,266.9 Q946.6,269.9 938.0,266.1" stroke="#c8c8c8" stroke-width="0.47"/><path d="M957.1,269.8 Q957.3,281.4 949.0,287.2" stroke="#b8b8b8" stroke-width="0.31"/><path d="M894.4,301.5 Q889.0,299.5 892.9,290.4" stroke="#ececec" stroke-width="0.40"/><path d="M936.0,318.0 Q930.0,320.4 924.3,316.0" stroke="#ececec" stroke-width="0.49"/><path d="M910.1,300.5 Q903.6,302.0 902.6,311.8" stroke="#c8c8c8" stroke-width="0.40"/><path d="M876.9,286.3 Q888.0,291.2 889.6,294.4" stroke="#b8b8b8" stroke-width="0.38"/><path d="M880.7,304.8 Q884.2,309.6 893.2,321.7" stroke="#ececec" stroke-width="0.47"/><path d="M921.2,308.6 Q929.7,312.5 935.0,316.6" stroke="#ececec" stroke-width="0.53"/><path d="M906.2,314.7 Q898.4,314.1 900.5,306.9" stroke="#b8b8b8" stroke-width="0.45"/><path d="M939.7,323.5 Q933.0,322.7 932.1,325.3" stroke="#ececec" stroke-width="0.37"/><path d="M958.6,280.0 Q952.6,282.0 949.2,275.0" stroke="#b8b8b8" stroke-width="0.33"/><path d="M894.7,273.2 Q895.1,283.4 892.0,286.0" stroke="#dcdcdc" stroke-width="0.47"/><path d="M876.1,289.4 Q877.8,294.4 884.8,300.1" stroke="#dcdcdc" stroke-width="0.41"/><path d="M932.5,270.8 Q942.3,261.9 944.3,260.3" stroke="#c8c8c8" stroke-width="0.34"/><path d="M964.6,265.3 Q962.0,251.4 963.4,245.5" stroke="#ececec" stroke-width="0.50"/><path d="M903.5,262.9 Q913.6,261.4 921.2,262.7" stroke="#ececec" stroke-width="0.36"/><path d="M947.5,286.8 Q952.6,296.5 953.4,304.5" stroke="#b8b8b8" stroke-width="0.38"/><path d="M939.9,322.8 Q943.1,316.7 948.2,312.2" stroke="#ececec" stroke-width="0.49"/><path d="M938.1,313.3 Q948.3,309.2 957.9,307.3" stroke="#dcdcdc" stroke-width="0.39"/><path d="M902.4,310.2 Q906.1,309.1 910.7,312.2" stroke="#ececec" stroke-width="0.50"/><path d="M875.2,311.3 Q873.6,306.6 878.9,300.5" stroke="#b8b8b8" stroke-width="0.49"/><path d="M888.9,288.7 Q885.7,290.3 878.9,284.0" stroke="#b8b8b8" stroke-width="0.38"/><path d="M944.6,285.7 Q942.6,295.9 932.5,297.4" stroke="#dcdcdc" stroke-width="0.40"/><path d="M906.2,289.2 Q914.3,295.2 921.5,292.5" stroke="#dcdcdc" stroke-width="0.53"/><path d="M946.2,275.8 Q936.8,278.6 936.5,282.5" stroke="#dcdcdc" stroke-width="0.35"/><path d="M923.6,272.2 Q915.5,270.8 908.1,259.9" stroke="#b8b8b8" stroke-width="0.50"/><path d="M913.2,292.5 Q915.9,285.0 911.3,282.9" stroke="#dcdcdc" stroke-width="0.40"/><path d="M928.4,297.2 Q927.4,304.3 922.8,314.1" stroke="#b8b8b8" stroke-width="0.45"/><path d="M941.7,269.1 Q935.1,269.4 938.1,278.1" stroke="#c8c8c8" stroke-width="0.51"/><path d="M954.9,286.3 Q948.7,296.6 938.1,300.2" stroke="#ececec" stroke-width="0.50"/><path d="M900.5,319.1 Q903.4,320.0 902.9,327.2" stroke="#dcdcdc" stroke-width="0.50"/><path d="M925.0,302.0 Q929.2,295.4 926.0,291.3" stroke="#b8b8b8" stroke-width="0.50"/><path d="M943.5,270.3 Q938.5,271.8 929.0,270.3" stroke="#dcdcdc" stroke-width="0.49"/><path d="M938.0,279.9 Q943.4,282.0 944.4,282.1" stroke="#ececec" stroke-width="0.54"/><path d="M891.6,302.1 Q883.4,301.7 883.7,297.4" stroke="#b8b8b8" stroke-width="0.47"/><path d="M924.0,318.2 Q928.2,316.7 930.0,317.0" stroke="#c8c8c8" stroke-width="0.52"/><path d="M928.3,263.3 Q922.3,270.8 914.7,271.7" stroke="#c8c8c8" stroke-width="0.42"/><path d="M893.7,274.6 Q892.8,269.1 895.9,267.2" stroke="#c8c8c8" stroke-width="0.41"/><path d="M880.2,267.3 Q881.8,259.8 882.7,256.5" stroke="#b8b8b8" stroke-width="0.44"/><path d="M939.8,270.9 Q933.8,272.2 936.5,265.0" stroke="#dcdcdc" stroke-width="0.34"/><path d="M911.4,266.1 Q913.0,273.2 907.0,272.0" stroke="#b8b8b8" stroke-width="0.45"/><path d="M920.6,302.8 Q918.4,305.0 909.4,311.2" stroke="#b8b8b8" stroke-width="0.44"/><path d="M922.8,283.8 Q930.7,275.5 930.6,275.5" stroke="#c8c8c8" stroke-width="0.46"/><path d="M894.3,269.4 Q895.9,278.6 895.0,284.9" stroke="#c8c8c8" stroke-width="0.46"/><path d="M935.7,276.2 Q932.4,284.7 932.5,285.4" stroke="#ececec" stroke-width="0.40"/><path d="M915.7,275.0 Q918.0,271.9 928.5,271.0" stroke="#c8c8c8" stroke-width="0.49"/><path d="M937.3,294.8 Q941.5,300.8 943.0,308.9" stroke="#b8b8b8" stroke-width="0.49"/><path d="M898.2,278.1 Q909.9,282.6 913.0,282.8" stroke="#b8b8b8" stroke-width="0.52"/><path d="M957.1,320.7 Q967.1,329.8 975.1,329.6" stroke="#b8b8b8" stroke-width="0.49"/><path d="M915.6,322.9 Q909.8,324.0 909.8,318.0" stroke="#dcdcdc" stroke-width="0.41"/><path d="M948.3,305.9 Q948.2,315.8 948.0,325.0" stroke="#dcdcdc" stroke-width="0.36"/><path d="M891.5,312.5 Q895.1,311.3 896.8,317.8" stroke="#c8c8c8" stroke-width="0.46"/><path d="M957.0,266.1 Q961.3,268.2 962.9,275.8" stroke="#dcdcdc" stroke-width="0.33"/><path d="M951.8,322.4 Q948.9,330.7 945.9,331.8" stroke="#ececec" stroke-width="0.39"/><path d="M948.7,263.0 Q963.0,263.2 967.4,257.2" stroke="#dcdcdc" stroke-width="0.48"/><path d="M953.6,282.5 Q952.9,283.2 960.6,281.0" stroke="#b8b8b8" stroke-width="0.54"/><path d="M963.3,299.4 Q967.1,307.9 974.4,309.3" stroke="#dcdcdc" stroke-width="0.43"/><path d="M951.1,285.9 Q953.1,283.3 961.0,287.9" stroke="#c8c8c8" stroke-width="0.38"/><path d="M906.3,322.3 Q894.5,324.4 890.7,329.2" stroke="#ececec" stroke-width="0.49"/><path d="M887.3,319.1 Q882.9,313.1 875.8,311.1" stroke="#c8c8c8" stroke-width="0.45"/><path d="M900.1,313.8 Q907.0,317.5 912.9,312.4" stroke="#b8b8b8" stroke-width="0.44"/><path d="M884.9,290.1 Q889.7,278.4 896.6,273.2" stroke="#dcdcdc" stroke-width="0.40"/><path d="M902.1,314.1 Q895.1,320.6 894.0,321.6" stroke="#b8b8b8" stroke-width="0.31"/><path d="M957.0,319.3 Q953.8,320.9 948.6,331.5" stroke="#ececec" stroke-width="0.47"/><path d="M932.9,311.9 Q929.4,301.4 919.5,298.4" stroke="#dcdcdc" stroke-width="0.38"/><path d="M952.3,268.3 Q944.0,262.3 937.5,254.3" stroke="#b8b8b8" stroke-width="0.54"/><path d="M901.9,317.3 Q898.4,317.4 885.9,309.9" stroke="#dcdcdc" stroke-width="0.53"/><path d="M877.3,288.8 Q878.0,283.1 885.6,287.2" stroke="#b8b8b8" stroke-width="0.51"/><path d="M942.0,290.0 Q953.5,290.4 956.5,288.7" stroke="#dcdcdc" stroke-width="0.44"/><path d="M943.2,307.7 Q940.1,313.9 932.0,321.0" stroke="#dcdcdc" stroke-width="0.34"/><path d="M956.5,323.8 Q967.7,322.6 972.9,321.9" stroke="#b8b8b8" stroke-width="0.47"/><path d="M882.0,285.5 Q872.9,291.5 870.5,298.4" stroke="#c8c8c8" stroke-width="0.44"/><path d="M923.6,283.1 Q922.8,280.9 917.5,285.7" stroke="#c8c8c8" stroke-width="0.35"/><path d="M931.1,296.3 Q934.0,306.9 937.4,310.9" stroke="#c8c8c8" stroke-width="0.50"/><path d="M909.6,315.4 Q906.0,319.1 894.4,312.9" stroke="#dcdcdc" stroke-width="0.45"/><path d="M944.9,306.3 Q937.9,310.5 932.5,306.9" stroke="#b8b8b8" stroke-width="0.49"/><path d="M892.2,282.1 Q890.9,287.9 889.2,288.7" stroke="#c8c8c8" stroke-width="0.51"/><path d="M964.6,297.4 Q968.6,296.2 969.1,302.4" stroke="#dcdcdc" stroke-width="0.45"/><path d="M943.0,279.6 Q936.6,274.5 934.0,279.1" stroke="#dcdcdc" stroke-width="0.39"/><path d="M941.1,310.6 Q944.3,322.5 948.3,326.1" stroke="#c8c8c8" stroke-width="0.34"/><path d="M962.2,319.0 Q957.2,321.6 950.5,331.7" stroke="#dcdcdc" stroke-width="0.52"/><path d="M912.9,288.5 Q909.1,292.8 898.0,291.8" stroke="#c8c8c8" stroke-width="0.49"/><path d="M960.2,277.7 Q960.8,273.7 966.1,261.7" stroke="#ececec" stroke-width="0.47"/><path d="M952.0,268.0 Q948.1,258.7 940.8,254.1" stroke="#ececec" stroke-width="0.45"/><path d="M947.2,288.2 Q949.5,294.6 951.4,308.1" stroke="#c8c8c8" stroke-width="0.34"/><path d="M875.6,311.9 Q867.4,314.5 856.3,313.6" stroke="#dcdcdc" stroke-width="0.42"/><path d="M959.5,310.1 Q950.9,312.3 950.1,321.6" stroke="#ececec" stroke-width="0.47"/><path d="M953.2,313.5 Q962.6,316.1 974.1,308.9" stroke="#b8b8b8" stroke-width="0.37"/><path d="M904.1,294.7 Q915.9,302.1 919.9,306.1" stroke="#dcdcdc" stroke-width="0.40"/><path d="M908.9,287.5 Q902.9,294.4 892.6,293.7" stroke="#dcdcdc" stroke-width="0.54"/><path d="M904.8,281.2 Q904.5,286.0 912.5,284.5" stroke="#c8c8c8" stroke-width="0.41"/><path d="M928.6,266.0 Q931.7,271.5 927.2,272.0" stroke="#ececec" stroke-width="0.42"/><path d="M890.0,298.8 Q886.8,297.3 884.7,291.6" stroke="#b8b8b8" stroke-width="0.37"/><path d="M938.4,273.9 Q937.7,275.1 946.0,269.4" stroke="#b8b8b8" stroke-width="0.44"/><path d="M907.3,273.9 Q920.6,273.8 925.7,281.9" stroke="#c8c8c8" stroke-width="0.40"/><path d="M931.0,316.8 Q933.1,322.6 941.3,320.9" stroke="#ececec" stroke-width="0.40"/><path d="M903.7,304.9 Q906.7,299.5 916.6,297.1" stroke="#b8b8b8" stroke-width="0.43"/><path d="M915.4,313.2 Q902.3,314.5 897.8,316.0" stroke="#b8b8b8" stroke-width="0.37"/><path d="M939.8,306.3 Q926.6,314.7 922.2,316.9" stroke="#ececec" stroke-width="0.47"/><path d="M914.0,289.8 Q918.4,285.3 932.4,282.7" stroke="#ececec" stroke-width="0.52"/><path d="M947.3,295.4 Q957.2,295.9 969.1,295.7" stroke="#dcdcdc" stroke-width="0.31"/><path d="M888.3,269.1 Q880.7,271.4 868.2,266.8" stroke="#b8b8b8" stroke-width="0.34"/><path d="M934.7,301.0 Q934.4,297.6 941.9,299.8" stroke="#ececec" stroke-width="0.30"/><path d="M941.5,317.8 Q942.0,324.4 950.7,324.7" stroke="#ececec" stroke-width="0.32"/><path d="M908.4,307.6 Q905.1,308.6 907.6,315.2" stroke="#ececec" stroke-width="0.41"/><path d="M909.7,301.8 Q909.6,295.3 905.8,296.5" stroke="#b8b8b8" stroke-width="0.47"/><path d="M903.8,265.3 Q900.4,258.7 898.8,254.9" stroke="#c8c8c8" stroke-width="0.53"/><path d="M937.0,323.8 Q930.1,328.7 925.9,326.2" stroke="#ececec" stroke-width="0.47"/><path d="M933.8,289.0 Q943.1,288.8 947.0,288.5" stroke="#c8c8c8" stroke-width="0.44"/><path d="M905.2,296.4 Q904.8,287.3 898.0,276.8" stroke="#c8c8c8" stroke-width="0.33"/><path d="M949.6,301.9 Q949.5,309.9 944.2,317.3" stroke="#ececec" stroke-width="0.39"/><path d="M920.0,318.4 Q916.1,312.7 921.2,310.5" stroke="#dcdcdc" stroke-width="0.53"/><path d="M935.1,289.3 Q945.7,294.6 948.5,293.3" stroke="#b8b8b8" stroke-width="0.41"/><path d="M886.5,291.7 Q877.8,294.1 866.8,300.6" stroke="#b8b8b8" stroke-width="0.40"/><path d="M884.8,263.5 Q874.7,260.7 865.8,267.3" stroke="#dcdcdc" stroke-width="0.48"/><path d="M917.8,309.1 Q911.3,302.6 913.7,295.8" stroke="#ececec" stroke-width="0.46"/><path d="M963.4,268.4 Q965.6,268.8 972.0,274.9" stroke="#dcdcdc" stroke-width="0.47"/><path d="M899.8,323.7 Q905.7,331.3 906.5,335.5" stroke="#dcdcdc" stroke-width="0.51"/><path d="M931.6,299.7 Q934.7,292.4 937.2,288.2" stroke="#b8b8b8" stroke-width="0.49"/><path d="M928.4,318.1 Q920.1,315.6 921.2,319.6" stroke="#b8b8b8" stroke-width="0.49"/><path d="M886.2,293.6 Q876.3,287.0 869.7,290.0" stroke="#c8c8c8" stroke-width="0.34"/><path d="M928.8,294.8 Q940.2,303.0 942.2,306.2" stroke="#c8c8c8" stroke-width="0.51"/><path d="M923.5,272.9 Q927.3,279.6 924.5,280.4" stroke="#dcdcdc" stroke-width="0.42"/><path d="M939.0,272.0 Q937.9,277.3 929.0,289.6" stroke="#dcdcdc" stroke-width="0.50"/><path d="M914.0,274.4 Q914.8,273.3 911.6,267.0" stroke="#dcdcdc" stroke-width="0.33"/><path d="M878.7,298.4 Q878.4,299.1 877.1,291.2" stroke="#b8b8b8" stroke-width="0.46"/><path d="M949.2,293.8 Q956.2,297.4 959.1,297.8" stroke="#dcdcdc" stroke-width="0.41"/><path d="M957.5,285.7 Q964.0,288.5 965.3,283.3" stroke="#b8b8b8" stroke-width="0.43"/><path d="M932.9,273.3 Q939.5,269.3 950.4,266.6" stroke="#c8c8c8" stroke-width="0.35"/><path d="M912.4,301.0 Q917.4,297.2 922.2,296.3" stroke="#c8c8c8" stroke-width="0.38"/><path d="M936.7,285.5 Q933.4,287.7 926.8,289.4" stroke="#c8c8c8" stroke-width="0.47"/><path d="M898.0,287.3 Q897.8,287.6 892.5,291.6" stroke="#c8c8c8" stroke-width="0.55"/><path d="M916.7,321.3 Q905.8,311.2 899.5,308.0" stroke="#b8b8b8" stroke-width="0.43"/><path d="M943.1,270.7 Q949.8,269.7 964.4,268.2" stroke="#dcdcdc" stroke-width="0.46"/><path d="M904.7,301.2 Q908.3,297.9 910.9,290.1" stroke="#b8b8b8" stroke-width="0.35"/><path d="M902.9,290.1 Q894.2,296.9 886.2,294.5" stroke="#c8c8c8" stroke-width="0.48"/><path d="M880.4,270.4 Q892.6,272.7 897.3,274.8" stroke="#ececec" stroke-width="0.51"/><path d="M911.3,283.7 Q911.7,279.5 912.9,270.9" stroke="#dcdcdc" stroke-width="0.49"/><path d="M920.8,308.1 Q914.0,309.1 908.7,301.4" stroke="#dcdcdc" stroke-width="0.48"/><path d="M935.6,316.7 Q938.0,329.5 937.4,334.8" stroke="#ececec" stroke-width="0.45"/><path d="M944.5,264.7 Q932.3,261.3 925.2,261.8" stroke="#c8c8c8" stroke-width="0.49"/><path d="M890.5,267.0 Q886.3,266.0 884.1,259.7" stroke="#ececec" stroke-width="0.47"/><path d="M891.1,288.8 Q892.2,290.8 888.0,298.0" stroke="#dcdcdc" stroke-width="0.54"/><path d="M923.9,319.1 Q928.1,328.4 927.6,335.4" stroke="#b8b8b8" stroke-width="0.33"/><path d="M953.1,296.7 Q954.2,286.8 949.5,280.5" stroke="#dcdcdc" stroke-width="0.53"/><path d="M964.2,283.8 Q964.3,284.8 964.5,292.8" stroke="#c8c8c8" stroke-width="0.31"/><path d="M937.7,289.1 Q941.4,287.7 947.0,288.3" stroke="#b8b8b8" stroke-width="0.35"/><path d="M875.8,315.6 Q878.5,320.0 872.5,327.0" stroke="#c8c8c8" stroke-width="0.34"/><path d="M911.6,316.3 Q919.7,304.8 919.6,298.8" stroke="#dcdcdc" stroke-width="0.36"/><path d="M910.6,308.3 Q906.9,315.8 912.7,322.6" stroke="#b8b8b8" stroke-width="0.40"/><path d="M887.0,310.2 Q891.0,305.3 889.8,301.7" stroke="#b8b8b8" stroke-width="0.31"/><path d="M928.3,282.3 Q930.3,287.0 941.4,284.7" stroke="#b8b8b8" stroke-width="0.34"/><path d="M943.3,289.2 Q942.8,283.5 949.2,283.2" stroke="#c8c8c8" stroke-width="0.51"/><path d="M916.6,270.4 Q916.2,265.4 914.7,261.6" stroke="#b8b8b8" stroke-width="0.38"/><path d="M889.7,301.8 Q884.5,307.8 888.1,311.1" stroke="#c8c8c8" stroke-width="0.52"/><path d="M890.6,309.1 Q885.6,311.4 880.3,309.1" stroke="#dcdcdc" stroke-width="0.35"/><path d="M897.8,301.4 Q902.5,296.4 899.8,292.9" stroke="#c8c8c8" stroke-width="0.42"/><path d="M938.0,305.1 Q935.1,301.5 934.3,298.7" stroke="#b8b8b8" stroke-width="0.53"/><path d="M906.2,298.5 Q902.3,297.6 896.9,300.6" stroke="#dcdcdc" stroke-width="0.44"/><path d="M878.3,270.0 Q882.6,276.0 885.9,280.1" stroke="#ececec" stroke-width="0.52"/><path d="M929.4,309.9 Q936.4,308.0 934.9,304.3" stroke="#ececec" stroke-width="0.44"/><path d="M913.7,272.5 Q915.1,269.8 910.6,259.2" stroke="#ececec" stroke-width="0.39"/><path d="M876.1,288.8 Q874.5,276.8 878.2,274.3" stroke="#c8c8c8" stroke-width="0.47"/><path d="M891.0,282.7 Q890.6,285.2 880.2,280.0" stroke="#b8b8b8" stroke-width="0.31"/><path d="M887.8,299.1 Q885.3,291.1 874.4,289.0" stroke="#dcdcdc" stroke-width="0.39"/><path d="M945.5,302.2 Q951.3,300.2 959.9,296.6" stroke="#ececec" stroke-width="0.37"/><path d="M956.8,278.3 Q960.8,285.3 960.7,288.5" stroke="#ececec" stroke-width="0.46"/><path d="M882.8,295.1 Q893.5,294.1 899.5,300.9" stroke="#ececec" stroke-width="0.50"/><path d="M952.9,268.0 Q951.9,268.3 944.3,272.3" stroke="#b8b8b8" stroke-width="0.32"/><path d="M956.2,266.2 Q966.2,268.9 971.6,263.4" stroke="#ececec" stroke-width="0.36"/><path d="M928.1,269.8 Q929.6,272.0 922.0,264.4" stroke="#b8b8b8" stroke-width="0.49"/><path d="M926.3,318.9 Q916.8,318.7 914.0,323.0" stroke="#ececec" stroke-width="0.37"/><path d="M955.4,311.8 Q948.0,315.2 950.6,326.2" stroke="#b8b8b8" stroke-width="0.54"/><path d="M961.4,279.8 Q950.3,287.8 941.9,287.5" stroke="#ececec" stroke-width="0.37"/><path d="M884.1,273.9 Q886.6,276.8 887.7,283.4" stroke="#c8c8c8" stroke-width="0.53"/><path d="M951.6,295.9 Q948.4,286.6 937.4,283.6" stroke="#b8b8b8" stroke-width="0.31"/><path d="M916.8,300.6 Q921.8,312.5 919.9,314.9" stroke="#dcdcdc" stroke-width="0.53"/><path d="M962.2,285.2 Q958.8,285.7 949.6,292.8" stroke="#c8c8c8" stroke-width="0.38"/><path d="M958.0,274.4 Q957.7,285.9 948.1,291.6" stroke="#dcdcdc" stroke-width="0.49"/><path d="M893.6,319.8 Q887.3,315.1 883.5,317.6" stroke="#b8b8b8" stroke-width="0.38"/><path d="M933.2,307.4 Q928.2,302.0 925.5,292.3" stroke="#ececec" stroke-width="0.39"/><path d="M921.1,267.1 Q917.3,265.6 917.9,272.9" stroke="#b8b8b8" stroke-width="0.49"/><path d="M919.5,322.7 Q926.8,324.9 934.5,323.8" stroke="#ececec" stroke-width="0.32"/><path d="M937.3,270.8 Q941.2,267.4 944.2,272.3" stroke="#dcdcdc" stroke-width="0.36"/><path d="M919.8,280.5 Q920.9,280.7 925.9,278.5" stroke="#ececec" stroke-width="0.33"/><path d="M909.4,317.9 Q905.9,315.4 903.4,307.8" stroke="#b8b8b8" stroke-width="0.31"/><path d="M911.5,289.2 Q918.0,279.1 914.9,272.7" stroke="#dcdcdc" stroke-width="0.36"/><path d="M904.0,295.0 Q905.5,298.8 913.8,307.7" stroke="#ececec" stroke-width="0.52"/><path d="M927.5,287.2 Q928.0,289.6 934.2,289.6" stroke="#dcdcdc" stroke-width="0.50"/><path d="M927.9,300.0 Q933.9,299.2 938.3,301.6" stroke="#b8b8b8" stroke-width="0.41"/><path d="M905.0,301.0 Q911.3,299.0 917.0,295.3" stroke="#ececec" stroke-width="0.42"/><path d="M918.9,303.3 Q924.7,303.2 934.5,303.2" stroke="#c8c8c8" stroke-width="0.44"/><path d="M901.9,273.6 Q895.6,274.0 890.6,279.3" stroke="#b8b8b8" stroke-width="0.44"/><path d="M882.3,323.6 Q886.0,309.9 884.3,305.1" stroke="#c8c8c8" stroke-width="0.42"/><path d="M935.4,287.9 Q924.8,278.7 923.2,278.4" stroke="#ececec" stroke-width="0.48"/><path d="M914.7,278.6 Q914.9,274.3 909.8,272.1" stroke="#dcdcdc" stroke-width="0.38"/><path d="M894.7,288.5 Q892.5,288.2 895.1,294.6" stroke="#dcdcdc" stroke-width="0.35"/><path d="M954.9,305.9 Q953.0,309.3 953.2,313.1" stroke="#dcdcdc" stroke-width="0.31"/><path d="M889.3,285.7 Q891.6,293.5 890.8,294.5" stroke="#dcdcdc" stroke-width="0.34"/><path d="M895.6,305.7 Q887.4,310.4 885.9,318.4" stroke="#ececec" stroke-width="0.36"/><path d="M937.0,321.9 Q941.4,326.8 941.4,326.2" stroke="#dcdcdc" stroke-width="0.54"/><path d="M909.0,293.8 Q910.2,302.9 902.4,302.7" stroke="#b8b8b8" stroke-width="0.43"/><path d="M919.7,311.1 Q922.4,315.1 918.3,319.0" stroke="#c8c8c8" stroke-width="0.35"/><path d="M944.6,266.9 Q942.5,273.0 940.1,282.7" stroke="#c8c8c8" stroke-width="0.49"/><path d="M936.5,289.7 Q938.9,293.3 946.5,300.0" stroke="#ececec" stroke-width="0.52"/><path d="M902.5,272.7 Q892.6,266.3 891.4,266.3" stroke="#c8c8c8" stroke-width="0.35"/><path d="M951.9,269.5 Q957.7,272.8 958.8,268.3" stroke="#c8c8c8" stroke-width="0.40"/><path d="M931.4,296.1 Q937.5,298.1 935.5,305.7" stroke="#dcdcdc" stroke-width="0.49"/><path d="M944.2,289.3 Q950.4,284.3 952.8,273.1" stroke="#dcdcdc" stroke-width="0.35"/><path d="M947.8,319.9 Q949.0,316.8 943.1,305.5" stroke="#ececec" stroke-width="0.38"/><path d="M908.4,279.4 Q900.4,274.5 896.4,264.7" stroke="#c8c8c8" stroke-width="0.50"/><path d="M922.6,269.8 Q921.0,275.3 920.4,280.4" stroke="#b8b8b8" stroke-width="0.45"/><path d="M925.6,280.2 Q930.5,279.6 928.9,269.8" stroke="#b8b8b8" stroke-width="0.40"/><path d="M938.2,302.4 Q936.8,289.7 937.8,281.3" stroke="#dcdcdc" stroke-width="0.53"/><path d="M904.4,264.1 Q904.6,258.6 896.1,262.6" stroke="#dcdcdc" stroke-width="0.49"/><path d="M943.0,303.1 Q944.8,311.7 943.1,318.6" stroke="#b8b8b8" stroke-width="0.39"/><path d="M956.3,300.9 Q949.5,293.2 949.6,291.7" stroke="#b8b8b8" stroke-width="0.46"/><path d="M964.7,301.5 Q964.7,295.2 966.4,281.6" stroke="#b8b8b8" stroke-width="0.45"/><path d="M916.4,280.2 Q918.0,286.5 917.4,289.0" stroke="#ececec" stroke-width="0.55"/><path d="M909.2,287.4 Q906.9,275.8 905.3,266.2" stroke="#c8c8c8" stroke-width="0.47"/><path d="M916.2,276.1 Q919.3,276.2 930.3,275.3" stroke="#ececec" stroke-width="0.36"/><path d="M882.3,300.3 Q877.5,300.9 873.7,293.0" stroke="#ececec" stroke-width="0.50"/><path d="M886.9,322.4 Q880.5,331.9 873.2,337.9" stroke="#ececec" stroke-width="0.47"/><path d="M960.9,290.9 Q953.8,290.5 947.8,299.9" stroke="#b8b8b8" stroke-width="0.37"/><path d="M889.5,294.8 Q881.0,295.1 872.5,292.0" stroke="#b8b8b8" stroke-width="0.50"/><path d="M962.0,276.5 Q970.9,273.2 979.0,272.6" stroke="#b8b8b8" stroke-width="0.39"/><path d="M896.4,311.2 Q895.2,320.5 892.8,330.6" stroke="#c8c8c8" stroke-width="0.43"/><path d="M931.0,280.0 Q931.3,282.3 923.0,287.7" stroke="#ececec" stroke-width="0.50"/><path d="M884.2,304.8 Q878.5,296.4 881.7,296.3" stroke="#ececec" stroke-width="0.43"/><path d="M915.1,322.2 Q918.6,330.2 917.9,340.5" stroke="#b8b8b8" stroke-width="0.43"/><path d="M943.4,285.2 Q946.7,280.8 953.9,280.4" stroke="#dcdcdc" stroke-width="0.50"/><path d="M935.7,272.3 Q948.8,266.2 955.0,263.5" stroke="#c8c8c8" stroke-width="0.46"/><path d="M877.2,285.8 Q873.4,286.4 860.7,281.1" stroke="#dcdcdc" stroke-width="0.55"/><path d="M905.4,318.3 Q902.2,315.4 907.2,312.5" stroke="#b8b8b8" stroke-width="0.47"/><path d="M963.8,289.5 Q970.7,296.2 976.1,293.5" stroke="#b8b8b8" stroke-width="0.30"/><path d="M902.1,320.5 Q900.4,329.4 899.6,330.6" stroke="#b8b8b8" stroke-width="0.40"/><path d="M934.6,264.4 Q933.5,263.3 929.7,269.5" stroke="#dcdcdc" stroke-width="0.43"/><path d="M934.3,280.1 Q938.1,285.2 934.6,288.9" stroke="#ececec" stroke-width="0.46"/><path d="M900.2,294.2 Q891.4,292.8 890.3,288.8" stroke="#dcdcdc" stroke-width="0.50"/><path d="M952.8,286.2 Q942.8,289.9 942.7,285.1" stroke="#c8c8c8" stroke-width="0.49"/><path d="M950.7,322.3 Q942.9,318.2 938.1,318.3" stroke="#b8b8b8" stroke-width="0.54"/><path d="M879.4,308.4 Q872.5,307.4 870.3,302.0" stroke="#b8b8b8" stroke-width="0.54"/><path d="M896.2,302.6 Q902.0,311.5 913.0,312.8" stroke="#dcdcdc" stroke-width="0.31"/><path d="M958.6,275.3 Q949.6,280.7 939.0,284.0" stroke="#dcdcdc" stroke-width="0.53"/><path d="M963.2,282.1 Q958.0,274.3 948.5,273.1" stroke="#c8c8c8" stroke-width="0.43"/><path d="M878.1,309.6 Q872.2,304.7 871.1,306.6" stroke="#dcdcdc" stroke-width="0.46"/><path d="M940.6,299.8 Q941.5,293.2 951.1,289.0" stroke="#c8c8c8" stroke-width="0.40"/><path d="M924.6,304.3 Q917.0,298.1 916.2,290.4" stroke="#b8b8b8" stroke-width="0.49"/><path d="M879.1,306.8 Q877.7,311.9 881.1,320.1" stroke="#dcdcdc" stroke-width="0.53"/><path d="M952.3,264.2 Q959.2,259.9 959.7,259.8" stroke="#b8b8b8" stroke-width="0.44"/><path d="M896.7,304.8 Q904.2,311.9 904.7,314.6" stroke="#c8c8c8" stroke-width="0.35"/><path d="M890.1,285.6 Q887.8,282.1 880.8,283.9" stroke="#ececec" stroke-width="0.37"/><path d="M891.2,307.0 Q893.2,316.9 904.5,319.4" stroke="#c8c8c8" stroke-width="0.44"/><path d="M926.4,274.0 Q928.1,277.6 922.2,278.5" stroke="#dcdcdc" stroke-width="0.37"/><path d="M962.9,270.8 Q952.8,266.8 942.5,269.2" stroke="#b8b8b8" stroke-width="0.44"/><path d="M962.0,317.7 Q959.4,321.2 957.4,330.7" stroke="#b8b8b8" stroke-width="0.45"/><path d="M954.2,283.3 Q954.3,275.8 959.4,270.9" stroke="#c8c8c8" stroke-width="0.42"/><path d="M875.8,309.4 Q875.2,312.1 876.8,322.0" stroke="#c8c8c8" stroke-width="0.50"/><path d="M961.7,304.0 Q962.9,301.0 954.1,308.0" stroke="#ececec" stroke-width="0.45"/><path d="M907.2,289.5 Q897.0,287.8 890.2,291.8" stroke="#b8b8b8" stroke-width="0.34"/><path d="M883.5,294.8 Q873.8,293.3 872.0,294.7" stroke="#c8c8c8" stroke-width="0.32"/><path d="M919.7,314.1 Q926.4,315.6 930.4,325.3" stroke="#c8c8c8" stroke-width="0.53"/><path d="M902.3,287.9 Q902.9,280.4 894.6,279.1" stroke="#c8c8c8" stroke-width="0.47"/><path d="M947.3,290.2 Q946.6,298.7 939.6,303.5" stroke="#dcdcdc" stroke-width="0.32"/><path d="M934.4,317.1 Q934.5,313.0 934.2,306.0" stroke="#ececec" stroke-width="0.32"/><path d="M879.8,320.7 Q883.7,315.7 889.8,317.6" stroke="#c8c8c8" stroke-width="0.54"/><path d="M941.2,312.1 Q942.9,317.0 940.4,320.3" stroke="#ececec" stroke-width="0.53"/><path d="M874.5,295.1 Q869.7,297.5 859.8,294.5" stroke="#c8c8c8" stroke-width="0.45"/><path d="M879.9,317.4 Q888.2,314.1 894.3,307.9" stroke="#dcdcdc" stroke-width="0.49"/><path d="M931.8,265.1 Q934.6,260.9 930.4,258.9" stroke="#c8c8c8" stroke-width="0.54"/><path d="M895.3,285.5 Q901.2,287.5 904.2,290.6" stroke="#b8b8b8" stroke-width="0.36"/><path d="M954.7,287.9 Q947.2,294.0 946.9,292.5" stroke="#dcdcdc" stroke-width="0.44"/><path d="M884.9,290.3 Q878.2,283.3 867.0,280.7" stroke="#dcdcdc" stroke-width="0.52"/><path d="M956.5,315.2 Q948.6,313.7 940.4,308.0" stroke="#c8c8c8" stroke-width="0.48"/><path d="M892.9,315.2 Q893.0,310.7 893.5,306.2" stroke="#ececec" stroke-width="0.54"/><path d="M896.3,314.6 Q901.6,312.2 910.8,306.6" stroke="#ececec" stroke-width="0.52"/><path d="M937.5,314.1 Q926.8,311.7 922.3,308.9" stroke="#ececec" stroke-width="0.54"/><path d="M878.2,281.3 Q877.7,279.8 883.6,273.1" stroke="#c8c8c8" stroke-width="0.47"/><path d="M943.3,283.3 Q947.4,276.7 956.8,271.5" stroke="#c8c8c8" stroke-width="0.47"/><path d="M897.7,321.3 Q890.2,320.8 892.2,311.4" stroke="#ececec" stroke-width="0.53"/><path d="M941.6,266.4 Q932.1,276.4 928.5,278.6" stroke="#dcdcdc" stroke-width="0.39"/><path d="M880.9,302.4 Q876.6,302.6 881.4,309.4" stroke="#ececec" stroke-width="0.34"/><path d="M897.2,284.3 Q901.4,290.0 905.8,298.4" stroke="#c8c8c8" stroke-width="0.36"/><path d="M895.0,308.0 Q896.1,311.7 888.9,305.6" stroke="#ececec" stroke-width="0.38"/><path d="M877.1,317.8 Q875.0,312.9 878.7,298.9" stroke="#dcdcdc" stroke-width="0.31"/><path d="M960.1,296.3 Q969.9,291.1 971.4,295.1" stroke="#c8c8c8" stroke-width="0.40"/><path d="M919.1,319.2 Q928.2,325.6 930.4,331.1" stroke="#b8b8b8" stroke-width="0.31"/><path d="M963.9,296.6 Q968.0,292.8 972.4,296.0" stroke="#dcdcdc" stroke-width="0.38"/><path d="M931.1,278.4 Q928.4,289.2 927.4,295.6" stroke="#c8c8c8" stroke-width="0.48"/><path d="M956.6,298.0 Q953.5,290.0 943.2,290.2" stroke="#b8b8b8" stroke-width="0.49"/><path d="M940.2,297.4 Q933.8,287.6 930.8,279.0" stroke="#ececec" stroke-width="0.47"/><path d="M894.4,303.3 Q896.4,306.7 906.3,307.0" stroke="#dcdcdc" stroke-width="0.47"/><path d="M952.4,303.4 Q958.2,295.9 962.1,287.7" stroke="#c8c8c8" stroke-width="0.38"/><path d="M928.9,296.8 Q927.0,293.0 915.3,290.6" stroke="#ececec" stroke-width="0.37"/><path d="M955.3,313.7 Q948.4,307.0 947.6,308.9" stroke="#c8c8c8" stroke-width="0.50"/><path d="M933.3,293.1 Q931.1,300.4 923.7,305.0" stroke="#dcdcdc" stroke-width="0.31"/><path d="M951.9,285.6 Q950.5,278.4 948.4,274.7" stroke="#c8c8c8" stroke-width="0.38"/><path d="M963.8,277.8 Q969.6,285.6 973.0,296.8" stroke="#dcdcdc" stroke-width="0.42"/><path d="M919.8,278.8 Q919.4,277.2 912.9,282.7" stroke="#ececec" stroke-width="0.31"/><path d="M900.1,293.7 Q904.3,291.1 908.3,287.9" stroke="#ececec" stroke-width="0.45"/><path d="M924.1,294.2 Q914.3,299.0 911.9,310.3" stroke="#c8c8c8" stroke-width="0.48"/><path d="M937.6,286.6 Q938.2,287.0 929.6,294.0" stroke="#dcdcdc" stroke-width="0.41"/><path d="M911.1,308.1 Q920.8,307.2 931.0,307.8" stroke="#b8b8b8" stroke-width="0.51"/><path d="M901.6,266.4 Q905.9,273.6 908.2,286.4" stroke="#ececec" stroke-width="0.33"/><path d="M960.8,273.1 Q967.9,270.5 968.3,273.1" stroke="#dcdcdc" stroke-width="0.51"/><path d="M945.3,298.9 Q944.7,309.4 953.0,313.0" stroke="#dcdcdc" stroke-width="0.37"/><path d="M889.1,314.5 Q886.5,318.6 888.9,332.2" stroke="#ececec" stroke-width="0.36"/><path d="M885.4,282.9 Q889.9,281.9 892.9,281.0" stroke="#dcdcdc" stroke-width="0.39"/><path d="M901.0,275.4 Q896.6,263.4 896.7,254.9" stroke="#ececec" stroke-width="0.37"/><path d="M926.1,306.5 Q929.5,309.0 932.6,313.5" stroke="#b8b8b8" stroke-width="0.53"/><path d="M954.2,296.2 Q968.0,299.7 975.0,300.1" stroke="#dcdcdc" stroke-width="0.35"/><path d="M957.0,295.3 Q955.3,306.8 956.1,308.6" stroke="#b8b8b8" stroke-width="0.41"/><path d="M874.6,306.3 Q877.3,301.8 880.7,306.6" stroke="#b8b8b8" stroke-width="0.40"/><path d="M952.2,272.2 Q946.1,275.0 934.1,279.8" stroke="#ececec" stroke-width="0.33"/><path d="M940.5,297.9 Q948.4,300.9 958.4,309.0" stroke="#dcdcdc" stroke-width="0.39"/><path d="M901.3,316.8 Q908.1,309.7 916.1,304.3" stroke="#c8c8c8" stroke-width="0.34"/><path d="M897.0,278.4 Q894.1,280.8 885.0,274.3" stroke="#ececec" stroke-width="0.38"/><path d="M885.1,289.7 Q881.7,297.2 869.5,296.1" stroke="#b8b8b8" stroke-width="0.42"/><path d="M876.3,266.3 Q878.8,256.3 884.7,253.6" stroke="#ececec" stroke-width="0.42"/><path d="M885.9,296.6 Q888.1,285.0 882.2,281.9" stroke="#ececec" stroke-width="0.51"/><path d="M946.1,317.0 Q943.9,314.3 936.2,320.0" stroke="#c8c8c8" stroke-width="0.30"/><path d="M879.0,286.0 Q882.0,290.0 892.2,286.1" stroke="#ececec" stroke-width="0.55"/><path d="M923.4,321.1 Q912.5,323.1 910.5,332.2" stroke="#ececec" stroke-width="0.35"/><path d="M910.1,284.8 Q914.0,291.2 910.2,303.3" stroke="#c8c8c8" stroke-width="0.47"/><path d="M922.4,323.7 Q913.5,318.2 901.9,317.8" stroke="#b8b8b8" stroke-width="0.31"/><path d="M914.3,272.2 Q905.3,273.6 901.9,278.0" stroke="#ececec" stroke-width="0.32"/><path d="M874.8,304.0 Q875.4,305.5 868.1,304.8" stroke="#ececec" stroke-width="0.50"/><path d="M923.5,299.0 Q916.2,305.1 915.3,310.8" stroke="#b8b8b8" stroke-width="0.38"/><path d="M883.7,300.4 Q881.0,300.1 874.5,299.8" stroke="#ececec" stroke-width="0.41"/><path d="M893.6,265.3 Q885.7,267.5 882.1,277.9" stroke="#c8c8c8" stroke-width="0.45"/><path d="M897.1,277.0 Q890.7,274.9 890.8,279.4" stroke="#c8c8c8" stroke-width="0.31"/><path d="M946.3,319.8 Q949.9,326.9 955.1,325.3" stroke="#ececec" stroke-width="0.36"/><path d="M878.7,264.0 Q872.6,265.8 858.7,258.5" stroke="#c8c8c8" stroke-width="0.47"/><path d="M911.1,311.5 Q913.7,323.9 911.5,327.0" stroke="#b8b8b8" stroke-width="0.41"/><path d="M891.2,292.3 Q893.9,285.4 891.7,277.6" stroke="#c8c8c8" stroke-width="0.45"/><path d="M953.2,274.7 Q960.1,274.1 965.5,267.7" stroke="#ececec" stroke-width="0.41"/><path d="M936.7,305.0 Q933.4,308.0 923.8,303.4" stroke="#ececec" stroke-width="0.39"/><path d="M935.5,296.4 Q935.8,303.8 936.7,316.0" stroke="#ececec" stroke-width="0.48"/><path d="M875.0,269.3 Q874.3,265.5 868.0,264.9" stroke="#dcdcdc" stroke-width="0.39"/><path d="M910.9,267.2 Q913.9,265.3 920.9,258.8" stroke="#b8b8b8" stroke-width="0.40"/><path d="M925.0,320.1 Q925.4,319.2 935.7,319.3" stroke="#c8c8c8" stroke-width="0.49"/><path d="M900.9,271.6 Q908.1,270.5 906.8,269.6" stroke="#c8c8c8" stroke-width="0.55"/><path d="M950.3,320.1 Q956.0,318.6 951.8,313.7" stroke="#b8b8b8" stroke-width="0.38"/><path d="M901.4,309.3 Q904.2,308.1 897.9,304.2" stroke="#dcdcdc" stroke-width="0.48"/><path d="M940.7,264.2 Q934.8,256.3 923.1,252.9" stroke="#b8b8b8" stroke-width="0.53"/><path d="M916.7,287.0 Q924.5,285.2 928.6,274.8" stroke="#ececec" stroke-width="0.36"/><path d="M885.0,321.3 Q884.7,323.7 888.2,335.7" stroke="#c8c8c8" stroke-width="0.55"/><path d="M942.9,284.3 Q946.8,283.7 960.4,291.9" stroke="#ececec" stroke-width="0.38"/><path d="M959.5,318.8 Q951.6,310.4 941.9,308.6" stroke="#ececec" stroke-width="0.31"/><path d="M915.5,320.9 Q921.3,315.8 935.1,311.9" stroke="#c8c8c8" stroke-width="0.34"/><path d="M948.0,320.0 Q948.6,330.9 948.2,334.9" stroke="#ececec" stroke-width="0.48"/><path d="M946.1,273.6 Q952.6,268.9 953.3,272.7" stroke="#c8c8c8" stroke-width="0.45"/><path d="M917.5,306.2 Q910.4,311.1 910.0,318.4" stroke="#ececec" stroke-width="0.51"/><path d="M874.8,284.4 Q868.0,281.6 868.0,282.1" stroke="#c8c8c8" stroke-width="0.49"/><path d="M904.3,323.4 Q913.7,323.9 918.9,333.6" stroke="#ececec" stroke-width="0.51"/><path d="M889.5,274.8 Q891.5,286.4 893.4,288.2" stroke="#dcdcdc" stroke-width="0.44"/><path d="M892.7,281.7 Q898.7,276.7 895.9,274.8" stroke="#c8c8c8" stroke-width="0.47"/><path d="M952.1,321.9 Q958.7,328.0 957.1,332.0" stroke="#c8c8c8" stroke-width="0.43"/><path d="M883.5,312.1 Q881.9,315.8 884.0,319.9" stroke="#c8c8c8" stroke-width="0.53"/><path d="M913.2,298.1 Q906.2,297.4 903.9,306.5" stroke="#ececec" stroke-width="0.48"/><path d="M900.5,304.7 Q906.6,306.8 907.9,304.8" stroke="#b8b8b8" stroke-width="0.40"/><path d="M891.2,287.6 Q902.0,295.2 911.1,292.9" stroke="#b8b8b8" stroke-width="0.37"/><path d="M915.6,276.3 Q922.4,279.4 929.5,292.3" stroke="#b8b8b8" stroke-width="0.46"/><path d="M951.5,275.6 Q953.2,266.8 951.8,267.1" stroke="#ececec" stroke-width="0.32"/><path d="M953.8,270.6 Q952.9,270.1 956.6,278.1" stroke="#b8b8b8" stroke-width="0.39"/><path d="M954.9,287.2 Q960.2,298.0 956.3,306.3" stroke="#b8b8b8" stroke-width="0.49"/><path d="M918.4,319.3 Q919.8,317.9 924.1,315.6" stroke="#c8c8c8" stroke-width="0.52"/><path d="M878.7,301.5 Q875.0,300.6 872.3,297.7" stroke="#ececec" stroke-width="0.37"/><path d="M916.3,277.8 Q915.0,271.2 912.2,262.9" stroke="#ececec" stroke-width="0.43"/><path d="M942.1,300.3 Q933.0,306.2 932.9,302.4" stroke="#ececec" stroke-width="0.54"/><path d="M915.7,297.6 Q913.4,296.1 903.6,286.6" stroke="#ececec" stroke-width="0.50"/><path d="M911.4,284.1 Q914.5,281.8 914.7,270.7" stroke="#b8b8b8" stroke-width="0.43"/><path d="M928.4,277.9 Q925.5,266.1 925.3,257.1" stroke="#dcdcdc" stroke-width="0.55"/><path d="M883.4,301.6 Q892.9,307.5 893.8,312.0" stroke="#dcdcdc" stroke-width="0.37"/><path d="M888.3,282.6 Q889.3,284.7 890.3,288.9" stroke="#ececec" stroke-width="0.34"/><path d="M893.0,294.7 Q886.8,298.8 886.4,310.3" stroke="#ececec" stroke-width="0.55"/><path d="M910.2,290.8 Q902.9,281.3 899.9,272.4" stroke="#b8b8b8" stroke-width="0.53"/><path d="M903.0,280.0 Q907.5,290.4 906.3,293.0" stroke="#b8b8b8" stroke-width="0.36"/><path d="M894.3,314.9 Q896.1,308.4 901.3,301.0" stroke="#b8b8b8" stroke-width="0.49"/><path d="M938.1,310.0 Q937.0,311.1 945.9,303.4" stroke="#c8c8c8" stroke-width="0.44"/><path d="M898.4,275.7 Q895.0,272.0 883.5,274.8" stroke="#b8b8b8" stroke-width="0.32"/><path d="M940.3,298.4 Q946.3,296.8 945.0,302.5" stroke="#c8c8c8" stroke-width="0.54"/><path d="M918.0,283.9 Q913.2,279.7 911.5,283.1" stroke="#b8b8b8" stroke-width="0.54"/><path d="M962.5,297.7 Q966.0,294.3 966.5,282.7" stroke="#b8b8b8" stroke-width="0.45"/><path d="M924.8,276.7 Q922.6,271.4 922.4,265.5" stroke="#c8c8c8" stroke-width="0.43"/><path d="M919.1,278.4 Q930.5,279.2 938.5,285.8" stroke="#ececec" stroke-width="0.42"/><path d="M898.4,305.8 Q891.8,312.5 892.8,317.2" stroke="#ececec" stroke-width="0.49"/><path d="M888.2,275.2 Q897.6,285.4 899.3,287.0" stroke="#ececec" stroke-width="0.37"/><path d="M911.0,263.5 Q912.2,271.3 918.9,274.1" stroke="#c8c8c8" stroke-width="0.45"/><path d="M936.7,281.7 Q930.3,285.0 929.5,279.0" stroke="#c8c8c8" stroke-width="0.41"/><path d="M960.9,281.0 Q953.0,288.1 949.3,293.2" stroke="#dcdcdc" stroke-width="0.31"/><path d="M883.9,294.8 Q879.3,302.5 882.2,302.8" stroke="#dcdcdc" stroke-width="0.50"/><path d="M935.8,278.5 Q942.6,275.6 954.7,282.1" stroke="#dcdcdc" stroke-width="0.43"/><path d="M950.5,323.3 Q948.7,323.1 956.5,318.9" stroke="#b8b8b8" stroke-width="0.54"/><path d="M945.4,285.3 Q937.9,286.6 928.3,289.5" stroke="#c8c8c8" stroke-width="0.35"/><path d="M922.4,267.6 Q916.2,263.1 917.1,258.1" stroke="#c8c8c8" stroke-width="0.32"/><path d="M877.3,270.6 Q883.3,268.0 895.4,258.2" stroke="#ececec" stroke-width="0.32"/><path d="M962.3,305.1 Q960.5,306.1 966.5,310.1" stroke="#b8b8b8" stroke-width="0.50"/><path d="M903.9,312.2 Q899.8,307.1 898.0,310.5" stroke="#b8b8b8" stroke-width="0.33"/><path d="M917.4,317.6 Q912.2,310.5 907.8,306.2" stroke="#dcdcdc" stroke-width="0.48"/><path d="M898.5,295.0 Q910.8,291.5 915.9,296.6" stroke="#dcdcdc" stroke-width="0.51"/><path d="M893.4,314.7 Q894.4,307.9 900.7,305.1" stroke="#c8c8c8" stroke-width="0.43"/><path d="M875.5,309.4 Q867.1,310.6 856.7,320.0" stroke="#b8b8b8" stroke-width="0.53"/><path d="M925.7,321.5 Q914.5,322.0 912.8,326.1" stroke="#b8b8b8" stroke-width="0.45"/><path d="M933.9,279.6 Q927.0,276.5 925.1,273.4" stroke="#c8c8c8" stroke-width="0.45"/><path d="M918.4,266.0 Q912.4,265.5 907.9,263.7" stroke="#dcdcdc" stroke-width="0.51"/><path d="M912.9,313.4 Q914.6,303.0 917.9,301.1" stroke="#b8b8b8" stroke-width="0.49"/><path d="M915.4,306.0 Q912.1,304.8 904.2,301.9" stroke="#b8b8b8" stroke-width="0.52"/><path d="M886.2,265.8 Q890.4,266.1 899.1,257.3" stroke="#c8c8c8" stroke-width="0.52"/><path d="M892.0,302.5 Q888.9,296.0 882.6,291.5" stroke="#dcdcdc" stroke-width="0.47"/><path d="M931.3,269.6 Q933.0,272.1 940.4,268.4" stroke="#dcdcdc" stroke-width="0.50"/><path d="M886.1,316.9 Q881.4,319.3 872.9,320.9" stroke="#dcdcdc" stroke-width="0.49"/><path d="M911.7,283.5 Q915.5,277.1 919.5,277.7" stroke="#b8b8b8" stroke-width="0.39"/><path d="M894.8,278.1 Q901.2,276.1 902.9,276.9" stroke="#dcdcdc" stroke-width="0.43"/><path d="M875.6,280.1 Q871.1,272.0 872.9,268.5" stroke="#b8b8b8" stroke-width="0.42"/><path d="M944.8,307.4 Q946.9,306.7 954.2,296.2" stroke="#c8c8c8" stroke-width="0.50"/><path d="M939.0,319.8 Q931.7,323.0 929.2,331.5" stroke="#dcdcdc" stroke-width="0.31"/><path d="M878.5,313.5 Q881.9,325.1 879.8,330.8" stroke="#ececec" stroke-width="0.47"/><path d="M893.1,308.2 Q894.4,301.1 899.4,302.2" stroke="#c8c8c8" stroke-width="0.54"/><path d="M925.3,306.2 Q934.8,306.5 940.1,306.2" stroke="#dcdcdc" stroke-width="0.32"/><path d="M882.3,315.9 Q881.7,323.4 887.4,325.9" stroke="#b8b8b8" stroke-width="0.42"/><path d="M912.7,301.3 Q913.5,310.2 907.0,315.7" stroke="#dcdcdc" stroke-width="0.32"/><path d="M909.3,307.7 Q913.7,308.4 915.7,306.2" stroke="#c8c8c8" stroke-width="0.54"/><path d="M903.4,273.8 Q894.8,279.9 895.2,276.2" stroke="#c8c8c8" stroke-width="0.45"/><path d="M883.0,314.2 Q877.3,323.8 878.6,333.2" stroke="#dcdcdc" stroke-width="0.44"/><path d="M903.8,320.8 Q898.6,322.2 898.8,315.3" stroke="#c8c8c8" stroke-width="0.53"/><path d="M956.1,307.1 Q950.2,301.2 947.5,295.8" stroke="#b8b8b8" stroke-width="0.54"/><path d="M897.5,311.7 Q908.8,305.8 912.1,301.6" stroke="#ececec" stroke-width="0.36"/><path d="M919.6,309.5 Q930.0,303.0 934.9,300.5" stroke="#dcdcdc" stroke-width="0.42"/><path d="M884.9,309.8 Q889.2,307.3 892.2,299.3" stroke="#ececec" stroke-width="0.41"/><path d="M960.6,311.5 Q964.6,313.6 975.7,310.3" stroke="#ececec" stroke-width="0.35"/><path d="M941.8,307.2 Q947.9,304.6 961.0,307.6" stroke="#ececec" stroke-width="0.42"/><path d="M904.7,270.0 Q912.9,272.7 914.3,266.3" stroke="#b8b8b8" stroke-width="0.48"/><path d="M954.0,309.4 Q949.7,310.6 946.8,321.3" stroke="#dcdcdc" stroke-width="0.46"/><path d="M920.1,319.7 Q922.5,322.5 930.0,334.2" stroke="#c8c8c8" stroke-width="0.44"/><path d="M905.9,296.3 Q907.0,306.2 901.1,306.3" stroke="#c8c8c8" stroke-width="0.34"/><path d="M941.2,305.0 Q934.7,309.7 935.7,310.3" stroke="#dcdcdc" stroke-width="0.38"/><path d="M911.6,311.4 Q908.8,309.9 905.8,299.8" stroke="#b8b8b8" stroke-width="0.34"/><path d="M939.1,289.0 Q939.3,285.2 930.7,291.1" stroke="#dcdcdc" stroke-width="0.44"/><path d="M954.2,291.8 Q953.2,289.7 960.1,283.7" stroke="#ececec" stroke-width="0.34"/><path d="M917.7,270.6 Q909.2,270.1 901.4,279.2" stroke="#b8b8b8" stroke-width="0.31"/><path d="M934.0,295.4 Q938.2,296.8 947.9,288.3" stroke="#ececec" stroke-width="0.50"/><path d="M897.0,323.7 Q885.6,329.1 879.8,326.9" stroke="#ececec" stroke-width="0.55"/><path d="M954.3,308.5 Q961.9,318.3 963.0,323.8" stroke="#dcdcdc" stroke-width="0.44"/><path d="M882.4,284.6 Q879.7,277.8 879.9,273.4" stroke="#c8c8c8" stroke-width="0.53"/><path d="M888.1,276.6 Q890.0,286.5 887.2,289.7" stroke="#ececec" stroke-width="0.48"/><path d="M906.5,288.1 Q915.7,294.6 915.8,304.6" stroke="#dcdcdc" stroke-width="0.51"/><path d="M953.0,286.7 Q937.5,288.0 931.6,284.8" stroke="#ececec" stroke-width="0.42"/><path d="M901.7,286.0 Q899.7,295.2 893.4,302.6" stroke="#dcdcdc" stroke-width="0.52"/><path d="M897.2,281.2 Q886.3,287.6 883.1,284.7" stroke="#b8b8b8" stroke-width="0.44"/><path d="M916.7,313.4 Q914.8,324.8 914.9,327.1" stroke="#c8c8c8" stroke-width="0.38"/><path d="M897.3,302.2 Q901.2,305.8 900.9,317.9" stroke="#dcdcdc" stroke-width="0.35"/><path d="M924.3,309.6 Q934.2,304.0 939.9,304.8" stroke="#c8c8c8" stroke-width="0.43"/><path d="M959.7,321.9 Q962.0,327.3 963.6,334.2" stroke="#c8c8c8" stroke-width="0.53"/><path d="M930.4,267.7 Q935.8,276.2 940.5,278.2" stroke="#ececec" stroke-width="0.42"/><path d="M888.7,319.7 Q874.3,322.2 868.8,321.1" stroke="#b8b8b8" stroke-width="0.31"/><path d="M926.8,300.6 Q933.4,300.2 943.8,304.5" stroke="#dcdcdc" stroke-width="0.49"/><path d="M919.8,272.6 Q916.7,272.1 910.2,268.9" stroke="#ececec" stroke-width="0.39"/><path d="M943.7,298.4 Q948.5,305.4 950.8,305.5" stroke="#dcdcdc" stroke-width="0.51"/><path d="M927.7,277.7 Q928.9,273.5 934.7,269.5" stroke="#dcdcdc" stroke-width="0.30"/><path d="M884.5,274.9 Q882.4,262.4 888.6,256.7" stroke="#c8c8c8" stroke-width="0.36"/><path d="M931.0,292.7 Q933.2,289.2 929.9,285.4" stroke="#dcdcdc" stroke-width="0.48"/><path d="M928.3,323.7 Q922.5,327.4 920.3,340.1" stroke="#c8c8c8" stroke-width="0.51"/><path d="M921.7,268.7 Q923.6,277.4 926.9,281.8" stroke="#ececec" stroke-width="0.34"/><path d="M900.4,322.0 Q904.7,326.8 906.7,336.7" stroke="#dcdcdc" stroke-width="0.36"/><path d="M952.3,265.9 Q954.1,261.7 946.1,252.9" stroke="#dcdcdc" stroke-width="0.34"/><path d="M879.7,263.7 Q883.4,255.7 878.9,257.4" stroke="#c8c8c8" stroke-width="0.32"/><path d="M949.1,265.9 Q955.1,270.8 958.8,284.8" stroke="#ececec" stroke-width="0.34"/><path d="M933.5,270.6 Q935.7,269.8 942.6,270.0" stroke="#dcdcdc" stroke-width="0.55"/><path d="M924.0,269.8 Q921.5,261.0 917.3,254.6" stroke="#dcdcdc" stroke-width="0.37"/><path d="M951.1,283.2 Q943.9,275.5 946.2,266.1" stroke="#b8b8b8" stroke-width="0.40"/><path d="M880.1,323.5 Q880.8,323.7 888.5,333.7" stroke="#dcdcdc" stroke-width="0.33"/><path d="M925.3,320.5 Q915.5,317.3 910.0,310.6" stroke="#c8c8c8" stroke-width="0.43"/><path d="M891.3,293.4 Q891.3,295.6 883.0,289.5" stroke="#c8c8c8" stroke-width="0.34"/><path d="M884.1,263.3 Q877.0,260.2 870.7,256.1" stroke="#c8c8c8" stroke-width="0.52"/><path d="M876.7,305.7 Q867.8,299.9 858.8,296.8" stroke="#dcdcdc" stroke-width="0.35"/><path d="M958.0,275.0 Q952.9,274.0 949.0,264.4" stroke="#c8c8c8" stroke-width="0.38"/><path d="M901.9,267.0 Q903.6,265.2 904.4,255.4" stroke="#c8c8c8" stroke-width="0.46"/><path d="M913.0,313.8 Q914.5,321.9 921.5,324.0" stroke="#dcdcdc" stroke-width="0.38"/><path d="M894.0,300.6 Q893.7,303.6 885.2,315.3" stroke="#c8c8c8" stroke-width="0.31"/><path d="M911.7,322.3 Q908.8,333.5 903.4,335.1" stroke="#b8b8b8" stroke-width="0.42"/><path d="M939.2,278.9 Q937.5,277.1 942.5,270.7" stroke="#ececec" stroke-width="0.43"/><path d="M910.5,284.7 Q914.1,291.2 922.9,298.3" stroke="#b8b8b8" stroke-width="0.42"/><path d="M916.4,322.1 Q910.7,332.0 912.2,333.5" stroke="#b8b8b8" stroke-width="0.43"/><path d="M940.3,313.9 Q948.3,322.8 953.3,324.4" stroke="#b8b8b8" stroke-width="0.42"/><path d="M898.7,295.5 Q906.6,294.0 914.2,293.9" stroke="#c8c8c8" stroke-width="0.43"/><path d="M877.8,272.6 Q872.2,266.2 873.9,262.4" stroke="#c8c8c8" stroke-width="0.49"/><path d="M964.4,314.0 Q961.3,312.9 956.0,310.7" stroke="#ececec" stroke-width="0.40"/><path d="M895.9,303.5 Q893.4,299.0 887.7,285.3" stroke="#ececec" stroke-width="0.37"/><path d="M939.5,306.8 Q932.1,304.3 924.3,293.7" stroke="#b8b8b8" stroke-width="0.31"/><path d="M897.4,300.3 Q902.0,297.0 916.4,296.3" stroke="#c8c8c8" stroke-width="0.48"/><path d="M910.7,300.3 Q915.7,297.5 920.9,303.8" stroke="#ececec" stroke-width="0.34"/><path d="M920.4,271.3 Q914.6,267.3 902.1,261.3" stroke="#dcdcdc" stroke-width="0.50"/><path d="M888.6,295.7 Q881.6,291.5 882.4,287.5" stroke="#c8c8c8" stroke-width="0.30"/><path d="M891.9,267.1 Q884.7,262.6 882.6,250.1" stroke="#c8c8c8" stroke-width="0.51"/><path d="M955.7,274.3 Q959.2,266.7 959.0,262.9" stroke="#b8b8b8" stroke-width="0.52"/><path d="M901.6,265.6 Q908.1,277.5 906.7,280.9" stroke="#b8b8b8" stroke-width="0.51"/><path d="M908.7,306.9 Q907.1,308.8 906.6,301.1" stroke="#b8b8b8" stroke-width="0.49"/><path d="M876.7,309.1 Q880.9,300.3 882.2,291.9" stroke="#b8b8b8" stroke-width="0.53"/><path d="M931.2,309.1 Q933.7,316.3 941.1,321.9" stroke="#b8b8b8" stroke-width="0.37"/><path d="M908.3,302.2 Q905.3,307.2 895.0,311.3" stroke="#c8c8c8" stroke-width="0.53"/><path d="M875.2,307.5 Q878.4,300.5 885.8,303.1" stroke="#ececec" stroke-width="0.39"/><path d="M948.4,303.5 Q946.7,296.3 941.4,292.4" stroke="#c8c8c8" stroke-width="0.43"/></g>
<g clip-path="url(#disct)" fill="none"><path d="M952.3,291.1 Q959.5,313.8 958.0,319.8" stroke="#eeeeee" stroke-width="0.62" opacity="0.85"/><path d="M907.5,267.6 Q900.0,256.3 875.3,256.2" stroke="#eeeeee" stroke-width="0.65" opacity="0.85"/><path d="M889.8,318.3 Q899.1,299.1 905.5,290.7" stroke="#eeeeee" stroke-width="0.52" opacity="0.85"/><path d="M895.9,322.7 Q897.6,307.8 906.3,300.1" stroke="#eeeeee" stroke-width="0.66" opacity="0.85"/><path d="M933.4,301.1 Q948.6,286.6 964.8,277.2" stroke="#eeeeee" stroke-width="0.46" opacity="0.85"/><path d="M912.8,323.1 Q924.6,313.3 919.0,307.4" stroke="#eeeeee" stroke-width="0.68" opacity="0.85"/><path d="M879.5,290.6 Q893.8,295.7 897.2,282.9" stroke="#eeeeee" stroke-width="0.51" opacity="0.85"/><path d="M931.2,264.1 Q922.4,252.6 905.1,246.5" stroke="#eeeeee" stroke-width="0.55" opacity="0.85"/><path d="M887.7,270.1 Q881.1,269.7 875.9,254.5" stroke="#eeeeee" stroke-width="0.49" opacity="0.85"/><path d="M903.3,322.4 Q907.3,311.8 912.8,292.8" stroke="#eeeeee" stroke-width="0.42" opacity="0.85"/><path d="M895.8,287.5 Q891.3,277.1 872.4,265.3" stroke="#eeeeee" stroke-width="0.42" opacity="0.85"/><path d="M889.7,308.3 Q876.8,325.9 881.5,325.5" stroke="#eeeeee" stroke-width="0.62" opacity="0.85"/><path d="M928.0,323.0 Q916.3,318.7 915.2,332.1" stroke="#eeeeee" stroke-width="0.53" opacity="0.85"/><path d="M933.5,294.4 Q937.0,268.6 922.0,259.2" stroke="#eeeeee" stroke-width="0.59" opacity="0.85"/><path d="M877.9,282.8 Q871.3,289.0 884.0,310.5" stroke="#eeeeee" stroke-width="0.64" opacity="0.85"/><path d="M918.4,291.8 Q924.5,304.0 934.3,323.4" stroke="#eeeeee" stroke-width="0.62" opacity="0.85"/><path d="M883.2,300.5 Q889.9,291.4 885.8,263.5" stroke="#eeeeee" stroke-width="0.58" opacity="0.85"/><path d="M929.3,274.5 Q933.5,269.4 933.5,257.1" stroke="#eeeeee" stroke-width="0.61" opacity="0.85"/><path d="M932.0,313.3 Q922.1,317.0 903.8,313.3" stroke="#eeeeee" stroke-width="0.70" opacity="0.85"/><path d="M879.2,270.7 Q868.9,259.6 857.2,255.9" stroke="#eeeeee" stroke-width="0.62" opacity="0.85"/><path d="M883.0,314.9 Q858.5,324.8 846.7,325.1" stroke="#eeeeee" stroke-width="0.56" opacity="0.85"/><path d="M958.6,293.0 Q973.3,296.4 974.0,301.4" stroke="#eeeeee" stroke-width="0.53" opacity="0.85"/><path d="M899.0,281.7 Q888.1,267.9 873.4,263.1" stroke="#eeeeee" stroke-width="0.50" opacity="0.85"/><path d="M916.0,323.1 Q928.2,328.9 938.9,325.2" stroke="#eeeeee" stroke-width="0.46" opacity="0.85"/><path d="M936.0,277.1 Q943.9,256.4 952.4,248.9" stroke="#eeeeee" stroke-width="0.47" opacity="0.85"/><path d="M903.5,266.8 Q896.9,281.9 895.9,282.7" stroke="#eeeeee" stroke-width="0.58" opacity="0.85"/><path d="M918.1,292.5 Q907.3,278.3 913.3,262.8" stroke="#eeeeee" stroke-width="0.60" opacity="0.85"/><path d="M956.9,300.4 Q977.7,307.4 982.6,325.3" stroke="#eeeeee" stroke-width="0.61" opacity="0.85"/><path d="M962.3,290.5 Q968.8,286.0 982.8,283.6" stroke="#eeeeee" stroke-width="0.52" opacity="0.85"/><path d="M880.4,271.5 Q877.2,270.6 887.8,250.0" stroke="#eeeeee" stroke-width="0.45" opacity="0.85"/><path d="M934.7,304.8 Q930.8,294.5 926.1,290.4" stroke="#eeeeee" stroke-width="0.53" opacity="0.85"/><path d="M948.1,274.0 Q954.3,284.1 965.6,308.0" stroke="#eeeeee" stroke-width="0.57" opacity="0.85"/><path d="M935.6,318.5 Q941.3,338.6 937.0,340.1" stroke="#eeeeee" stroke-width="0.67" opacity="0.85"/><path d="M950.2,311.3 Q941.5,317.6 921.4,326.2" stroke="#eeeeee" stroke-width="0.53" opacity="0.85"/><path d="M956.7,321.9 Q940.5,301.6 930.0,293.9" stroke="#eeeeee" stroke-width="0.58" opacity="0.85"/><path d="M950.8,267.8 Q949.8,241.6 953.0,231.4" stroke="#eeeeee" stroke-width="0.46" opacity="0.85"/><path d="M926.3,299.4 Q927.7,317.5 909.2,320.8" stroke="#eeeeee" stroke-width="0.41" opacity="0.85"/><path d="M888.0,292.6 Q875.7,287.4 866.3,291.4" stroke="#eeeeee" stroke-width="0.51" opacity="0.85"/><path d="M886.2,265.5 Q868.7,247.8 871.0,248.7" stroke="#eeeeee" stroke-width="0.49" opacity="0.85"/><path d="M951.5,263.3 Q965.0,271.7 973.8,277.8" stroke="#eeeeee" stroke-width="0.59" opacity="0.85"/><path d="M898.9,278.9 Q916.1,264.9 916.6,246.3" stroke="#eeeeee" stroke-width="0.60" opacity="0.85"/><path d="M909.4,307.6 Q921.8,318.7 938.6,312.5" stroke="#eeeeee" stroke-width="0.68" opacity="0.85"/><path d="M907.2,272.2 Q884.6,270.8 880.8,266.3" stroke="#eeeeee" stroke-width="0.55" opacity="0.85"/><path d="M889.8,312.1 Q888.9,319.3 896.5,335.3" stroke="#eeeeee" stroke-width="0.63" opacity="0.85"/><path d="M945.5,266.1 Q960.9,273.3 979.2,267.4" stroke="#eeeeee" stroke-width="0.50" opacity="0.85"/><path d="M937.2,283.7 Q953.2,277.5 962.0,274.0" stroke="#eeeeee" stroke-width="0.52" opacity="0.85"/><path d="M957.5,293.5 Q949.7,270.0 961.6,263.9" stroke="#eeeeee" stroke-width="0.45" opacity="0.85"/><path d="M907.7,318.8 Q894.6,309.4 898.8,301.5" stroke="#eeeeee" stroke-width="0.49" opacity="0.85"/><path d="M933.5,301.4 Q934.8,292.8 941.3,271.9" stroke="#eeeeee" stroke-width="0.44" opacity="0.85"/><path d="M920.1,285.8 Q929.3,300.8 945.5,314.4" stroke="#eeeeee" stroke-width="0.43" opacity="0.85"/><path d="M926.8,266.4 Q911.0,260.9 908.9,263.2" stroke="#eeeeee" stroke-width="0.41" opacity="0.85"/><path d="M881.7,279.9 Q866.5,266.6 862.2,246.3" stroke="#eeeeee" stroke-width="0.67" opacity="0.85"/><path d="M932.7,284.3 Q933.2,258.1 940.8,250.0" stroke="#eeeeee" stroke-width="0.47" opacity="0.85"/><path d="M910.1,305.0 Q912.4,318.0 921.1,337.1" stroke="#eeeeee" stroke-width="0.58" opacity="0.85"/><path d="M922.9,268.1 Q912.6,249.9 905.3,238.2" stroke="#eeeeee" stroke-width="0.58" opacity="0.85"/><path d="M918.9,310.5 Q927.3,302.7 933.8,286.5" stroke="#eeeeee" stroke-width="0.51" opacity="0.85"/><path d="M909.9,274.4 Q895.9,262.3 890.2,264.4" stroke="#eeeeee" stroke-width="0.50" opacity="0.85"/><path d="M958.3,301.7 Q965.9,290.1 978.8,295.7" stroke="#eeeeee" stroke-width="0.44" opacity="0.85"/><path d="M916.4,285.1 Q920.7,288.9 923.3,303.3" stroke="#eeeeee" stroke-width="0.68" opacity="0.85"/><path d="M932.0,310.4 Q950.1,318.1 955.6,321.1" stroke="#eeeeee" stroke-width="0.63" opacity="0.85"/></g>
<ellipse cx="919.6" cy="293.3" rx="45.2" ry="30.6" fill="none" stroke="#6e6e6e" stroke-width="0.8"/>
<clipPath id="discbot"><ellipse cx="919.6" cy="293.3" rx="45.2" ry="30.6"/></clipPath>
<ellipse cx="923.2" cy="339.5" rx="60" ry="27" fill="#a6c6d4" opacity="0.5" clip-path="url(#discbot)"/>
<path d="M910.1,223 Q910.1,217.2 920,217.2 Q929.9,217.2 929.9,223 L929.9,236.5 Q929.9,242.3 920,242.3 Q910.1,242.3 910.1,236.5 Z" fill="#0d0d0d"/>
<ellipse cx="920" cy="230.2" rx="6.7" ry="2.4" fill="#fff"/>
<rect x="917.6" y="243.8" width="4.6" height="29" fill="#2d3b52"/>
<path d="M913,272.5 L927,272.5 L920,285 Z" fill="#2d3b52"/>
<rect x="918.2" y="329" width="4.6" height="26" fill="#2d3b52"/>
<path d="M913.6,354 L927.4,354 L920.5,368.6 Z" fill="#2d3b52"/>
<path d="M992.5,329 A55.7,31 0 0 1 1103.9,329 L1103.9,364.5 A55.7,36.5 0 0 1 992.5,364.5 Z" fill="#d9d9d9"/>
<ellipse cx="1048.2" cy="330" rx="53.7" ry="30" fill="#e6e6e6"/>
<path d="M993.0,350.1 L993.0,364.5 A55.2,36.5 0 0 0 1103.4,364.5 L1103.4,350.1 Z" fill="#a8c0ca"/>
<path d="M993.0,358.5 A55.2,36.5 0 0 0 1103.4,358.5 L1103.4,364.5 A55.2,36.5 0 0 1 993.0,364.5 Z" fill="#9fb6c0"/>
<path d="M993.0,364.5 A55.2,36.5 0 0 0 1103.4,364.5" fill="none" stroke="#c5cfd4" stroke-width="1.2"/>
<ellipse cx="1048.2" cy="350.1" rx="55.2" ry="37" fill="#b7d4e0"/>
<ellipse cx="1048.2" cy="354.1" rx="51.7" ry="34" fill="none" stroke="#a9c5d1" stroke-width="0.8"/>
<clipPath id="tm2"><ellipse cx="1049.2" cy="358.1" rx="46.2" ry="32"/></clipPath>
<g clip-path="url(#tm2)"><filter id="tfm2" color-interpolation-filters="sRGB" x="1003.0" y="326.1" width="92.4" height="64" filterUnits="userSpaceOnUse"><feTurbulence type="fractalNoise" baseFrequency="0.25" numOctaves="2" seed="5"/><feColorMatrix type="matrix" values="0.3 0 0 0 0.462  0.3 0 0 0 0.548  0.3 0 0 0 0.587  0 0 0 0 1"/></filter><rect x="1003.0" y="326.1" width="92.4" height="64" filter="url(#tfm2)"/></g>
<clipPath id="m2"><ellipse cx="1049.2" cy="358.1" rx="46.2" ry="32"/></clipPath><g clip-path="url(#m2)" fill="none"><path d="M1065.7,375.2 Q1059.4,371.9 1061.6,362.7" stroke="#d6e4e9" stroke-width="0.39"/><path d="M1008.7,326.8 Q999.1,324.5 988.3,327.2" stroke="#d6e4e9" stroke-width="0.21"/><path d="M1039.3,377.5 Q1034.5,369.7 1031.8,369.7" stroke="#b4c8d0" stroke-width="0.35"/><path d="M1024.2,329.0 Q1023.4,323.1 1017.7,311.1" stroke="#b4c8d0" stroke-width="0.21"/><path d="M1033.3,340.5 Q1030.1,335.0 1023.6,333.0" stroke="#8aa2ac" stroke-width="0.31"/><path d="M1064.7,350.8 Q1063.1,352.3 1070.1,346.1" stroke="#b4c8d0" stroke-width="0.36"/><path d="M1043.1,350.9 Q1030.9,353.7 1028.2,360.7" stroke="#d6e4e9" stroke-width="0.27"/><path d="M1070.7,342.3 Q1079.0,343.6 1082.5,347.1" stroke="#8aa2ac" stroke-width="0.27"/><path d="M1070.8,347.3 Q1062.7,352.8 1064.0,368.1" stroke="#c4d5dc" stroke-width="0.32"/><path d="M1029.5,352.6 Q1022.3,357.8 1021.3,362.1" stroke="#8aa2ac" stroke-width="0.21"/><path d="M1084.4,342.7 Q1087.5,348.4 1087.2,356.0" stroke="#8aa2ac" stroke-width="0.24"/><path d="M1031.7,338.9 Q1028.5,329.3 1031.7,328.4" stroke="#d6e4e9" stroke-width="0.28"/><path d="M1013.8,362.9 Q1020.3,372.2 1016.9,372.9" stroke="#8aa2ac" stroke-width="0.39"/><path d="M1043.0,342.5 Q1035.7,340.5 1021.8,347.0" stroke="#b4c8d0" stroke-width="0.32"/><path d="M1051.7,389.9 Q1055.4,386.8 1062.6,393.4" stroke="#b4c8d0" stroke-width="0.27"/><path d="M1087.8,359.5 Q1092.2,363.8 1098.9,377.8" stroke="#c4d5dc" stroke-width="0.22"/><path d="M1032.8,348.2 Q1028.8,343.9 1031.7,335.9" stroke="#b4c8d0" stroke-width="0.34"/><path d="M1067.4,335.0 Q1078.6,330.4 1081.2,319.4" stroke="#d6e4e9" stroke-width="0.34"/><path d="M1014.5,367.3 Q1009.6,368.1 1008.5,377.3" stroke="#b4c8d0" stroke-width="0.20"/><path d="M1050.4,327.6 Q1058.7,332.1 1057.7,340.3" stroke="#8aa2ac" stroke-width="0.25"/><path d="M1086.5,326.6 Q1089.8,330.7 1088.2,337.4" stroke="#c4d5dc" stroke-width="0.27"/><path d="M1014.6,355.2 Q1017.0,359.0 1018.9,361.3" stroke="#b4c8d0" stroke-width="0.22"/><path d="M1030.1,383.6 Q1024.1,387.6 1013.9,393.7" stroke="#c4d5dc" stroke-width="0.37"/><path d="M1086.5,337.0 Q1083.1,339.3 1074.0,348.8" stroke="#8aa2ac" stroke-width="0.34"/><path d="M1010.9,328.8 Q1007.4,328.7 1004.9,321.3" stroke="#c4d5dc" stroke-width="0.33"/><path d="M1095.1,387.6 Q1102.7,389.4 1112.2,398.3" stroke="#d6e4e9" stroke-width="0.22"/><path d="M1010.3,355.9 Q1003.4,361.7 997.1,364.8" stroke="#b4c8d0" stroke-width="0.28"/><path d="M1018.9,381.8 Q1016.7,385.9 1020.7,388.2" stroke="#8aa2ac" stroke-width="0.22"/><path d="M1050.5,362.9 Q1060.4,364.4 1065.7,370.5" stroke="#8aa2ac" stroke-width="0.32"/><path d="M1021.7,328.5 Q1027.6,317.0 1031.6,311.5" stroke="#c4d5dc" stroke-width="0.39"/><path d="M1056.9,383.1 Q1058.4,388.6 1051.1,386.9" stroke="#8aa2ac" stroke-width="0.21"/><path d="M1036.6,388.5 Q1039.6,397.4 1032.9,397.9" stroke="#8aa2ac" stroke-width="0.35"/><path d="M1052.5,380.7 Q1060.8,383.6 1073.6,384.1" stroke="#8aa2ac" stroke-width="0.38"/><path d="M1056.8,328.4 Q1067.4,329.7 1074.0,336.6" stroke="#c4d5dc" stroke-width="0.25"/><path d="M1093.7,330.8 Q1089.5,332.9 1087.2,328.9" stroke="#b4c8d0" stroke-width="0.34"/><path d="M1046.3,374.0 Q1051.9,375.3 1059.4,375.0" stroke="#d6e4e9" stroke-width="0.26"/><path d="M1039.5,368.0 Q1044.1,362.1 1057.0,362.3" stroke="#8aa2ac" stroke-width="0.32"/><path d="M1022.8,351.0 Q1021.3,355.2 1018.9,367.8" stroke="#8aa2ac" stroke-width="0.33"/><path d="M1094.7,343.4 Q1087.8,345.7 1073.6,345.2" stroke="#d6e4e9" stroke-width="0.37"/><path d="M1010.4,344.1 Q1010.2,340.6 1016.3,331.6" stroke="#c4d5dc" stroke-width="0.37"/><path d="M1045.6,367.7 Q1050.0,359.3 1057.8,356.5" stroke="#8aa2ac" stroke-width="0.22"/><path d="M1088.9,389.7 Q1088.5,399.4 1092.4,403.2" stroke="#b4c8d0" stroke-width="0.21"/><path d="M1051.1,385.6 Q1054.6,388.3 1065.0,399.7" stroke="#d6e4e9" stroke-width="0.26"/><path d="M1091.2,328.1 Q1102.0,324.9 1106.3,320.3" stroke="#b4c8d0" stroke-width="0.32"/><path d="M1067.1,362.0 Q1072.9,371.4 1068.9,378.6" stroke="#8aa2ac" stroke-width="0.24"/><path d="M1083.3,333.2 Q1076.3,341.4 1069.9,342.2" stroke="#c4d5dc" stroke-width="0.20"/><path d="M1077.9,376.8 Q1080.6,383.5 1078.8,382.8" stroke="#c4d5dc" stroke-width="0.33"/><path d="M1018.9,370.3 Q1024.5,368.4 1023.8,366.5" stroke="#8aa2ac" stroke-width="0.31"/><path d="M1052.5,328.4 Q1045.8,318.2 1034.9,315.9" stroke="#b4c8d0" stroke-width="0.22"/><path d="M1041.7,338.9 Q1030.8,344.3 1020.6,344.1" stroke="#b4c8d0" stroke-width="0.38"/><path d="M1081.5,345.0 Q1088.8,349.8 1088.4,349.3" stroke="#8aa2ac" stroke-width="0.22"/><path d="M1056.2,381.7 Q1061.7,382.7 1064.3,386.4" stroke="#b4c8d0" stroke-width="0.24"/><path d="M1054.1,367.7 Q1047.0,372.8 1045.1,386.8" stroke="#b4c8d0" stroke-width="0.27"/><path d="M1037.4,329.1 Q1038.6,331.9 1034.6,334.7" stroke="#c4d5dc" stroke-width="0.22"/><path d="M1016.5,370.9 Q1013.8,358.5 1016.4,349.2" stroke="#8aa2ac" stroke-width="0.34"/><path d="M1032.7,355.3 Q1024.4,361.7 1013.3,365.4" stroke="#b4c8d0" stroke-width="0.28"/><path d="M1066.5,339.3 Q1068.7,342.4 1074.3,339.5" stroke="#b4c8d0" stroke-width="0.25"/><path d="M1047.5,360.7 Q1047.5,361.7 1038.9,363.7" stroke="#d6e4e9" stroke-width="0.34"/><path d="M1014.9,384.9 Q1003.8,389.5 998.9,390.9" stroke="#b4c8d0" stroke-width="0.26"/><path d="M1084.8,353.1 Q1078.0,344.8 1076.3,344.6" stroke="#d6e4e9" stroke-width="0.32"/><path d="M1029.3,339.7 Q1040.2,336.2 1043.5,333.0" stroke="#d6e4e9" stroke-width="0.26"/><path d="M1028.6,356.6 Q1026.3,354.5 1029.0,345.9" stroke="#8aa2ac" stroke-width="0.30"/><path d="M1059.3,387.8 Q1061.8,393.5 1064.6,393.4" stroke="#c4d5dc" stroke-width="0.22"/><path d="M1083.7,336.9 Q1085.5,341.9 1083.8,346.9" stroke="#b4c8d0" stroke-width="0.34"/><path d="M1073.5,351.8 Q1074.4,351.7 1083.8,346.0" stroke="#8aa2ac" stroke-width="0.24"/><path d="M1014.8,379.7 Q1013.1,391.4 1018.8,398.4" stroke="#c4d5dc" stroke-width="0.37"/><path d="M1007.7,335.6 Q1012.9,340.0 1018.1,337.5" stroke="#d6e4e9" stroke-width="0.27"/><path d="M1083.5,371.4 Q1076.3,369.1 1072.5,362.3" stroke="#8aa2ac" stroke-width="0.28"/><path d="M1078.8,332.0 Q1081.0,325.4 1085.1,328.6" stroke="#b4c8d0" stroke-width="0.24"/><path d="M1062.4,333.4 Q1069.0,331.7 1074.7,337.9" stroke="#d6e4e9" stroke-width="0.20"/><path d="M1077.5,345.2 Q1068.9,356.3 1067.4,364.0" stroke="#b4c8d0" stroke-width="0.33"/><path d="M1031.2,329.0 Q1032.3,332.7 1023.8,328.0" stroke="#b4c8d0" stroke-width="0.35"/><path d="M1006.3,375.7 Q996.2,371.5 994.8,372.4" stroke="#b4c8d0" stroke-width="0.32"/><path d="M1046.5,380.8 Q1041.0,389.0 1045.2,389.0" stroke="#8aa2ac" stroke-width="0.28"/><path d="M1080.9,362.1 Q1087.7,353.8 1097.9,349.9" stroke="#8aa2ac" stroke-width="0.36"/><path d="M1095.2,331.9 Q1093.8,339.3 1094.1,347.3" stroke="#d6e4e9" stroke-width="0.38"/><path d="M1089.6,373.0 Q1091.9,382.7 1085.3,386.3" stroke="#c4d5dc" stroke-width="0.38"/><path d="M1007.8,344.2 Q1002.4,348.2 996.8,356.8" stroke="#8aa2ac" stroke-width="0.23"/><path d="M1045.3,326.9 Q1034.9,329.1 1029.0,336.3" stroke="#d6e4e9" stroke-width="0.39"/><path d="M1013.4,360.6 Q1009.0,368.0 1006.9,365.6" stroke="#8aa2ac" stroke-width="0.35"/><path d="M1005.2,348.6 Q1003.8,349.4 1009.0,341.7" stroke="#d6e4e9" stroke-width="0.20"/><path d="M1079.9,379.2 Q1083.9,373.9 1080.7,365.5" stroke="#c4d5dc" stroke-width="0.32"/><path d="M1042.4,357.9 Q1045.8,354.8 1048.2,347.9" stroke="#8aa2ac" stroke-width="0.29"/><path d="M1067.4,382.7 Q1068.2,373.1 1073.3,370.3" stroke="#d6e4e9" stroke-width="0.29"/><path d="M1029.9,360.2 Q1023.4,351.0 1026.6,341.7" stroke="#c4d5dc" stroke-width="0.23"/><path d="M1052.2,362.7 Q1057.0,370.1 1058.0,373.7" stroke="#d6e4e9" stroke-width="0.26"/><path d="M1072.9,369.9 Q1065.1,365.4 1066.8,353.7" stroke="#c4d5dc" stroke-width="0.33"/><path d="M1081.4,337.6 Q1078.2,338.7 1074.0,335.4" stroke="#d6e4e9" stroke-width="0.38"/><path d="M1005.0,380.5 Q995.2,375.6 985.9,374.9" stroke="#d6e4e9" stroke-width="0.26"/><path d="M1050.9,359.8 Q1056.2,362.4 1063.4,359.0" stroke="#b4c8d0" stroke-width="0.27"/><path d="M1081.2,385.2 Q1081.2,383.5 1076.1,381.6" stroke="#8aa2ac" stroke-width="0.21"/><path d="M1057.3,350.4 Q1061.6,352.3 1070.8,359.1" stroke="#8aa2ac" stroke-width="0.36"/><path d="M1053.1,368.0 Q1055.3,368.1 1054.5,358.3" stroke="#d6e4e9" stroke-width="0.34"/><path d="M1025.2,375.6 Q1027.8,368.8 1036.5,366.7" stroke="#d6e4e9" stroke-width="0.26"/><path d="M1028.2,348.6 Q1021.1,343.4 1016.3,334.5" stroke="#8aa2ac" stroke-width="0.24"/><path d="M1082.9,359.4 Q1085.2,352.9 1093.3,347.0" stroke="#c4d5dc" stroke-width="0.25"/><path d="M1035.7,360.7 Q1034.2,364.9 1029.6,360.9" stroke="#d6e4e9" stroke-width="0.32"/><path d="M1067.6,327.0 Q1069.1,326.9 1076.6,332.6" stroke="#d6e4e9" stroke-width="0.40"/><path d="M1022.3,354.5 Q1015.0,351.0 1015.1,340.6" stroke="#d6e4e9" stroke-width="0.25"/><path d="M1061.6,373.9 Q1061.6,369.8 1059.4,367.7" stroke="#c4d5dc" stroke-width="0.39"/><path d="M1040.4,387.9 Q1048.2,391.4 1058.3,400.3" stroke="#b4c8d0" stroke-width="0.28"/><path d="M1095.1,350.6 Q1091.6,345.3 1085.1,331.6" stroke="#b4c8d0" stroke-width="0.29"/><path d="M1076.5,382.1 Q1074.6,382.3 1082.0,379.7" stroke="#c4d5dc" stroke-width="0.27"/><path d="M1030.7,346.7 Q1020.2,351.5 1015.2,350.2" stroke="#8aa2ac" stroke-width="0.36"/><path d="M1003.8,362.7 Q997.5,375.5 994.0,378.8" stroke="#d6e4e9" stroke-width="0.31"/><path d="M1058.4,367.3 Q1057.5,372.7 1059.2,375.8" stroke="#b4c8d0" stroke-width="0.32"/><path d="M1091.9,360.3 Q1091.9,360.2 1100.1,360.9" stroke="#b4c8d0" stroke-width="0.37"/><path d="M1009.5,330.6 Q1011.4,336.3 1004.6,336.3" stroke="#c4d5dc" stroke-width="0.39"/><path d="M1028.8,389.8 Q1032.6,383.6 1030.2,381.4" stroke="#d6e4e9" stroke-width="0.29"/><path d="M1095.1,361.7 Q1095.8,367.7 1087.9,370.8" stroke="#b4c8d0" stroke-width="0.27"/><path d="M1089.8,372.5 Q1084.1,365.6 1078.1,362.0" stroke="#d6e4e9" stroke-width="0.37"/><path d="M1073.3,329.3 Q1086.8,330.2 1095.0,331.6" stroke="#8aa2ac" stroke-width="0.35"/><path d="M1010.7,367.5 Q1003.5,367.3 1003.7,371.1" stroke="#c4d5dc" stroke-width="0.36"/><path d="M1040.6,346.7 Q1043.8,354.5 1055.1,352.4" stroke="#d6e4e9" stroke-width="0.33"/><path d="M1078.7,385.8 Q1085.5,394.5 1082.5,394.9" stroke="#d6e4e9" stroke-width="0.24"/><path d="M1030.4,380.8 Q1017.8,386.7 1014.9,385.7" stroke="#8aa2ac" stroke-width="0.35"/><path d="M1014.8,358.2 Q1011.3,350.8 1000.6,352.7" stroke="#b4c8d0" stroke-width="0.30"/><path d="M1053.6,345.2 Q1050.0,337.6 1052.2,336.2" stroke="#c4d5dc" stroke-width="0.25"/><path d="M1072.8,358.1 Q1086.3,353.9 1090.0,350.8" stroke="#b4c8d0" stroke-width="0.34"/><path d="M1023.6,390.0 Q1020.3,387.2 1010.1,388.6" stroke="#d6e4e9" stroke-width="0.26"/><path d="M1006.4,344.0 Q997.2,344.6 996.7,337.2" stroke="#b4c8d0" stroke-width="0.40"/><path d="M1007.8,370.0 Q1011.2,375.9 1016.4,387.8" stroke="#8aa2ac" stroke-width="0.29"/><path d="M1079.7,342.2 Q1077.9,332.1 1079.3,326.6" stroke="#c4d5dc" stroke-width="0.31"/><path d="M1060.5,347.1 Q1054.1,339.2 1044.3,338.8" stroke="#b4c8d0" stroke-width="0.30"/><path d="M1067.6,341.3 Q1061.4,336.2 1057.4,325.3" stroke="#d6e4e9" stroke-width="0.27"/><path d="M1076.7,366.4 Q1084.5,363.7 1088.9,358.0" stroke="#d6e4e9" stroke-width="0.29"/><path d="M1012.7,326.6 Q1007.8,333.0 995.4,329.9" stroke="#d6e4e9" stroke-width="0.32"/><path d="M1016.1,382.7 Q1021.7,393.9 1023.7,399.6" stroke="#b4c8d0" stroke-width="0.26"/><path d="M1049.3,387.4 Q1048.2,381.8 1047.7,375.6" stroke="#d6e4e9" stroke-width="0.24"/><path d="M1089.3,334.9 Q1083.8,336.3 1084.0,330.3" stroke="#8aa2ac" stroke-width="0.36"/><path d="M1015.9,343.8 Q1018.6,336.6 1015.5,331.6" stroke="#8aa2ac" stroke-width="0.30"/><path d="M1063.0,378.0 Q1056.3,373.7 1054.2,375.7" stroke="#b4c8d0" stroke-width="0.21"/><path d="M1070.7,327.5 Q1069.4,334.8 1069.8,340.0" stroke="#d6e4e9" stroke-width="0.30"/><path d="M1060.9,337.4 Q1051.0,337.7 1049.8,341.8" stroke="#8aa2ac" stroke-width="0.25"/><path d="M1009.7,362.6 Q1018.6,365.1 1018.2,362.9" stroke="#c4d5dc" stroke-width="0.26"/><path d="M1074.2,380.6 Q1079.8,381.1 1089.9,384.0" stroke="#8aa2ac" stroke-width="0.20"/><path d="M1053.2,388.5 Q1052.8,382.1 1046.6,376.1" stroke="#b4c8d0" stroke-width="0.20"/><path d="M1080.9,340.7 Q1070.1,337.8 1068.4,334.0" stroke="#b4c8d0" stroke-width="0.24"/><path d="M1022.9,360.1 Q1012.1,361.7 1011.3,360.2" stroke="#d6e4e9" stroke-width="0.35"/><path d="M1072.2,374.2 Q1072.9,377.3 1080.1,384.5" stroke="#c4d5dc" stroke-width="0.35"/><path d="M1025.9,389.7 Q1033.4,384.9 1042.5,379.9" stroke="#b4c8d0" stroke-width="0.37"/><path d="M1039.2,386.4 Q1028.2,379.5 1020.7,378.8" stroke="#c4d5dc" stroke-width="0.38"/><path d="M1004.5,353.1 Q1006.9,355.0 1005.1,359.7" stroke="#c4d5dc" stroke-width="0.28"/><path d="M1075.0,365.6 Q1074.4,365.6 1071.7,370.7" stroke="#b4c8d0" stroke-width="0.35"/><path d="M1050.0,333.4 Q1049.6,335.6 1051.4,341.3" stroke="#b4c8d0" stroke-width="0.22"/><path d="M1019.3,356.5 Q1019.3,355.7 1026.5,364.1" stroke="#8aa2ac" stroke-width="0.38"/><path d="M1095.3,334.4 Q1101.0,329.9 1113.6,325.3" stroke="#c4d5dc" stroke-width="0.27"/><path d="M1008.2,380.4 Q1005.0,372.0 1004.3,364.4" stroke="#d6e4e9" stroke-width="0.37"/><path d="M1076.1,363.6 Q1070.1,362.1 1064.2,359.2" stroke="#d6e4e9" stroke-width="0.39"/><path d="M1030.7,332.0 Q1032.8,325.4 1036.6,323.8" stroke="#b4c8d0" stroke-width="0.34"/><path d="M1019.9,382.8 Q1014.6,388.5 1008.9,389.0" stroke="#b4c8d0" stroke-width="0.22"/><path d="M1080.2,336.5 Q1082.4,330.8 1084.6,327.5" stroke="#d6e4e9" stroke-width="0.38"/><path d="M1059.5,344.0 Q1046.5,342.9 1043.4,343.0" stroke="#d6e4e9" stroke-width="0.36"/><path d="M1092.2,327.2 Q1086.5,335.2 1081.8,336.9" stroke="#8aa2ac" stroke-width="0.34"/><path d="M1066.9,340.3 Q1053.0,336.8 1046.4,334.2" stroke="#8aa2ac" stroke-width="0.24"/><path d="M1074.4,369.1 Q1074.5,370.6 1067.2,365.2" stroke="#8aa2ac" stroke-width="0.33"/><path d="M1078.9,327.4 Q1072.4,315.0 1075.8,308.4" stroke="#c4d5dc" stroke-width="0.22"/><path d="M1090.4,349.2 Q1085.3,343.3 1082.2,343.2" stroke="#b4c8d0" stroke-width="0.33"/><path d="M1011.7,335.9 Q1020.5,334.7 1030.5,324.6" stroke="#d6e4e9" stroke-width="0.36"/><path d="M1073.0,340.0 Q1078.1,332.1 1086.1,329.6" stroke="#8aa2ac" stroke-width="0.28"/><path d="M1003.4,346.8 Q1006.5,357.5 1010.1,362.8" stroke="#d6e4e9" stroke-width="0.37"/><path d="M1090.7,379.5 Q1081.8,368.0 1082.0,363.4" stroke="#8aa2ac" stroke-width="0.25"/><path d="M1088.2,389.3 Q1099.3,390.5 1101.8,384.6" stroke="#8aa2ac" stroke-width="0.36"/><path d="M1094.2,347.7 Q1092.1,336.3 1087.7,330.2" stroke="#c4d5dc" stroke-width="0.35"/><path d="M1079.2,363.9 Q1090.0,362.7 1095.9,356.6" stroke="#d6e4e9" stroke-width="0.36"/><path d="M1090.0,385.0 Q1089.9,389.9 1081.3,403.0" stroke="#b4c8d0" stroke-width="0.24"/><path d="M1061.2,362.5 Q1059.3,358.6 1049.7,355.2" stroke="#8aa2ac" stroke-width="0.26"/><path d="M1091.3,340.3 Q1088.3,347.4 1087.4,350.6" stroke="#8aa2ac" stroke-width="0.39"/><path d="M1034.5,335.3 Q1042.1,335.5 1042.2,337.9" stroke="#d6e4e9" stroke-width="0.35"/><path d="M1076.3,353.2 Q1074.1,349.1 1064.9,351.5" stroke="#b4c8d0" stroke-width="0.29"/><path d="M1090.3,371.5 Q1081.0,374.4 1072.5,382.3" stroke="#b4c8d0" stroke-width="0.38"/><path d="M1050.4,371.1 Q1049.0,367.1 1056.0,363.2" stroke="#8aa2ac" stroke-width="0.31"/><path d="M1077.8,368.3 Q1085.6,359.1 1088.8,349.7" stroke="#d6e4e9" stroke-width="0.30"/><path d="M1092.9,330.5 Q1098.0,321.8 1101.7,313.0" stroke="#8aa2ac" stroke-width="0.30"/><path d="M1038.5,329.0 Q1031.5,328.3 1024.1,331.1" stroke="#d6e4e9" stroke-width="0.22"/><path d="M1005.4,367.7 Q1000.2,369.8 999.4,367.0" stroke="#d6e4e9" stroke-width="0.30"/><path d="M1065.1,342.8 Q1065.9,346.9 1057.7,351.7" stroke="#c4d5dc" stroke-width="0.31"/><path d="M1007.3,368.7 Q999.4,364.1 998.1,361.5" stroke="#b4c8d0" stroke-width="0.29"/><path d="M1014.2,386.3 Q1013.9,388.2 1010.9,394.0" stroke="#d6e4e9" stroke-width="0.25"/><path d="M1063.5,346.0 Q1059.2,345.6 1053.9,335.8" stroke="#d6e4e9" stroke-width="0.36"/><path d="M1062.4,343.5 Q1065.4,330.3 1059.1,323.4" stroke="#d6e4e9" stroke-width="0.34"/><path d="M1018.3,376.7 Q1020.7,370.8 1026.2,358.5" stroke="#d6e4e9" stroke-width="0.37"/><path d="M1048.9,381.5 Q1046.1,380.0 1044.7,369.1" stroke="#8aa2ac" stroke-width="0.31"/><path d="M1030.0,363.7 Q1034.0,359.9 1028.8,357.0" stroke="#8aa2ac" stroke-width="0.32"/><path d="M1003.8,387.1 Q1002.6,384.8 993.7,390.1" stroke="#d6e4e9" stroke-width="0.32"/><path d="M1027.5,365.4 Q1023.3,358.5 1026.6,357.6" stroke="#d6e4e9" stroke-width="0.30"/><path d="M1085.3,376.0 Q1080.7,380.5 1084.3,392.7" stroke="#c4d5dc" stroke-width="0.36"/><path d="M1044.4,370.8 Q1034.2,378.1 1026.8,381.3" stroke="#c4d5dc" stroke-width="0.40"/><path d="M1003.9,387.2 Q1002.8,381.6 1007.6,375.2" stroke="#b4c8d0" stroke-width="0.22"/><path d="M1087.5,329.6 Q1080.0,323.0 1070.0,322.0" stroke="#c4d5dc" stroke-width="0.25"/><path d="M1088.9,352.7 Q1088.7,359.6 1091.1,372.3" stroke="#c4d5dc" stroke-width="0.26"/><path d="M1056.0,372.9 Q1055.6,372.2 1061.1,362.0" stroke="#d6e4e9" stroke-width="0.38"/><path d="M1058.3,348.9 Q1064.9,343.9 1063.1,336.7" stroke="#c4d5dc" stroke-width="0.39"/><path d="M1003.1,367.3 Q999.2,365.9 995.7,367.2" stroke="#c4d5dc" stroke-width="0.30"/><path d="M1013.3,359.4 Q1006.5,354.2 1009.7,339.3" stroke="#c4d5dc" stroke-width="0.35"/><path d="M1066.0,358.3 Q1070.3,354.6 1079.4,354.0" stroke="#d6e4e9" stroke-width="0.21"/><path d="M1077.4,374.7 Q1072.8,379.4 1063.9,387.2" stroke="#8aa2ac" stroke-width="0.25"/><path d="M1060.7,354.8 Q1055.7,360.1 1055.1,359.5" stroke="#b4c8d0" stroke-width="0.31"/><path d="M1041.7,386.6 Q1038.4,396.0 1042.0,401.5" stroke="#b4c8d0" stroke-width="0.38"/><path d="M1019.2,387.4 Q1018.7,391.6 1027.6,389.1" stroke="#b4c8d0" stroke-width="0.25"/><path d="M1034.9,347.9 Q1031.9,357.1 1029.5,363.1" stroke="#d6e4e9" stroke-width="0.39"/><path d="M1036.6,350.3 Q1029.1,361.1 1029.6,369.5" stroke="#d6e4e9" stroke-width="0.40"/><path d="M1021.7,351.4 Q1026.0,352.6 1028.5,346.4" stroke="#d6e4e9" stroke-width="0.32"/><path d="M1058.6,334.4 Q1055.7,327.9 1054.9,327.9" stroke="#b4c8d0" stroke-width="0.31"/><path d="M1061.0,332.2 Q1068.3,339.1 1073.0,340.1" stroke="#8aa2ac" stroke-width="0.30"/><path d="M1025.5,371.6 Q1023.2,373.8 1017.3,372.2" stroke="#8aa2ac" stroke-width="0.21"/><path d="M1065.6,340.4 Q1064.2,329.0 1055.6,326.3" stroke="#8aa2ac" stroke-width="0.26"/><path d="M1092.4,337.7 Q1092.5,339.6 1100.9,334.9" stroke="#b4c8d0" stroke-width="0.22"/><path d="M1034.3,343.2 Q1045.6,345.6 1047.3,350.3" stroke="#c4d5dc" stroke-width="0.23"/><path d="M1076.4,354.7 Q1067.1,360.2 1061.7,360.0" stroke="#d6e4e9" stroke-width="0.38"/><path d="M1062.5,358.0 Q1066.7,349.4 1066.2,345.2" stroke="#d6e4e9" stroke-width="0.37"/><path d="M1006.1,331.4 Q1000.8,324.7 1002.9,324.3" stroke="#8aa2ac" stroke-width="0.24"/><path d="M1026.1,340.8 Q1016.9,341.8 1006.8,346.4" stroke="#8aa2ac" stroke-width="0.32"/><path d="M1018.7,369.6 Q1024.1,366.7 1024.7,369.5" stroke="#8aa2ac" stroke-width="0.26"/><path d="M1019.4,349.6 Q1026.8,353.1 1025.1,362.9" stroke="#b4c8d0" stroke-width="0.22"/><path d="M1078.3,326.2 Q1087.2,326.1 1091.9,322.6" stroke="#b4c8d0" stroke-width="0.38"/><path d="M1030.8,372.1 Q1026.5,371.3 1014.6,379.5" stroke="#d6e4e9" stroke-width="0.31"/><path d="M1042.7,328.2 Q1046.2,325.8 1052.6,323.3" stroke="#b4c8d0" stroke-width="0.28"/><path d="M1055.3,361.9 Q1048.2,367.4 1047.9,370.2" stroke="#b4c8d0" stroke-width="0.32"/><path d="M1045.5,359.5 Q1040.0,362.8 1039.7,356.7" stroke="#d6e4e9" stroke-width="0.21"/><path d="M1014.1,350.7 Q1019.3,347.9 1016.0,343.2" stroke="#8aa2ac" stroke-width="0.39"/><path d="M1034.0,375.8 Q1022.2,370.4 1019.6,368.8" stroke="#8aa2ac" stroke-width="0.38"/><path d="M1036.9,368.8 Q1040.2,366.2 1041.9,356.8" stroke="#d6e4e9" stroke-width="0.28"/><path d="M1027.6,355.3 Q1032.1,349.8 1037.4,351.8" stroke="#b4c8d0" stroke-width="0.30"/><path d="M1053.5,337.8 Q1049.4,345.3 1041.3,355.1" stroke="#8aa2ac" stroke-width="0.30"/><path d="M1031.2,326.9 Q1030.3,320.4 1038.4,322.3" stroke="#d6e4e9" stroke-width="0.24"/><path d="M1039.3,384.0 Q1037.5,390.9 1037.9,393.1" stroke="#8aa2ac" stroke-width="0.24"/><path d="M1018.8,360.1 Q1013.0,365.6 1013.1,364.0" stroke="#8aa2ac" stroke-width="0.40"/><path d="M1081.2,329.0 Q1084.1,331.4 1084.4,336.1" stroke="#b4c8d0" stroke-width="0.33"/><path d="M1081.0,353.8 Q1083.0,349.1 1094.6,345.8" stroke="#8aa2ac" stroke-width="0.37"/><path d="M1025.5,351.9 Q1029.2,341.8 1024.9,340.9" stroke="#8aa2ac" stroke-width="0.33"/><path d="M1051.4,343.0 Q1040.2,348.7 1038.9,351.2" stroke="#b4c8d0" stroke-width="0.38"/><path d="M1057.0,374.6 Q1058.0,375.6 1062.7,383.9" stroke="#8aa2ac" stroke-width="0.24"/><path d="M1015.1,375.5 Q1024.7,384.0 1024.4,387.5" stroke="#b4c8d0" stroke-width="0.39"/><path d="M1090.2,336.3 Q1085.9,331.5 1078.9,333.6" stroke="#d6e4e9" stroke-width="0.24"/><path d="M1064.1,374.9 Q1061.8,374.1 1061.6,369.0" stroke="#c4d5dc" stroke-width="0.28"/><path d="M1064.3,378.1 Q1073.1,380.0 1078.4,391.3" stroke="#d6e4e9" stroke-width="0.25"/><path d="M1089.1,349.6 Q1096.5,355.7 1095.0,353.2" stroke="#c4d5dc" stroke-width="0.23"/><path d="M1013.2,372.3 Q1006.6,380.6 993.2,380.0" stroke="#b4c8d0" stroke-width="0.29"/><path d="M1078.9,368.6 Q1077.8,372.3 1071.4,374.9" stroke="#c4d5dc" stroke-width="0.31"/><path d="M1038.4,372.9 Q1046.8,376.5 1055.3,378.6" stroke="#8aa2ac" stroke-width="0.22"/><path d="M1011.3,334.5 Q1009.7,339.3 999.5,339.6" stroke="#d6e4e9" stroke-width="0.37"/><path d="M1004.0,337.7 Q1002.5,339.3 1003.5,346.5" stroke="#c4d5dc" stroke-width="0.39"/><path d="M1019.1,377.7 Q1013.4,386.7 1007.4,387.7" stroke="#8aa2ac" stroke-width="0.33"/><path d="M1017.2,361.7 Q1018.1,376.5 1013.1,382.1" stroke="#8aa2ac" stroke-width="0.25"/><path d="M1066.3,366.1 Q1075.0,354.2 1073.9,349.9" stroke="#b4c8d0" stroke-width="0.38"/><path d="M1053.2,385.6 Q1048.5,391.0 1044.1,396.4" stroke="#c4d5dc" stroke-width="0.29"/><path d="M1080.9,332.8 Q1088.5,336.1 1089.3,340.4" stroke="#b4c8d0" stroke-width="0.21"/><path d="M1043.7,350.9 Q1049.3,357.8 1045.2,368.1" stroke="#8aa2ac" stroke-width="0.25"/><path d="M1021.3,330.5 Q1015.5,328.2 1006.9,333.1" stroke="#b4c8d0" stroke-width="0.23"/><path d="M1024.7,365.4 Q1025.4,369.4 1017.1,369.5" stroke="#c4d5dc" stroke-width="0.26"/><path d="M1009.5,374.9 Q1011.8,370.0 1016.7,358.8" stroke="#c4d5dc" stroke-width="0.36"/><path d="M1058.3,350.6 Q1058.8,344.4 1051.3,332.6" stroke="#8aa2ac" stroke-width="0.32"/><path d="M1081.2,347.6 Q1072.2,354.4 1069.7,357.1" stroke="#c4d5dc" stroke-width="0.26"/><path d="M1051.9,370.3 Q1050.6,364.4 1045.8,356.2" stroke="#d6e4e9" stroke-width="0.33"/><path d="M1036.3,386.8 Q1042.8,392.6 1044.6,392.3" stroke="#8aa2ac" stroke-width="0.35"/><path d="M1005.5,360.1 Q1010.0,362.1 1021.1,363.6" stroke="#b4c8d0" stroke-width="0.34"/><path d="M1036.5,351.5 Q1040.6,337.6 1035.9,330.7" stroke="#8aa2ac" stroke-width="0.27"/><path d="M1049.7,374.1 Q1059.3,369.3 1063.7,360.4" stroke="#d6e4e9" stroke-width="0.29"/><path d="M1004.1,353.8 Q1002.0,358.0 996.4,358.7" stroke="#d6e4e9" stroke-width="0.31"/><path d="M1050.2,359.9 Q1044.4,364.6 1047.1,367.0" stroke="#d6e4e9" stroke-width="0.30"/><path d="M1048.8,360.5 Q1047.2,361.8 1043.7,357.2" stroke="#d6e4e9" stroke-width="0.38"/><path d="M1017.4,386.2 Q1022.9,388.5 1027.4,396.2" stroke="#c4d5dc" stroke-width="0.33"/><path d="M1070.4,381.7 Q1065.1,386.6 1051.0,382.2" stroke="#b4c8d0" stroke-width="0.35"/><path d="M1014.3,377.9 Q1021.8,370.6 1025.5,370.4" stroke="#b4c8d0" stroke-width="0.35"/><path d="M1068.2,332.7 Q1066.3,330.9 1058.9,333.7" stroke="#b4c8d0" stroke-width="0.36"/><path d="M1018.4,335.8 Q1019.1,333.8 1017.5,327.0" stroke="#c4d5dc" stroke-width="0.31"/><path d="M1035.3,364.8 Q1029.7,370.8 1027.0,370.0" stroke="#8aa2ac" stroke-width="0.35"/><path d="M1017.3,363.5 Q1017.0,358.0 1025.7,347.6" stroke="#b4c8d0" stroke-width="0.27"/><path d="M1078.2,362.0 Q1073.2,361.4 1058.6,368.5" stroke="#d6e4e9" stroke-width="0.38"/><path d="M1076.0,372.4 Q1078.1,382.3 1077.5,385.2" stroke="#c4d5dc" stroke-width="0.34"/><path d="M1008.8,355.7 Q1005.3,355.6 998.4,353.4" stroke="#c4d5dc" stroke-width="0.28"/><path d="M1058.8,331.8 Q1047.7,334.2 1042.2,345.9" stroke="#8aa2ac" stroke-width="0.38"/><path d="M1023.0,387.6 Q1033.5,385.1 1036.2,377.5" stroke="#c4d5dc" stroke-width="0.24"/><path d="M1061.3,349.2 Q1062.1,349.8 1060.0,357.7" stroke="#c4d5dc" stroke-width="0.33"/><path d="M1094.3,375.3 Q1096.6,367.3 1097.2,356.0" stroke="#d6e4e9" stroke-width="0.23"/><path d="M1056.3,354.3 Q1051.2,345.7 1041.4,344.9" stroke="#c4d5dc" stroke-width="0.29"/><path d="M1048.0,345.1 Q1048.0,349.3 1054.4,362.5" stroke="#c4d5dc" stroke-width="0.27"/><path d="M1030.7,378.7 Q1037.0,379.1 1037.4,369.9" stroke="#b4c8d0" stroke-width="0.25"/><path d="M1080.3,359.2 Q1089.2,354.3 1088.5,351.0" stroke="#b4c8d0" stroke-width="0.36"/><path d="M1031.4,329.8 Q1026.4,335.0 1012.7,337.6" stroke="#b4c8d0" stroke-width="0.40"/><path d="M1019.0,355.5 Q1011.7,357.9 1003.7,361.2" stroke="#8aa2ac" stroke-width="0.25"/><path d="M1048.1,368.8 Q1045.4,371.5 1033.5,366.0" stroke="#8aa2ac" stroke-width="0.25"/><path d="M1088.7,326.6 Q1096.5,322.7 1100.0,324.0" stroke="#8aa2ac" stroke-width="0.30"/><path d="M1011.7,332.8 Q1010.0,340.7 1010.2,339.3" stroke="#c4d5dc" stroke-width="0.31"/><path d="M1064.6,365.8 Q1059.6,369.9 1051.6,379.6" stroke="#b4c8d0" stroke-width="0.32"/><path d="M1086.4,388.6 Q1098.1,387.3 1105.1,383.9" stroke="#8aa2ac" stroke-width="0.36"/><path d="M1054.6,330.5 Q1059.0,324.6 1069.1,320.2" stroke="#b4c8d0" stroke-width="0.26"/><path d="M1080.8,374.8 Q1082.1,370.3 1089.2,373.1" stroke="#c4d5dc" stroke-width="0.29"/><path d="M1091.2,329.1 Q1087.0,315.6 1086.5,309.1" stroke="#c4d5dc" stroke-width="0.24"/><path d="M1037.2,372.0 Q1039.4,366.6 1036.6,362.7" stroke="#c4d5dc" stroke-width="0.36"/><path d="M1079.8,387.8 Q1078.4,394.1 1068.1,405.4" stroke="#c4d5dc" stroke-width="0.34"/><path d="M1087.4,390.1 Q1085.0,384.3 1091.1,370.5" stroke="#c4d5dc" stroke-width="0.21"/><path d="M1052.9,378.3 Q1049.6,366.7 1053.7,363.0" stroke="#8aa2ac" stroke-width="0.26"/><path d="M1009.6,367.2 Q1002.5,366.7 999.0,358.2" stroke="#8aa2ac" stroke-width="0.21"/><path d="M1026.0,377.4 Q1027.2,374.1 1024.8,367.0" stroke="#c4d5dc" stroke-width="0.20"/><path d="M1073.3,335.3 Q1078.4,342.5 1078.2,342.3" stroke="#8aa2ac" stroke-width="0.21"/><path d="M1009.2,341.2 Q1006.4,342.9 1009.6,347.6" stroke="#b4c8d0" stroke-width="0.40"/><path d="M1068.1,378.6 Q1070.0,366.2 1069.2,363.7" stroke="#d6e4e9" stroke-width="0.23"/><path d="M1017.4,340.4 Q1018.5,333.4 1009.9,331.7" stroke="#d6e4e9" stroke-width="0.23"/><path d="M1037.3,346.4 Q1035.2,337.3 1034.4,337.9" stroke="#c4d5dc" stroke-width="0.27"/><path d="M1053.2,348.7 Q1052.9,352.8 1057.9,357.7" stroke="#b4c8d0" stroke-width="0.34"/><path d="M1014.1,343.2 Q1016.4,338.2 1015.9,336.2" stroke="#8aa2ac" stroke-width="0.30"/><path d="M1027.2,360.4 Q1031.1,354.0 1026.0,354.4" stroke="#8aa2ac" stroke-width="0.33"/><path d="M1087.4,345.2 Q1097.1,346.6 1104.5,339.5" stroke="#c4d5dc" stroke-width="0.30"/><path d="M1056.0,383.3 Q1050.0,379.0 1047.2,383.4" stroke="#b4c8d0" stroke-width="0.23"/><path d="M1019.0,389.1 Q1020.5,390.9 1013.4,400.3" stroke="#8aa2ac" stroke-width="0.24"/><path d="M1051.1,364.0 Q1045.0,360.3 1035.8,351.5" stroke="#c4d5dc" stroke-width="0.32"/><path d="M1067.3,362.9 Q1061.7,371.4 1061.5,380.6" stroke="#8aa2ac" stroke-width="0.30"/><path d="M1003.5,355.8 Q1009.3,362.4 1013.6,373.4" stroke="#d6e4e9" stroke-width="0.29"/><path d="M1021.8,374.0 Q1020.4,375.2 1019.5,380.6" stroke="#b4c8d0" stroke-width="0.32"/><path d="M1023.7,360.2 Q1014.4,372.7 1014.8,375.8" stroke="#8aa2ac" stroke-width="0.32"/><path d="M1034.5,337.5 Q1036.1,322.2 1036.1,316.6" stroke="#d6e4e9" stroke-width="0.24"/><path d="M1088.1,366.7 Q1081.3,367.1 1082.5,369.3" stroke="#8aa2ac" stroke-width="0.36"/><path d="M1031.1,341.0 Q1034.4,334.0 1043.5,335.4" stroke="#c4d5dc" stroke-width="0.20"/><path d="M1050.2,389.0 Q1055.8,392.0 1065.4,389.9" stroke="#c4d5dc" stroke-width="0.33"/><path d="M1085.2,375.6 Q1089.1,366.3 1096.4,362.5" stroke="#b4c8d0" stroke-width="0.27"/><path d="M1085.5,327.4 Q1085.0,330.8 1093.4,338.3" stroke="#d6e4e9" stroke-width="0.32"/><path d="M1029.6,372.7 Q1037.2,362.1 1041.0,359.7" stroke="#c4d5dc" stroke-width="0.38"/><path d="M1063.7,334.2 Q1056.1,338.8 1043.9,335.0" stroke="#b4c8d0" stroke-width="0.22"/><path d="M1089.8,380.8 Q1091.1,376.9 1086.7,372.6" stroke="#c4d5dc" stroke-width="0.37"/><path d="M1044.9,330.6 Q1044.9,328.1 1048.7,317.3" stroke="#8aa2ac" stroke-width="0.35"/><path d="M1067.9,389.8 Q1065.8,401.6 1065.4,404.9" stroke="#d6e4e9" stroke-width="0.22"/><path d="M1071.5,345.3 Q1071.9,343.5 1071.5,337.1" stroke="#8aa2ac" stroke-width="0.38"/><path d="M1093.9,387.7 Q1082.4,393.8 1080.0,395.3" stroke="#8aa2ac" stroke-width="0.36"/><path d="M1027.7,381.4 Q1018.4,378.6 1012.5,371.4" stroke="#c4d5dc" stroke-width="0.23"/><path d="M1006.0,330.3 Q1000.1,336.4 997.8,348.8" stroke="#b4c8d0" stroke-width="0.31"/><path d="M1052.2,387.4 Q1058.3,381.1 1058.1,367.3" stroke="#c4d5dc" stroke-width="0.26"/><path d="M1039.6,334.8 Q1049.3,337.7 1050.3,332.3" stroke="#c4d5dc" stroke-width="0.34"/><path d="M1092.2,367.1 Q1096.8,377.2 1098.4,378.0" stroke="#8aa2ac" stroke-width="0.39"/><path d="M1043.9,369.9 Q1045.5,362.8 1040.0,348.2" stroke="#c4d5dc" stroke-width="0.37"/><path d="M1035.6,378.9 Q1040.3,388.2 1038.5,391.6" stroke="#8aa2ac" stroke-width="0.34"/><path d="M1011.7,338.2 Q1022.8,334.6 1027.3,334.9" stroke="#c4d5dc" stroke-width="0.37"/><path d="M1015.9,329.1 Q1015.5,343.3 1014.4,348.9" stroke="#b4c8d0" stroke-width="0.28"/><path d="M1024.1,331.5 Q1013.9,332.9 1006.3,330.7" stroke="#c4d5dc" stroke-width="0.21"/><path d="M1030.5,368.5 Q1022.8,368.5 1011.2,369.4" stroke="#c4d5dc" stroke-width="0.26"/><path d="M1021.6,381.8 Q1016.3,386.9 1015.1,395.2" stroke="#b4c8d0" stroke-width="0.25"/><path d="M1061.9,359.8 Q1068.6,361.3 1069.9,365.3" stroke="#d6e4e9" stroke-width="0.35"/><path d="M1090.3,350.5 Q1092.2,345.6 1085.2,340.1" stroke="#d6e4e9" stroke-width="0.22"/><path d="M1031.9,355.2 Q1028.2,364.1 1019.8,366.3" stroke="#b4c8d0" stroke-width="0.38"/><path d="M1035.1,363.2 Q1042.8,373.0 1041.6,373.1" stroke="#c4d5dc" stroke-width="0.37"/><path d="M1047.3,360.1 Q1048.3,352.8 1053.6,351.2" stroke="#c4d5dc" stroke-width="0.28"/><path d="M1023.0,375.6 Q1024.5,374.8 1030.4,366.9" stroke="#d6e4e9" stroke-width="0.26"/><path d="M1032.5,382.7 Q1032.1,378.3 1027.3,375.9" stroke="#8aa2ac" stroke-width="0.36"/><path d="M1048.6,387.0 Q1047.1,379.9 1047.7,378.6" stroke="#d6e4e9" stroke-width="0.33"/><path d="M1063.1,355.5 Q1049.7,349.6 1043.3,349.3" stroke="#c4d5dc" stroke-width="0.32"/><path d="M1006.2,379.1 Q999.8,375.4 993.3,363.6" stroke="#d6e4e9" stroke-width="0.32"/><path d="M1008.1,359.1 Q1004.6,357.3 999.0,361.1" stroke="#c4d5dc" stroke-width="0.26"/><path d="M1072.5,333.7 Q1070.3,327.7 1067.0,326.6" stroke="#8aa2ac" stroke-width="0.29"/><path d="M1056.4,340.1 Q1062.2,328.5 1058.8,319.2" stroke="#c4d5dc" stroke-width="0.37"/></g>
<path d="M1037.8,340 L1037.8,356 Q1037.8,360.5 1048.2,360.5 Q1058.6,360.5 1058.6,356 L1058.6,340 Z" fill="#3e4e59"/>
<ellipse cx="1048.2" cy="340" rx="10.4" ry="4" fill="#4a5b66"/>
<ellipse cx="1048.2" cy="349" rx="6.5" ry="2.4" fill="#cfe3ea"/>
<path d="M1044.3,313.5 L1051.7,313.5 L1048.3,344 L1047.6,344 Z" fill="#94b520"/>
<rect x="1041" y="300" width="11.5" height="16" fill="#7b7b7b"/>
<rect x="1041" y="300" width="3" height="16" fill="#8f8f8f"/>
<rect x="1038.3" y="193.1" width="19.1" height="8.6" rx="3.6" fill="#8c8c8c"/>
<rect x="1043" y="202" width="9" height="7" fill="#6d6d6d"/>
<path d="M1033.6,210 Q1033.6,207 1037,207 L1057.5,207 Q1060.5,207 1060.5,210 L1058,294 Q1057.5,302 1050,303 L1044,303 Q1036.5,302 1036,294 Z" fill="#333"/>
<path d="M1033.6,210 Q1033.6,207 1036,207 L1038,207 L1039.5,296 Q1037,298 1036,294 Z" fill="#454545"/>
<rect x="1029.5" y="213" width="5" height="3.5" fill="#333"/>
<rect x="1041" y="225.4" width="12.8" height="37.1" rx="6.2" fill="#fff"/>
<path d="M1113.5,326 A55.2,31 0 0 1 1223.9,326 L1223.9,360 A55.2,36 0 0 1 1113.5,360 Z" fill="#d9d9d9"/>
<ellipse cx="1168.7" cy="327" rx="53.2" ry="30" fill="#e6e6e6"/>
<path d="M1114.0,347.6 L1114.0,360 A54.7,36 0 0 0 1223.4,360 L1223.4,347.6 Z" fill="#a8c0ca"/>
<path d="M1114.0,354 A54.7,36 0 0 0 1223.4,354 L1223.4,360 A54.7,36 0 0 1 1114.0,360 Z" fill="#9fb6c0"/>
<path d="M1114.0,360 A54.7,36 0 0 0 1223.4,360" fill="none" stroke="#c5cfd4" stroke-width="1.2"/>
<ellipse cx="1168.7" cy="347.6" rx="54.7" ry="36" fill="#b7d4e0"/>
<ellipse cx="1168.7" cy="351.6" rx="51.2" ry="33" fill="none" stroke="#a9c5d1" stroke-width="0.8"/>
<clipPath id="tm3"><ellipse cx="1169.7" cy="355.6" rx="45.7" ry="31"/></clipPath>
<g clip-path="url(#tm3)"><filter id="tfm3" color-interpolation-filters="sRGB" x="1124.0" y="324.6" width="91.4" height="62" filterUnits="userSpaceOnUse"><feTurbulence type="fractalNoise" baseFrequency="0.25" numOctaves="2" seed="6"/><feColorMatrix type="matrix" values="0.3 0 0 0 0.462  0.3 0 0 0 0.548  0.3 0 0 0 0.587  0 0 0 0 1"/></filter><rect x="1124.0" y="324.6" width="91.4" height="62" filter="url(#tfm3)"/></g>
<clipPath id="m3"><ellipse cx="1169.7" cy="355.6" rx="45.7" ry="31"/></clipPath><g clip-path="url(#m3)" fill="none"><path d="M1138.5,341.6 Q1131.1,336.4 1119.9,331.4" stroke="#d6e4e9" stroke-width="0.32"/><path d="M1161.9,385.2 Q1163.3,388.3 1171.0,394.6" stroke="#8aa2ac" stroke-width="0.35"/><path d="M1188.6,381.3 Q1183.4,376.1 1185.5,374.4" stroke="#d6e4e9" stroke-width="0.33"/><path d="M1148.7,328.3 Q1150.1,314.9 1148.0,310.6" stroke="#d6e4e9" stroke-width="0.30"/><path d="M1188.4,351.2 Q1187.2,349.8 1180.0,339.5" stroke="#b4c8d0" stroke-width="0.21"/><path d="M1184.6,345.5 Q1177.5,335.9 1177.6,333.9" stroke="#c4d5dc" stroke-width="0.33"/><path d="M1155.4,381.0 Q1158.2,384.4 1165.3,379.2" stroke="#8aa2ac" stroke-width="0.23"/><path d="M1152.2,329.2 Q1155.7,329.9 1158.9,323.3" stroke="#8aa2ac" stroke-width="0.29"/><path d="M1128.0,358.7 Q1136.0,363.9 1134.5,368.7" stroke="#b4c8d0" stroke-width="0.28"/><path d="M1135.1,362.4 Q1123.8,359.5 1115.8,356.7" stroke="#b4c8d0" stroke-width="0.28"/><path d="M1174.7,385.6 Q1177.9,384.9 1172.5,376.7" stroke="#b4c8d0" stroke-width="0.26"/><path d="M1140.1,373.5 Q1136.2,374.1 1132.1,370.1" stroke="#8aa2ac" stroke-width="0.26"/><path d="M1210.7,354.6 Q1206.7,349.4 1202.4,352.2" stroke="#c4d5dc" stroke-width="0.26"/><path d="M1172.8,347.2 Q1176.4,355.6 1170.0,357.8" stroke="#b4c8d0" stroke-width="0.31"/><path d="M1208.0,349.9 Q1212.8,352.9 1220.1,350.6" stroke="#d6e4e9" stroke-width="0.29"/><path d="M1164.6,362.2 Q1164.7,358.0 1157.8,361.3" stroke="#c4d5dc" stroke-width="0.31"/><path d="M1174.4,383.7 Q1182.6,371.0 1180.9,367.5" stroke="#b4c8d0" stroke-width="0.35"/><path d="M1214.2,379.6 Q1210.3,375.0 1203.5,366.5" stroke="#8aa2ac" stroke-width="0.25"/><path d="M1150.6,325.3 Q1148.2,338.7 1152.3,344.7" stroke="#8aa2ac" stroke-width="0.20"/><path d="M1208.2,324.7 Q1210.6,338.5 1216.0,344.1" stroke="#8aa2ac" stroke-width="0.22"/><path d="M1166.4,335.4 Q1155.9,332.1 1153.8,337.7" stroke="#d6e4e9" stroke-width="0.22"/><path d="M1125.1,371.5 Q1117.6,366.7 1116.2,363.2" stroke="#c4d5dc" stroke-width="0.33"/><path d="M1185.9,374.2 Q1194.8,372.7 1200.4,376.5" stroke="#8aa2ac" stroke-width="0.32"/><path d="M1186.9,367.2 Q1195.0,361.5 1194.9,349.3" stroke="#d6e4e9" stroke-width="0.21"/><path d="M1147.6,325.8 Q1150.7,326.2 1146.7,335.7" stroke="#b4c8d0" stroke-width="0.27"/><path d="M1174.6,337.5 Q1174.6,338.5 1183.1,339.1" stroke="#8aa2ac" stroke-width="0.22"/><path d="M1212.9,326.5 Q1210.5,324.0 1211.5,318.8" stroke="#8aa2ac" stroke-width="0.38"/><path d="M1185.3,354.3 Q1172.3,363.2 1169.1,366.9" stroke="#d6e4e9" stroke-width="0.29"/><path d="M1174.5,332.3 Q1167.0,342.9 1167.6,346.8" stroke="#b4c8d0" stroke-width="0.28"/><path d="M1176.0,351.5 Q1187.0,355.4 1188.4,357.6" stroke="#c4d5dc" stroke-width="0.38"/><path d="M1133.2,328.3 Q1132.4,331.5 1137.7,336.7" stroke="#d6e4e9" stroke-width="0.34"/><path d="M1169.6,382.0 Q1178.2,393.8 1183.3,396.6" stroke="#b4c8d0" stroke-width="0.31"/><path d="M1160.2,330.1 Q1160.3,335.7 1168.9,335.7" stroke="#d6e4e9" stroke-width="0.32"/><path d="M1140.7,348.6 Q1151.7,345.3 1154.2,337.1" stroke="#d6e4e9" stroke-width="0.24"/><path d="M1208.9,326.7 Q1197.9,329.8 1192.3,331.1" stroke="#b4c8d0" stroke-width="0.25"/><path d="M1170.8,353.1 Q1175.8,353.0 1180.6,345.1" stroke="#c4d5dc" stroke-width="0.24"/><path d="M1161.1,352.4 Q1160.9,344.8 1153.3,339.2" stroke="#d6e4e9" stroke-width="0.27"/><path d="M1156.0,341.0 Q1163.2,338.2 1162.8,333.7" stroke="#d6e4e9" stroke-width="0.24"/><path d="M1143.8,338.3 Q1146.0,346.1 1145.1,359.2" stroke="#c4d5dc" stroke-width="0.39"/><path d="M1190.3,380.2 Q1192.4,387.0 1202.9,387.0" stroke="#8aa2ac" stroke-width="0.32"/><path d="M1174.1,364.1 Q1178.5,350.3 1184.5,345.6" stroke="#c4d5dc" stroke-width="0.31"/><path d="M1173.0,384.6 Q1176.2,396.9 1180.2,400.2" stroke="#d6e4e9" stroke-width="0.32"/><path d="M1151.1,371.2 Q1155.7,365.5 1156.7,350.0" stroke="#d6e4e9" stroke-width="0.38"/><path d="M1198.7,337.7 Q1207.6,336.9 1207.6,340.5" stroke="#8aa2ac" stroke-width="0.29"/><path d="M1135.3,329.9 Q1139.3,323.7 1145.1,320.4" stroke="#d6e4e9" stroke-width="0.25"/><path d="M1194.9,380.1 Q1195.6,368.9 1194.2,363.2" stroke="#b4c8d0" stroke-width="0.24"/><path d="M1208.6,333.4 Q1216.2,325.7 1215.2,327.6" stroke="#8aa2ac" stroke-width="0.21"/><path d="M1128.0,358.3 Q1129.6,352.0 1136.6,348.7" stroke="#d6e4e9" stroke-width="0.22"/><path d="M1170.8,325.8 Q1168.5,312.2 1164.9,304.7" stroke="#b4c8d0" stroke-width="0.28"/><path d="M1195.2,354.7 Q1197.5,361.9 1201.3,359.6" stroke="#8aa2ac" stroke-width="0.23"/><path d="M1155.7,347.4 Q1159.6,355.0 1165.1,365.2" stroke="#c4d5dc" stroke-width="0.21"/><path d="M1160.9,365.8 Q1148.8,360.0 1146.1,359.0" stroke="#b4c8d0" stroke-width="0.20"/><path d="M1141.8,363.7 Q1137.3,368.4 1129.2,374.1" stroke="#d6e4e9" stroke-width="0.29"/><path d="M1141.6,362.2 Q1141.2,357.2 1147.9,354.1" stroke="#d6e4e9" stroke-width="0.36"/><path d="M1141.0,374.5 Q1139.2,379.4 1141.9,380.7" stroke="#b4c8d0" stroke-width="0.30"/><path d="M1172.1,386.4 Q1171.9,380.5 1169.9,371.8" stroke="#8aa2ac" stroke-width="0.37"/><path d="M1190.6,373.5 Q1180.3,379.3 1171.4,379.2" stroke="#8aa2ac" stroke-width="0.39"/><path d="M1184.0,353.5 Q1177.1,357.9 1179.7,359.7" stroke="#8aa2ac" stroke-width="0.29"/><path d="M1128.2,342.5 Q1124.5,336.3 1126.5,336.6" stroke="#c4d5dc" stroke-width="0.25"/><path d="M1186.7,365.7 Q1191.0,372.7 1201.0,373.2" stroke="#8aa2ac" stroke-width="0.33"/><path d="M1124.8,332.6 Q1113.9,332.0 1104.3,326.5" stroke="#8aa2ac" stroke-width="0.34"/><path d="M1209.7,377.9 Q1216.6,376.7 1222.6,374.2" stroke="#b4c8d0" stroke-width="0.20"/><path d="M1205.7,366.3 Q1206.2,370.9 1198.4,377.5" stroke="#b4c8d0" stroke-width="0.35"/><path d="M1160.4,370.6 Q1166.3,366.1 1164.3,363.4" stroke="#c4d5dc" stroke-width="0.25"/><path d="M1163.0,367.8 Q1167.5,378.0 1173.4,385.4" stroke="#8aa2ac" stroke-width="0.25"/><path d="M1174.3,365.7 Q1172.3,371.1 1164.7,376.8" stroke="#8aa2ac" stroke-width="0.38"/><path d="M1132.6,351.3 Q1128.1,345.4 1124.5,343.1" stroke="#8aa2ac" stroke-width="0.38"/><path d="M1137.7,370.4 Q1139.3,376.7 1130.9,388.7" stroke="#b4c8d0" stroke-width="0.27"/><path d="M1186.5,339.1 Q1193.9,346.4 1205.3,349.1" stroke="#d6e4e9" stroke-width="0.30"/><path d="M1205.2,330.9 Q1211.0,329.6 1222.2,324.3" stroke="#b4c8d0" stroke-width="0.25"/><path d="M1175.7,380.1 Q1179.8,372.3 1187.2,368.8" stroke="#8aa2ac" stroke-width="0.27"/><path d="M1171.9,340.3 Q1164.4,334.7 1164.6,334.4" stroke="#c4d5dc" stroke-width="0.33"/><path d="M1174.8,346.0 Q1176.4,346.5 1177.9,352.5" stroke="#d6e4e9" stroke-width="0.27"/><path d="M1136.6,336.0 Q1132.4,334.4 1119.5,338.3" stroke="#b4c8d0" stroke-width="0.28"/><path d="M1149.8,369.1 Q1150.3,373.8 1151.8,380.0" stroke="#c4d5dc" stroke-width="0.38"/><path d="M1175.3,352.0 Q1175.8,353.7 1173.1,358.5" stroke="#8aa2ac" stroke-width="0.31"/><path d="M1183.1,377.3 Q1187.3,368.1 1186.5,367.7" stroke="#b4c8d0" stroke-width="0.38"/><path d="M1138.3,381.7 Q1143.8,382.6 1156.9,376.7" stroke="#b4c8d0" stroke-width="0.29"/><path d="M1210.3,376.5 Q1209.5,380.8 1208.8,387.0" stroke="#d6e4e9" stroke-width="0.24"/><path d="M1203.2,361.1 Q1207.7,362.6 1215.3,358.6" stroke="#8aa2ac" stroke-width="0.23"/><path d="M1148.2,382.5 Q1138.7,383.4 1132.6,391.9" stroke="#c4d5dc" stroke-width="0.31"/><path d="M1215.3,349.9 Q1217.8,357.9 1223.7,368.1" stroke="#b4c8d0" stroke-width="0.36"/><path d="M1136.7,381.1 Q1129.6,385.5 1127.7,382.2" stroke="#b4c8d0" stroke-width="0.34"/><path d="M1136.3,356.6 Q1142.5,366.9 1140.5,368.6" stroke="#b4c8d0" stroke-width="0.25"/><path d="M1126.2,367.8 Q1118.3,379.2 1114.4,384.5" stroke="#c4d5dc" stroke-width="0.32"/><path d="M1189.0,356.9 Q1182.4,348.7 1171.1,350.3" stroke="#8aa2ac" stroke-width="0.31"/><path d="M1188.1,345.6 Q1188.7,339.2 1183.5,338.7" stroke="#b4c8d0" stroke-width="0.23"/><path d="M1203.6,385.1 Q1200.0,390.5 1201.5,393.9" stroke="#d6e4e9" stroke-width="0.25"/><path d="M1199.6,352.6 Q1194.5,353.2 1190.4,363.1" stroke="#c4d5dc" stroke-width="0.28"/><path d="M1129.2,363.2 Q1128.1,355.2 1131.9,350.0" stroke="#8aa2ac" stroke-width="0.28"/><path d="M1157.0,361.6 Q1153.9,365.6 1156.7,371.0" stroke="#d6e4e9" stroke-width="0.35"/><path d="M1176.3,366.8 Q1177.5,374.3 1180.0,375.1" stroke="#b4c8d0" stroke-width="0.35"/><path d="M1182.7,374.1 Q1185.2,371.9 1195.0,363.8" stroke="#c4d5dc" stroke-width="0.35"/><path d="M1128.0,340.9 Q1120.8,337.9 1121.5,339.8" stroke="#d6e4e9" stroke-width="0.34"/><path d="M1147.0,366.9 Q1149.7,363.7 1148.7,354.3" stroke="#b4c8d0" stroke-width="0.33"/><path d="M1127.9,371.7 Q1134.6,368.2 1138.2,359.6" stroke="#d6e4e9" stroke-width="0.37"/><path d="M1145.8,383.2 Q1145.5,382.6 1146.0,390.5" stroke="#c4d5dc" stroke-width="0.40"/><path d="M1142.0,384.2 Q1139.6,389.4 1132.4,388.4" stroke="#d6e4e9" stroke-width="0.33"/><path d="M1129.7,378.4 Q1128.0,383.0 1126.8,394.3" stroke="#8aa2ac" stroke-width="0.27"/><path d="M1207.6,363.5 Q1208.0,363.9 1210.9,370.4" stroke="#c4d5dc" stroke-width="0.25"/><path d="M1151.8,325.3 Q1155.6,327.7 1153.9,333.5" stroke="#b4c8d0" stroke-width="0.37"/><path d="M1180.2,360.7 Q1189.0,362.9 1195.4,358.4" stroke="#b4c8d0" stroke-width="0.27"/><path d="M1137.7,385.3 Q1129.9,392.0 1131.2,392.5" stroke="#c4d5dc" stroke-width="0.31"/><path d="M1166.4,386.6 Q1156.8,390.3 1148.9,392.7" stroke="#b4c8d0" stroke-width="0.26"/><path d="M1195.7,344.3 Q1199.1,354.8 1209.0,361.3" stroke="#d6e4e9" stroke-width="0.20"/><path d="M1183.4,377.1 Q1189.6,375.9 1197.9,376.9" stroke="#c4d5dc" stroke-width="0.24"/><path d="M1182.1,365.2 Q1187.2,359.9 1183.7,358.6" stroke="#d6e4e9" stroke-width="0.26"/><path d="M1212.8,341.7 Q1203.9,341.7 1204.8,347.1" stroke="#d6e4e9" stroke-width="0.34"/><path d="M1207.9,345.3 Q1209.3,346.8 1200.6,346.3" stroke="#c4d5dc" stroke-width="0.33"/><path d="M1161.6,354.8 Q1162.4,362.2 1154.0,361.1" stroke="#b4c8d0" stroke-width="0.34"/><path d="M1153.6,364.5 Q1167.4,366.0 1171.7,373.9" stroke="#c4d5dc" stroke-width="0.31"/><path d="M1128.3,326.0 Q1132.0,338.3 1135.9,341.8" stroke="#b4c8d0" stroke-width="0.36"/><path d="M1143.4,368.7 Q1142.9,367.4 1145.5,362.3" stroke="#c4d5dc" stroke-width="0.32"/><path d="M1157.3,368.2 Q1160.5,369.9 1154.7,377.0" stroke="#d6e4e9" stroke-width="0.27"/><path d="M1199.0,370.5 Q1189.1,366.0 1179.6,364.4" stroke="#8aa2ac" stroke-width="0.27"/><path d="M1169.6,351.3 Q1165.8,352.6 1154.2,356.3" stroke="#c4d5dc" stroke-width="0.27"/><path d="M1140.7,356.6 Q1140.1,363.4 1132.6,367.1" stroke="#d6e4e9" stroke-width="0.30"/><path d="M1173.6,345.9 Q1168.4,341.4 1168.1,337.8" stroke="#8aa2ac" stroke-width="0.22"/><path d="M1144.9,363.9 Q1144.0,360.9 1136.5,348.4" stroke="#8aa2ac" stroke-width="0.27"/><path d="M1195.8,331.0 Q1194.0,332.1 1185.0,331.5" stroke="#8aa2ac" stroke-width="0.36"/><path d="M1166.9,379.0 Q1169.3,382.8 1172.3,390.4" stroke="#b4c8d0" stroke-width="0.29"/><path d="M1140.2,324.7 Q1147.5,316.3 1152.1,306.7" stroke="#8aa2ac" stroke-width="0.20"/><path d="M1127.8,356.4 Q1134.9,360.7 1134.9,367.1" stroke="#8aa2ac" stroke-width="0.23"/><path d="M1172.2,384.2 Q1180.0,380.7 1180.7,387.2" stroke="#c4d5dc" stroke-width="0.30"/><path d="M1149.6,357.9 Q1140.8,365.4 1140.8,365.2" stroke="#b4c8d0" stroke-width="0.38"/><path d="M1183.5,354.6 Q1177.1,350.3 1171.8,337.6" stroke="#c4d5dc" stroke-width="0.24"/><path d="M1203.9,364.1 Q1207.1,366.9 1208.4,378.8" stroke="#c4d5dc" stroke-width="0.39"/><path d="M1183.5,369.4 Q1179.0,370.6 1178.8,363.1" stroke="#d6e4e9" stroke-width="0.23"/><path d="M1172.8,324.9 Q1179.3,320.9 1181.2,317.3" stroke="#c4d5dc" stroke-width="0.25"/><path d="M1131.0,377.8 Q1138.6,382.1 1147.5,382.6" stroke="#c4d5dc" stroke-width="0.24"/><path d="M1168.3,383.8 Q1157.9,375.8 1155.3,368.0" stroke="#d6e4e9" stroke-width="0.24"/><path d="M1147.2,364.5 Q1145.2,365.1 1138.8,370.5" stroke="#c4d5dc" stroke-width="0.23"/><path d="M1127.0,348.9 Q1126.6,346.9 1118.9,336.5" stroke="#c4d5dc" stroke-width="0.25"/><path d="M1134.9,353.7 Q1130.7,354.2 1121.9,356.3" stroke="#8aa2ac" stroke-width="0.37"/><path d="M1129.9,329.3 Q1138.9,331.4 1141.0,341.8" stroke="#8aa2ac" stroke-width="0.25"/><path d="M1173.5,348.0 Q1179.3,349.7 1181.5,343.9" stroke="#8aa2ac" stroke-width="0.31"/><path d="M1194.6,365.6 Q1196.6,365.8 1200.6,363.3" stroke="#c4d5dc" stroke-width="0.37"/><path d="M1156.9,340.5 Q1146.1,341.5 1142.7,340.4" stroke="#d6e4e9" stroke-width="0.24"/><path d="M1180.4,358.0 Q1179.7,357.1 1186.2,350.6" stroke="#c4d5dc" stroke-width="0.37"/><path d="M1155.3,382.7 Q1160.8,383.4 1165.4,389.3" stroke="#8aa2ac" stroke-width="0.29"/><path d="M1178.1,368.8 Q1175.6,369.6 1170.5,378.7" stroke="#b4c8d0" stroke-width="0.28"/><path d="M1186.5,344.9 Q1183.6,337.4 1184.2,338.4" stroke="#c4d5dc" stroke-width="0.30"/><path d="M1200.3,329.8 Q1204.4,325.9 1212.0,328.8" stroke="#d6e4e9" stroke-width="0.30"/><path d="M1177.0,331.3 Q1169.9,329.3 1172.7,327.1" stroke="#8aa2ac" stroke-width="0.37"/><path d="M1197.1,375.5 Q1195.5,382.7 1197.5,384.7" stroke="#8aa2ac" stroke-width="0.27"/><path d="M1151.9,347.3 Q1145.2,352.0 1141.7,359.6" stroke="#8aa2ac" stroke-width="0.31"/><path d="M1188.1,345.4 Q1190.8,340.7 1191.8,333.5" stroke="#d6e4e9" stroke-width="0.26"/><path d="M1184.0,364.4 Q1185.3,373.5 1183.8,381.6" stroke="#8aa2ac" stroke-width="0.23"/><path d="M1169.7,333.0 Q1156.3,335.8 1151.7,329.0" stroke="#8aa2ac" stroke-width="0.28"/><path d="M1143.0,331.0 Q1148.3,330.5 1148.6,338.5" stroke="#8aa2ac" stroke-width="0.20"/><path d="M1193.8,381.4 Q1188.7,378.0 1176.8,377.9" stroke="#d6e4e9" stroke-width="0.38"/><path d="M1207.8,349.7 Q1209.5,338.9 1203.5,328.4" stroke="#c4d5dc" stroke-width="0.40"/><path d="M1186.3,382.1 Q1190.0,384.7 1196.9,387.5" stroke="#b4c8d0" stroke-width="0.29"/><path d="M1179.1,379.3 Q1178.5,384.1 1184.1,383.1" stroke="#b4c8d0" stroke-width="0.40"/><path d="M1149.1,376.7 Q1156.9,385.2 1161.9,393.9" stroke="#d6e4e9" stroke-width="0.31"/><path d="M1189.4,381.9 Q1185.7,372.2 1176.6,370.2" stroke="#c4d5dc" stroke-width="0.25"/><path d="M1169.6,329.9 Q1167.5,334.1 1159.1,328.8" stroke="#8aa2ac" stroke-width="0.30"/><path d="M1131.8,340.7 Q1136.2,337.1 1136.1,335.9" stroke="#8aa2ac" stroke-width="0.37"/><path d="M1143.6,364.7 Q1141.8,373.6 1137.4,379.7" stroke="#c4d5dc" stroke-width="0.21"/><path d="M1198.1,366.7 Q1201.2,364.9 1205.1,363.9" stroke="#c4d5dc" stroke-width="0.30"/><path d="M1182.3,345.9 Q1177.0,346.7 1180.4,340.2" stroke="#8aa2ac" stroke-width="0.40"/><path d="M1132.0,341.0 Q1131.4,328.9 1125.2,324.0" stroke="#8aa2ac" stroke-width="0.31"/><path d="M1159.2,328.0 Q1161.5,329.4 1156.0,321.8" stroke="#8aa2ac" stroke-width="0.39"/><path d="M1192.3,347.1 Q1190.2,348.6 1189.4,340.2" stroke="#8aa2ac" stroke-width="0.36"/><path d="M1198.0,331.8 Q1198.9,332.3 1190.9,331.7" stroke="#b4c8d0" stroke-width="0.34"/><path d="M1202.4,366.6 Q1209.8,367.3 1212.3,370.1" stroke="#c4d5dc" stroke-width="0.22"/><path d="M1180.2,377.8 Q1173.5,376.3 1171.7,384.6" stroke="#b4c8d0" stroke-width="0.28"/><path d="M1199.5,324.9 Q1192.7,323.6 1179.2,326.3" stroke="#b4c8d0" stroke-width="0.37"/><path d="M1187.9,361.3 Q1195.3,356.6 1195.9,358.5" stroke="#b4c8d0" stroke-width="0.24"/><path d="M1200.2,365.8 Q1205.1,373.6 1213.7,372.4" stroke="#d6e4e9" stroke-width="0.27"/><path d="M1183.4,340.1 Q1176.3,334.0 1167.5,336.8" stroke="#b4c8d0" stroke-width="0.33"/><path d="M1194.7,380.7 Q1207.1,379.2 1212.9,371.1" stroke="#c4d5dc" stroke-width="0.27"/><path d="M1176.3,363.4 Q1166.4,355.4 1164.1,350.4" stroke="#b4c8d0" stroke-width="0.34"/><path d="M1206.9,369.9 Q1198.6,365.7 1194.9,360.0" stroke="#d6e4e9" stroke-width="0.29"/><path d="M1185.6,386.4 Q1179.1,384.3 1165.8,391.4" stroke="#d6e4e9" stroke-width="0.27"/><path d="M1214.9,327.2 Q1210.0,321.5 1205.3,309.7" stroke="#d6e4e9" stroke-width="0.30"/><path d="M1159.7,349.2 Q1158.1,341.3 1165.8,337.4" stroke="#c4d5dc" stroke-width="0.22"/><path d="M1196.1,326.5 Q1206.6,328.7 1209.4,331.5" stroke="#8aa2ac" stroke-width="0.39"/><path d="M1142.7,352.9 Q1132.7,348.5 1130.6,342.7" stroke="#b4c8d0" stroke-width="0.24"/><path d="M1152.1,381.0 Q1155.5,384.9 1163.1,387.3" stroke="#b4c8d0" stroke-width="0.29"/><path d="M1167.0,363.9 Q1165.3,350.4 1164.6,343.6" stroke="#8aa2ac" stroke-width="0.28"/><path d="M1201.8,336.1 Q1196.9,339.5 1199.2,350.3" stroke="#b4c8d0" stroke-width="0.30"/><path d="M1180.5,366.7 Q1188.4,363.7 1187.6,365.4" stroke="#b4c8d0" stroke-width="0.23"/><path d="M1174.2,354.1 Q1170.0,357.2 1170.1,366.0" stroke="#b4c8d0" stroke-width="0.22"/><path d="M1210.3,368.1 Q1218.6,363.4 1224.6,360.6" stroke="#d6e4e9" stroke-width="0.25"/><path d="M1147.2,361.6 Q1151.5,363.3 1149.4,355.8" stroke="#b4c8d0" stroke-width="0.34"/><path d="M1189.8,382.9 Q1196.9,379.9 1195.1,379.6" stroke="#8aa2ac" stroke-width="0.39"/><path d="M1140.7,347.3 Q1135.5,340.4 1130.3,338.6" stroke="#d6e4e9" stroke-width="0.36"/><path d="M1165.5,352.4 Q1157.1,350.4 1154.0,348.8" stroke="#8aa2ac" stroke-width="0.24"/><path d="M1134.3,362.5 Q1129.9,366.2 1117.1,373.4" stroke="#8aa2ac" stroke-width="0.24"/><path d="M1190.8,342.1 Q1198.6,344.8 1198.4,351.8" stroke="#8aa2ac" stroke-width="0.35"/><path d="M1200.4,343.2 Q1204.1,352.1 1208.3,360.8" stroke="#d6e4e9" stroke-width="0.25"/><path d="M1214.8,325.3 Q1209.1,320.8 1195.9,323.1" stroke="#c4d5dc" stroke-width="0.26"/><path d="M1164.7,370.1 Q1173.4,364.8 1185.2,364.4" stroke="#c4d5dc" stroke-width="0.32"/><path d="M1128.4,357.0 Q1135.4,363.0 1134.5,371.4" stroke="#d6e4e9" stroke-width="0.25"/><path d="M1152.7,354.3 Q1154.4,357.0 1158.2,361.0" stroke="#b4c8d0" stroke-width="0.39"/><path d="M1209.5,333.6 Q1218.4,332.3 1223.9,322.2" stroke="#d6e4e9" stroke-width="0.20"/><path d="M1166.0,381.3 Q1167.1,375.4 1170.7,359.8" stroke="#c4d5dc" stroke-width="0.21"/><path d="M1182.2,328.6 Q1193.3,316.8 1194.4,312.3" stroke="#8aa2ac" stroke-width="0.37"/><path d="M1132.2,335.4 Q1136.5,340.7 1132.6,344.6" stroke="#d6e4e9" stroke-width="0.38"/><path d="M1188.0,368.0 Q1186.8,370.0 1191.8,380.4" stroke="#c4d5dc" stroke-width="0.27"/><path d="M1200.7,369.3 Q1196.2,371.6 1183.3,378.0" stroke="#8aa2ac" stroke-width="0.23"/><path d="M1159.5,337.7 Q1152.9,342.7 1141.1,338.8" stroke="#b4c8d0" stroke-width="0.29"/><path d="M1156.9,336.5 Q1156.5,339.7 1154.7,342.9" stroke="#b4c8d0" stroke-width="0.35"/><path d="M1203.1,342.0 Q1200.6,343.3 1196.5,337.8" stroke="#8aa2ac" stroke-width="0.35"/><path d="M1208.3,358.3 Q1206.2,352.2 1195.7,349.6" stroke="#b4c8d0" stroke-width="0.36"/><path d="M1150.6,361.4 Q1152.8,371.6 1157.3,372.8" stroke="#d6e4e9" stroke-width="0.23"/><path d="M1194.7,365.3 Q1198.5,369.2 1197.1,371.9" stroke="#d6e4e9" stroke-width="0.31"/><path d="M1167.4,358.9 Q1171.1,364.6 1183.8,373.3" stroke="#c4d5dc" stroke-width="0.26"/><path d="M1144.7,337.5 Q1148.7,330.7 1142.6,320.4" stroke="#b4c8d0" stroke-width="0.40"/><path d="M1131.2,348.7 Q1131.7,357.6 1135.5,362.5" stroke="#c4d5dc" stroke-width="0.36"/><path d="M1187.9,345.3 Q1193.6,348.7 1196.0,346.2" stroke="#b4c8d0" stroke-width="0.32"/><path d="M1161.4,327.5 Q1164.3,334.4 1171.4,336.0" stroke="#c4d5dc" stroke-width="0.37"/><path d="M1190.0,382.6 Q1191.1,378.9 1189.5,374.2" stroke="#c4d5dc" stroke-width="0.35"/><path d="M1157.0,359.2 Q1151.3,363.9 1150.1,361.1" stroke="#b4c8d0" stroke-width="0.37"/><path d="M1189.9,355.0 Q1183.4,357.7 1179.5,363.3" stroke="#8aa2ac" stroke-width="0.29"/><path d="M1213.8,352.6 Q1215.4,349.9 1225.8,343.3" stroke="#d6e4e9" stroke-width="0.32"/><path d="M1167.9,342.1 Q1166.0,338.4 1170.5,328.6" stroke="#c4d5dc" stroke-width="0.33"/><path d="M1150.5,383.0 Q1142.9,377.5 1139.5,379.7" stroke="#8aa2ac" stroke-width="0.37"/><path d="M1195.9,385.7 Q1203.6,387.4 1207.6,385.8" stroke="#d6e4e9" stroke-width="0.34"/><path d="M1148.3,359.0 Q1142.4,362.4 1138.6,358.2" stroke="#b4c8d0" stroke-width="0.35"/><path d="M1147.5,355.9 Q1144.0,357.8 1142.1,369.3" stroke="#b4c8d0" stroke-width="0.23"/><path d="M1150.3,379.8 Q1151.5,376.4 1158.5,378.4" stroke="#b4c8d0" stroke-width="0.29"/><path d="M1162.5,339.7 Q1164.5,334.8 1172.0,332.1" stroke="#d6e4e9" stroke-width="0.29"/><path d="M1214.2,331.5 Q1216.5,320.6 1215.4,317.8" stroke="#b4c8d0" stroke-width="0.26"/><path d="M1125.8,369.5 Q1125.0,370.2 1129.8,379.8" stroke="#8aa2ac" stroke-width="0.21"/><path d="M1127.4,364.7 Q1124.9,370.9 1117.1,379.6" stroke="#8aa2ac" stroke-width="0.34"/><path d="M1207.4,363.9 Q1196.5,362.3 1193.4,353.3" stroke="#b4c8d0" stroke-width="0.27"/><path d="M1180.1,364.0 Q1179.1,362.4 1186.4,358.0" stroke="#c4d5dc" stroke-width="0.27"/><path d="M1138.2,374.4 Q1142.5,379.2 1152.5,374.3" stroke="#c4d5dc" stroke-width="0.31"/><path d="M1133.8,328.7 Q1140.1,330.9 1143.8,338.4" stroke="#8aa2ac" stroke-width="0.33"/><path d="M1128.5,378.0 Q1129.0,388.0 1132.1,394.5" stroke="#8aa2ac" stroke-width="0.39"/><path d="M1189.7,351.3 Q1190.1,357.0 1197.1,358.4" stroke="#c4d5dc" stroke-width="0.37"/><path d="M1155.7,377.3 Q1157.0,372.8 1161.6,367.2" stroke="#c4d5dc" stroke-width="0.36"/><path d="M1181.1,336.8 Q1173.3,331.0 1161.7,330.8" stroke="#d6e4e9" stroke-width="0.22"/><path d="M1130.0,330.8 Q1127.6,321.8 1124.8,311.2" stroke="#c4d5dc" stroke-width="0.29"/><path d="M1178.3,374.7 Q1174.6,384.6 1171.4,384.9" stroke="#d6e4e9" stroke-width="0.21"/><path d="M1129.8,351.1 Q1135.8,357.7 1143.0,368.1" stroke="#d6e4e9" stroke-width="0.30"/><path d="M1212.8,371.0 Q1226.8,375.4 1231.1,375.8" stroke="#c4d5dc" stroke-width="0.38"/><path d="M1165.4,365.7 Q1159.0,375.5 1156.1,377.3" stroke="#c4d5dc" stroke-width="0.36"/><path d="M1153.8,385.6 Q1158.5,381.1 1162.2,385.7" stroke="#b4c8d0" stroke-width="0.36"/><path d="M1130.8,325.1 Q1135.4,316.1 1131.8,313.3" stroke="#c4d5dc" stroke-width="0.22"/><path d="M1125.2,348.9 Q1128.0,355.9 1136.3,355.5" stroke="#d6e4e9" stroke-width="0.35"/><path d="M1182.5,353.3 Q1181.2,350.0 1187.4,347.3" stroke="#b4c8d0" stroke-width="0.20"/><path d="M1153.4,336.1 Q1152.2,330.4 1152.2,328.4" stroke="#c4d5dc" stroke-width="0.33"/><path d="M1206.6,336.1 Q1214.9,341.4 1218.5,341.8" stroke="#c4d5dc" stroke-width="0.33"/><path d="M1149.4,369.9 Q1145.2,368.6 1145.2,364.8" stroke="#b4c8d0" stroke-width="0.38"/><path d="M1159.3,326.0 Q1160.9,330.3 1158.3,337.9" stroke="#8aa2ac" stroke-width="0.26"/><path d="M1205.7,382.2 Q1215.7,387.3 1220.0,385.4" stroke="#b4c8d0" stroke-width="0.39"/><path d="M1141.3,372.8 Q1136.9,370.0 1130.3,367.0" stroke="#c4d5dc" stroke-width="0.25"/><path d="M1135.7,342.1 Q1129.8,354.3 1126.9,359.0" stroke="#b4c8d0" stroke-width="0.28"/><path d="M1203.6,333.4 Q1200.2,332.2 1196.8,327.2" stroke="#d6e4e9" stroke-width="0.24"/><path d="M1190.1,339.2 Q1187.9,342.8 1187.9,346.4" stroke="#c4d5dc" stroke-width="0.33"/><path d="M1181.6,325.7 Q1183.5,319.4 1175.7,321.8" stroke="#d6e4e9" stroke-width="0.33"/><path d="M1131.8,381.0 Q1137.1,373.0 1150.7,370.7" stroke="#d6e4e9" stroke-width="0.37"/><path d="M1205.8,378.4 Q1207.8,373.8 1211.3,375.1" stroke="#d6e4e9" stroke-width="0.21"/><path d="M1196.5,326.3 Q1194.5,324.1 1199.6,319.7" stroke="#8aa2ac" stroke-width="0.38"/><path d="M1169.4,327.0 Q1163.5,326.3 1155.4,320.6" stroke="#8aa2ac" stroke-width="0.40"/><path d="M1193.1,333.7 Q1200.1,342.4 1207.2,342.1" stroke="#c4d5dc" stroke-width="0.26"/><path d="M1152.9,362.9 Q1143.6,362.4 1138.6,367.3" stroke="#8aa2ac" stroke-width="0.31"/><path d="M1185.5,385.3 Q1184.2,393.4 1188.1,401.6" stroke="#c4d5dc" stroke-width="0.25"/><path d="M1141.4,330.2 Q1145.4,331.3 1159.3,333.6" stroke="#d6e4e9" stroke-width="0.40"/><path d="M1148.4,346.4 Q1147.9,352.2 1153.6,352.1" stroke="#b4c8d0" stroke-width="0.24"/><path d="M1212.6,357.5 Q1211.8,347.9 1216.0,347.9" stroke="#8aa2ac" stroke-width="0.23"/><path d="M1214.6,376.7 Q1221.1,376.0 1225.7,374.3" stroke="#d6e4e9" stroke-width="0.22"/><path d="M1152.8,327.1 Q1156.1,322.2 1157.1,312.0" stroke="#d6e4e9" stroke-width="0.33"/><path d="M1192.0,328.5 Q1189.4,325.1 1195.2,313.2" stroke="#8aa2ac" stroke-width="0.27"/><path d="M1153.8,331.8 Q1158.2,343.6 1161.1,346.6" stroke="#8aa2ac" stroke-width="0.30"/><path d="M1151.3,368.7 Q1144.6,372.3 1139.6,370.3" stroke="#8aa2ac" stroke-width="0.28"/><path d="M1203.7,351.9 Q1207.1,361.8 1218.6,367.8" stroke="#c4d5dc" stroke-width="0.21"/><path d="M1155.2,369.8 Q1148.9,370.5 1138.7,363.9" stroke="#b4c8d0" stroke-width="0.28"/><path d="M1142.9,345.3 Q1147.5,335.2 1154.9,330.4" stroke="#c4d5dc" stroke-width="0.32"/><path d="M1207.9,371.0 Q1204.6,369.6 1199.5,371.0" stroke="#8aa2ac" stroke-width="0.36"/><path d="M1191.3,369.9 Q1197.4,374.4 1200.4,379.5" stroke="#b4c8d0" stroke-width="0.29"/><path d="M1174.9,326.4 Q1172.2,339.5 1166.7,345.6" stroke="#8aa2ac" stroke-width="0.30"/><path d="M1177.8,386.5 Q1188.5,388.6 1193.0,391.6" stroke="#b4c8d0" stroke-width="0.33"/><path d="M1199.8,363.6 Q1203.3,362.0 1201.3,353.7" stroke="#c4d5dc" stroke-width="0.40"/><path d="M1131.4,331.9 Q1136.4,337.5 1134.5,337.4" stroke="#d6e4e9" stroke-width="0.27"/><path d="M1166.0,335.1 Q1161.1,326.8 1164.8,321.9" stroke="#b4c8d0" stroke-width="0.32"/><path d="M1175.4,342.2 Q1180.6,337.7 1186.1,337.4" stroke="#8aa2ac" stroke-width="0.24"/><path d="M1156.5,352.0 Q1149.5,353.9 1136.7,357.3" stroke="#8aa2ac" stroke-width="0.21"/><path d="M1149.4,357.6 Q1151.5,352.5 1155.5,357.2" stroke="#c4d5dc" stroke-width="0.40"/><path d="M1126.1,334.5 Q1122.4,332.7 1121.0,340.4" stroke="#c4d5dc" stroke-width="0.26"/><path d="M1181.6,354.3 Q1186.7,366.0 1182.7,373.1" stroke="#c4d5dc" stroke-width="0.33"/><path d="M1126.1,379.8 Q1126.9,388.5 1130.5,392.9" stroke="#b4c8d0" stroke-width="0.37"/><path d="M1152.2,329.8 Q1158.6,332.1 1165.5,334.7" stroke="#8aa2ac" stroke-width="0.23"/><path d="M1156.6,330.8 Q1153.2,331.5 1140.6,328.3" stroke="#8aa2ac" stroke-width="0.33"/><path d="M1213.8,339.9 Q1216.3,339.9 1209.6,334.2" stroke="#8aa2ac" stroke-width="0.23"/><path d="M1136.0,354.3 Q1121.7,350.9 1117.3,351.7" stroke="#8aa2ac" stroke-width="0.39"/><path d="M1210.4,378.4 Q1216.4,378.5 1220.6,381.3" stroke="#8aa2ac" stroke-width="0.20"/><path d="M1210.4,342.1 Q1209.1,336.5 1208.1,325.4" stroke="#c4d5dc" stroke-width="0.34"/><path d="M1174.6,325.9 Q1165.1,318.8 1154.8,317.1" stroke="#d6e4e9" stroke-width="0.37"/><path d="M1136.1,377.0 Q1137.1,372.4 1133.0,359.6" stroke="#d6e4e9" stroke-width="0.23"/><path d="M1206.4,350.6 Q1197.1,342.7 1191.0,337.6" stroke="#c4d5dc" stroke-width="0.24"/><path d="M1184.5,330.3 Q1190.3,337.8 1196.8,339.7" stroke="#b4c8d0" stroke-width="0.22"/><path d="M1156.3,358.2 Q1161.7,354.8 1166.3,348.1" stroke="#d6e4e9" stroke-width="0.34"/><path d="M1166.0,351.6 Q1156.1,350.1 1150.1,352.2" stroke="#8aa2ac" stroke-width="0.35"/><path d="M1175.7,349.0 Q1184.2,351.6 1188.9,344.6" stroke="#d6e4e9" stroke-width="0.22"/><path d="M1192.8,362.3 Q1198.8,364.9 1203.7,357.8" stroke="#b4c8d0" stroke-width="0.35"/><path d="M1149.9,344.0 Q1148.7,343.2 1154.6,338.1" stroke="#b4c8d0" stroke-width="0.22"/><path d="M1127.3,330.5 Q1128.1,334.6 1123.1,337.0" stroke="#b4c8d0" stroke-width="0.27"/><path d="M1201.5,360.7 Q1206.3,365.2 1215.8,376.2" stroke="#d6e4e9" stroke-width="0.26"/><path d="M1181.7,381.3 Q1174.5,388.9 1176.2,393.3" stroke="#8aa2ac" stroke-width="0.34"/><path d="M1131.6,345.6 Q1130.7,347.2 1137.4,354.2" stroke="#c4d5dc" stroke-width="0.32"/><path d="M1153.4,345.0 Q1156.2,357.2 1166.7,360.5" stroke="#d6e4e9" stroke-width="0.25"/><path d="M1189.7,346.4 Q1191.4,345.4 1191.9,339.3" stroke="#b4c8d0" stroke-width="0.31"/><path d="M1164.2,346.0 Q1152.0,353.4 1147.7,359.0" stroke="#8aa2ac" stroke-width="0.29"/><path d="M1134.4,375.0 Q1140.5,378.2 1154.9,380.0" stroke="#c4d5dc" stroke-width="0.36"/><path d="M1159.3,370.7 Q1158.4,375.7 1157.2,385.3" stroke="#c4d5dc" stroke-width="0.34"/><path d="M1192.8,342.9 Q1191.3,343.6 1188.8,348.2" stroke="#8aa2ac" stroke-width="0.34"/><path d="M1202.1,347.2 Q1192.1,338.0 1182.9,337.8" stroke="#c4d5dc" stroke-width="0.32"/><path d="M1146.3,331.6 Q1150.8,338.1 1151.8,344.5" stroke="#b4c8d0" stroke-width="0.38"/><path d="M1151.4,355.1 Q1160.5,351.0 1165.6,343.3" stroke="#8aa2ac" stroke-width="0.30"/><path d="M1191.4,332.2 Q1199.5,337.0 1201.5,333.2" stroke="#b4c8d0" stroke-width="0.32"/><path d="M1163.3,344.9 Q1166.7,344.7 1175.3,344.9" stroke="#d6e4e9" stroke-width="0.38"/><path d="M1169.4,347.9 Q1171.5,345.5 1177.7,352.2" stroke="#b4c8d0" stroke-width="0.40"/><path d="M1213.3,355.7 Q1220.5,361.0 1221.3,372.9" stroke="#c4d5dc" stroke-width="0.35"/><path d="M1186.5,372.7 Q1192.8,368.9 1190.6,362.3" stroke="#b4c8d0" stroke-width="0.31"/><path d="M1204.0,383.4 Q1190.4,381.9 1184.7,380.6" stroke="#8aa2ac" stroke-width="0.40"/><path d="M1137.0,385.3 Q1141.3,387.5 1147.3,383.7" stroke="#b4c8d0" stroke-width="0.21"/><path d="M1136.3,380.7 Q1138.2,379.8 1131.1,376.2" stroke="#d6e4e9" stroke-width="0.36"/><path d="M1150.6,331.7 Q1144.0,326.3 1143.1,323.8" stroke="#8aa2ac" stroke-width="0.35"/><path d="M1162.2,351.1 Q1158.2,344.3 1164.0,335.8" stroke="#8aa2ac" stroke-width="0.22"/><path d="M1125.5,350.5 Q1127.1,354.0 1135.4,351.0" stroke="#8aa2ac" stroke-width="0.28"/><path d="M1213.3,380.9 Q1205.5,385.0 1206.4,390.9" stroke="#d6e4e9" stroke-width="0.33"/><path d="M1162.3,331.9 Q1172.1,332.7 1183.5,337.0" stroke="#8aa2ac" stroke-width="0.20"/><path d="M1127.6,359.3 Q1127.2,359.6 1131.4,365.2" stroke="#b4c8d0" stroke-width="0.31"/><path d="M1126.1,344.1 Q1123.6,344.5 1113.1,340.7" stroke="#d6e4e9" stroke-width="0.24"/><path d="M1173.9,378.3 Q1175.1,377.4 1174.6,368.1" stroke="#b4c8d0" stroke-width="0.39"/><path d="M1176.3,331.5 Q1180.0,330.9 1187.2,320.7" stroke="#c4d5dc" stroke-width="0.27"/><path d="M1153.6,342.9 Q1162.2,333.8 1161.8,327.3" stroke="#b4c8d0" stroke-width="0.31"/><path d="M1181.9,378.6 Q1174.6,378.5 1163.0,374.6" stroke="#c4d5dc" stroke-width="0.25"/><path d="M1135.1,335.3 Q1133.7,328.6 1139.5,330.4" stroke="#d6e4e9" stroke-width="0.26"/><path d="M1163.0,355.3 Q1169.3,350.2 1171.8,353.9" stroke="#d6e4e9" stroke-width="0.23"/><path d="M1192.5,325.0 Q1196.8,310.9 1197.5,304.3" stroke="#8aa2ac" stroke-width="0.29"/><path d="M1158.1,378.9 Q1157.7,370.3 1152.1,367.6" stroke="#8aa2ac" stroke-width="0.36"/><path d="M1213.7,340.1 Q1204.9,336.5 1202.7,342.9" stroke="#c4d5dc" stroke-width="0.28"/><path d="M1136.5,349.7 Q1129.3,344.6 1130.8,344.1" stroke="#c4d5dc" stroke-width="0.25"/><path d="M1194.3,324.7 Q1200.1,315.5 1204.1,313.7" stroke="#8aa2ac" stroke-width="0.32"/><path d="M1127.4,330.8 Q1117.4,332.2 1111.1,342.6" stroke="#b4c8d0" stroke-width="0.31"/><path d="M1189.3,330.6 Q1181.8,335.4 1184.2,341.6" stroke="#8aa2ac" stroke-width="0.21"/><path d="M1177.7,341.1 Q1170.6,340.4 1169.2,342.8" stroke="#8aa2ac" stroke-width="0.30"/><path d="M1144.8,371.2 Q1150.6,364.7 1148.8,364.1" stroke="#b4c8d0" stroke-width="0.31"/><path d="M1142.5,384.7 Q1152.0,381.8 1157.1,385.8" stroke="#c4d5dc" stroke-width="0.22"/><path d="M1171.4,350.7 Q1163.8,353.4 1159.5,352.0" stroke="#c4d5dc" stroke-width="0.20"/><path d="M1162.8,343.2 Q1169.7,340.0 1170.9,328.7" stroke="#c4d5dc" stroke-width="0.40"/><path d="M1145.0,353.5 Q1146.2,348.8 1156.7,335.8" stroke="#d6e4e9" stroke-width="0.26"/><path d="M1140.5,376.8 Q1146.3,371.1 1150.4,357.7" stroke="#8aa2ac" stroke-width="0.34"/><path d="M1168.2,325.6 Q1157.1,332.4 1152.7,337.3" stroke="#b4c8d0" stroke-width="0.21"/><path d="M1180.6,330.6 Q1183.6,338.3 1181.0,344.6" stroke="#8aa2ac" stroke-width="0.34"/></g>
<ellipse cx="1168.2" cy="346.8" rx="9" ry="7" fill="#c9a196" opacity="0.95"/>
<line x1="1135" y1="279.5" x2="1165" y2="344" stroke="#6a6a6a" stroke-width="0.9"/>
<line x1="1189" y1="279.2" x2="1171" y2="344" stroke="#6a6a6a" stroke-width="0.9"/>
<ellipse cx="1165.3" cy="259.6" rx="39" ry="27.5" fill="#dbe1f1" stroke="#767676" stroke-width="1.3"/>
<radialGradient id="cellg" cx="0.45" cy="0.4" r="0.6"><stop offset="0" stop-color="#ff2a2a"/><stop offset="0.7" stop-color="#e01018"/><stop offset="1" stop-color="#b00c10"/></radialGradient>
<path d="M1134,248 C1139,251 1143,253.5 1147,254.5 C1153,252 1160,251.5 1167,252 C1170,250 1172,246 1173.9,239.6 C1174,245 1175,249 1177,250.5 C1180,248 1182,245 1185.5,241.1 C1184,245 1182.5,248 1182,251.5 C1188,251 1193,250.2 1198.6,249.6 C1192,252.5 1186,255.5 1182,258.5 C1180,263 1179.5,268 1179.3,274.2 C1177,269 1176,265 1173,263.5 C1169,265 1166,266.5 1164,267 C1163,270 1162,273 1161.6,275.8 C1160,272 1159,270 1157,268 C1150,268.5 1143,271 1136.2,274.2 C1141,270 1144,266 1146,262 C1144,258 1139,252 1134,248 Z" fill="url(#cellg)" stroke="#9e0a0e" stroke-width="0.7"/>
<path d="M1150,256 C1156,253.5 1166,253.5 1172,255.5" fill="none" stroke="#ff7a7a" stroke-width="1" opacity="0.7"/>
<ellipse cx="1159.3" cy="258.8" rx="6.3" ry="4.2" transform="rotate(-15 1159.3 258.8)" fill="#3a3a3a"/>
<ellipse cx="1158" cy="257.5" rx="3" ry="1.5" transform="rotate(-15 1158 257.5)" fill="#777"/>
<line x1="839.6" y1="288.3" x2="864" y2="288.3" stroke="#111" stroke-width="1.1"/>
<path d="M861.5,284.3 L870,288.3 L861.5,292.3 Z" fill="#111"/>
<line x1="839.6" y1="359.2" x2="862" y2="359.2" stroke="#111" stroke-width="1.1"/>
<path d="M859.5,355.2 L868,359.2 L859.5,363.2 Z" fill="#111"/>
<g fill="none" stroke="#8195b6" stroke-width="1.55">
<rect x="390.8" y="26" width="239.5" height="233"/>
<rect x="390.8" y="271.6" width="239.5" height="136.9"/>
<rect x="756.2" y="27" width="476.8" height="381.5"/>
</g>
<g fill="none" stroke="#8195b6" stroke-width="2">
<polyline points="293,340 314.6,340 314.6,143.2 382,143.2"/>
<polyline points="314.6,340 382,340"/>
<polyline points="630.3,143.2 658,143.2 658,340 630.3,340"/>
<polyline points="658,217.5 747,217.5"/>
</g>
<g fill="#8195b6">
<path d="M381,139 L390,143.2 L381,147.5Z"/>
<path d="M381,335.8 L390,340 L381,344.3Z"/>
<path d="M746,213.3 L755,217.5 L746,221.8Z"/>
</g>
<g fill="#111" font-family="Liberation Sans, sans-serif">
<text x="79.5" y="59" font-size="38.5" text-anchor="start" >A</text>
<text x="360" y="58.8" font-size="38.5" text-anchor="start" >B</text>
<text x="723.5" y="58.8" font-size="38.5" text-anchor="start" >C</text>
<text x="192.9" y="51.2" font-size="19" text-anchor="start" >Electrospinning</text>
<text x="195" y="98.5" font-size="19" text-anchor="start" >20 %w/v</text>
<text x="195" y="120.9" font-size="19" text-anchor="start" >PCL in</text>
<text x="195" y="143.4" font-size="19" text-anchor="start" >HFIP</text>
<text x="510" y="49.5" font-size="19" text-anchor="middle" >Controlled fiber snapping</text>
<text x="424.3" y="73" font-size="17.5" text-anchor="middle" >0</text>
<text x="481.2" y="73" font-size="17.5" text-anchor="middle" >1</text>
<text x="538.5" y="73" font-size="17.5" text-anchor="middle" >2</text>
<text x="595.8" y="73" font-size="17.5" text-anchor="middle" >3</text>
<text x="508" y="294.8" font-size="19" text-anchor="middle" >Aligned continuous fibers</text>
<text x="347" y="137" font-size="18.5" text-anchor="middle" >100</text>
<text x="347" y="159.8" font-size="18.5" text-anchor="middle" >rpm</text>
<text x="351" y="335" font-size="18.5" text-anchor="middle" >10 000</text>
<text x="343" y="357.5" font-size="18.5" text-anchor="middle" >rpm</text>
<text x="669" y="212.5" font-size="19" text-anchor="start" >Collagen</text>
<text x="669" y="234.5" font-size="19" text-anchor="start" >coating</text>
<text x="994.5" y="52" font-size="19" text-anchor="middle" >Cell culture experiments:</text>
<text x="994.5" y="74.5" font-size="19" text-anchor="middle" >U87 parental cells; U87 morphology reporter cells</text>
<text x="907" y="133" font-size="19" text-anchor="middle" >1. Assembly</text>
<text x="1034.5" y="133" font-size="19" text-anchor="middle" >2. Seeding</text>
<text x="1165" y="133" font-size="19" text-anchor="middle" >3. Analysis</text>
<text x="1092" y="179.2" font-size="19" text-anchor="start" >-</text>
<text x="1113" y="179.2" font-size="19" text-anchor="start" >SEM-imaging</text>
<text x="1092" y="202.3" font-size="19" text-anchor="start" >-</text>
<text x="1113" y="202.3" font-size="19" text-anchor="start" >Fluorescence</text>
<text x="1113" y="224.2" font-size="19" text-anchor="start" >imaging</text>
<text x="948.5" y="207.6" font-size="19" text-anchor="start" >U87 cells</text>
<text x="767.8" y="234" font-size="19" text-anchor="start" >Cylinder</text>
<text x="767.8" y="256.6" font-size="19" text-anchor="start" >(Ø 5 mm)</text>
<text x="767.8" y="287.3" font-size="19" text-anchor="start" >fibers/</text>
<text x="767.8" y="308.2" font-size="19" text-anchor="start" >fragments</text>
<text x="767.8" y="346.8" font-size="19" text-anchor="start" >cell culture</text>
<text x="767.8" y="367.3" font-size="19" text-anchor="start" >well</text>
<text x="227.5" y="194" font-size="18.5" text-anchor="middle" transform="rotate(10 227.5 188)">1 ml/h</text>
<text x="171" y="220" font-size="18.5" text-anchor="middle" >5 kV</text>
<text x="204" y="290.2" font-size="18.5" text-anchor="middle" >-1 kV</text>
<text x="149.5" y="403" font-size="19" text-anchor="start" >mesh</text>
<text x="108" y="334" font-size="18.5" text-anchor="middle" transform="rotate(45 108 328)">9 cm</text>
</g>
</svg>
</body></html>
